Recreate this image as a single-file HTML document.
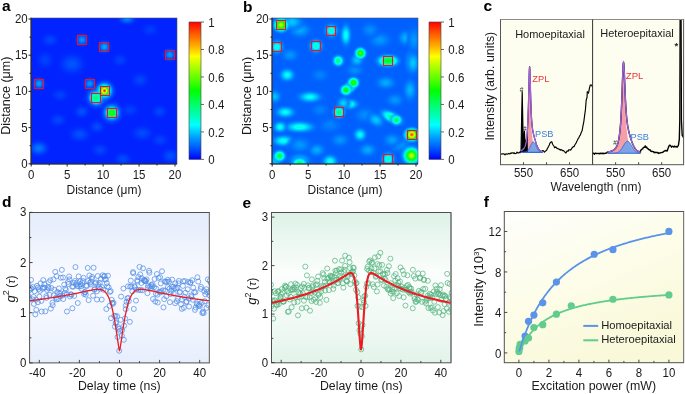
<!DOCTYPE html>
<html><head><meta charset="utf-8"><style>
html,body{margin:0;padding:0;background:#fff;}
body{width:685px;height:394px;overflow:hidden;}
svg{display:block;font-family:"Liberation Sans", sans-serif;will-change:transform;}
</style></head><body>
<svg width="685" height="394" viewBox="0 0 685 394">
<defs><radialGradient id="g0"><stop offset="0" stop-color="#0056ff" stop-opacity="1"/><stop offset="0.07" stop-color="#0055ff" stop-opacity="1"/><stop offset="0.14" stop-color="#0052ff" stop-opacity="1"/><stop offset="0.21" stop-color="#004eff" stop-opacity="1"/><stop offset="0.29" stop-color="#0049ff" stop-opacity="1"/><stop offset="0.36" stop-color="#0043ff" stop-opacity="1"/><stop offset="0.43" stop-color="#003dff" stop-opacity="1"/><stop offset="0.5" stop-color="#0038ff" stop-opacity="1"/><stop offset="0.57" stop-color="#0033ff" stop-opacity="0.95"/><stop offset="0.64" stop-color="#002fff" stop-opacity="0.79"/><stop offset="0.71" stop-color="#002dff" stop-opacity="0.63"/><stop offset="0.79" stop-color="#002aff" stop-opacity="0.48"/><stop offset="0.86" stop-color="#0029ff" stop-opacity="0.32"/><stop offset="0.93" stop-color="#0028ff" stop-opacity="0.16"/><stop offset="1" stop-color="#0027ff" stop-opacity="0"/></radialGradient><radialGradient id="g1"><stop offset="0" stop-color="#0084ff" stop-opacity="1"/><stop offset="0.07" stop-color="#0082ff" stop-opacity="1"/><stop offset="0.14" stop-color="#007dff" stop-opacity="1"/><stop offset="0.21" stop-color="#0074ff" stop-opacity="1"/><stop offset="0.29" stop-color="#006aff" stop-opacity="1"/><stop offset="0.36" stop-color="#005fff" stop-opacity="1"/><stop offset="0.43" stop-color="#0054ff" stop-opacity="1"/><stop offset="0.5" stop-color="#004aff" stop-opacity="1"/><stop offset="0.57" stop-color="#0042ff" stop-opacity="0.95"/><stop offset="0.64" stop-color="#003bff" stop-opacity="0.79"/><stop offset="0.71" stop-color="#0035ff" stop-opacity="0.63"/><stop offset="0.79" stop-color="#0031ff" stop-opacity="0.48"/><stop offset="0.86" stop-color="#002eff" stop-opacity="0.32"/><stop offset="0.93" stop-color="#002bff" stop-opacity="0.16"/><stop offset="1" stop-color="#002aff" stop-opacity="0"/></radialGradient><radialGradient id="g2"><stop offset="0" stop-color="#007aff" stop-opacity="1"/><stop offset="0.07" stop-color="#0078ff" stop-opacity="1"/><stop offset="0.14" stop-color="#0073ff" stop-opacity="1"/><stop offset="0.21" stop-color="#006cff" stop-opacity="1"/><stop offset="0.29" stop-color="#0063ff" stop-opacity="1"/><stop offset="0.36" stop-color="#0059ff" stop-opacity="1"/><stop offset="0.43" stop-color="#004fff" stop-opacity="1"/><stop offset="0.5" stop-color="#0046ff" stop-opacity="1"/><stop offset="0.57" stop-color="#003eff" stop-opacity="0.95"/><stop offset="0.64" stop-color="#0038ff" stop-opacity="0.79"/><stop offset="0.71" stop-color="#0033ff" stop-opacity="0.63"/><stop offset="0.79" stop-color="#002fff" stop-opacity="0.48"/><stop offset="0.86" stop-color="#002dff" stop-opacity="0.32"/><stop offset="0.93" stop-color="#002bff" stop-opacity="0.16"/><stop offset="1" stop-color="#0029ff" stop-opacity="0"/></radialGradient><radialGradient id="g3"><stop offset="0" stop-color="#0051ff" stop-opacity="1"/><stop offset="0.07" stop-color="#0050ff" stop-opacity="1"/><stop offset="0.14" stop-color="#004eff" stop-opacity="1"/><stop offset="0.21" stop-color="#004aff" stop-opacity="1"/><stop offset="0.29" stop-color="#0045ff" stop-opacity="1"/><stop offset="0.36" stop-color="#0040ff" stop-opacity="1"/><stop offset="0.43" stop-color="#003aff" stop-opacity="1"/><stop offset="0.5" stop-color="#0036ff" stop-opacity="1"/><stop offset="0.57" stop-color="#0032ff" stop-opacity="0.95"/><stop offset="0.64" stop-color="#002eff" stop-opacity="0.79"/><stop offset="0.71" stop-color="#002cff" stop-opacity="0.63"/><stop offset="0.79" stop-color="#002aff" stop-opacity="0.48"/><stop offset="0.86" stop-color="#0028ff" stop-opacity="0.32"/><stop offset="0.93" stop-color="#0027ff" stop-opacity="0.16"/><stop offset="1" stop-color="#0026ff" stop-opacity="0"/></radialGradient><radialGradient id="g4"><stop offset="0" stop-color="#0051ff" stop-opacity="1"/><stop offset="0.07" stop-color="#0050ff" stop-opacity="1"/><stop offset="0.14" stop-color="#004eff" stop-opacity="1"/><stop offset="0.21" stop-color="#004aff" stop-opacity="1"/><stop offset="0.29" stop-color="#0045ff" stop-opacity="1"/><stop offset="0.36" stop-color="#0040ff" stop-opacity="1"/><stop offset="0.43" stop-color="#003aff" stop-opacity="1"/><stop offset="0.5" stop-color="#0036ff" stop-opacity="1"/><stop offset="0.57" stop-color="#0032ff" stop-opacity="0.95"/><stop offset="0.64" stop-color="#002eff" stop-opacity="0.79"/><stop offset="0.71" stop-color="#002cff" stop-opacity="0.63"/><stop offset="0.79" stop-color="#002aff" stop-opacity="0.48"/><stop offset="0.86" stop-color="#0028ff" stop-opacity="0.32"/><stop offset="0.93" stop-color="#0027ff" stop-opacity="0.16"/><stop offset="1" stop-color="#0026ff" stop-opacity="0"/></radialGradient><radialGradient id="g5"><stop offset="0" stop-color="#004cff" stop-opacity="1"/><stop offset="0.07" stop-color="#004bff" stop-opacity="1"/><stop offset="0.14" stop-color="#0049ff" stop-opacity="1"/><stop offset="0.21" stop-color="#0045ff" stop-opacity="1"/><stop offset="0.29" stop-color="#0041ff" stop-opacity="1"/><stop offset="0.36" stop-color="#003cff" stop-opacity="1"/><stop offset="0.43" stop-color="#0038ff" stop-opacity="1"/><stop offset="0.5" stop-color="#0034ff" stop-opacity="1"/><stop offset="0.57" stop-color="#0030ff" stop-opacity="0.95"/><stop offset="0.64" stop-color="#002dff" stop-opacity="0.79"/><stop offset="0.71" stop-color="#002bff" stop-opacity="0.63"/><stop offset="0.79" stop-color="#0029ff" stop-opacity="0.48"/><stop offset="0.86" stop-color="#0028ff" stop-opacity="0.32"/><stop offset="0.93" stop-color="#0027ff" stop-opacity="0.16"/><stop offset="1" stop-color="#0026ff" stop-opacity="0"/></radialGradient><radialGradient id="g6"><stop offset="0" stop-color="#004cff" stop-opacity="1"/><stop offset="0.07" stop-color="#004bff" stop-opacity="1"/><stop offset="0.14" stop-color="#0049ff" stop-opacity="1"/><stop offset="0.21" stop-color="#0045ff" stop-opacity="1"/><stop offset="0.29" stop-color="#0041ff" stop-opacity="1"/><stop offset="0.36" stop-color="#003cff" stop-opacity="1"/><stop offset="0.43" stop-color="#0038ff" stop-opacity="1"/><stop offset="0.5" stop-color="#0034ff" stop-opacity="1"/><stop offset="0.57" stop-color="#0030ff" stop-opacity="0.95"/><stop offset="0.64" stop-color="#002dff" stop-opacity="0.79"/><stop offset="0.71" stop-color="#002bff" stop-opacity="0.63"/><stop offset="0.79" stop-color="#0029ff" stop-opacity="0.48"/><stop offset="0.86" stop-color="#0028ff" stop-opacity="0.32"/><stop offset="0.93" stop-color="#0027ff" stop-opacity="0.16"/><stop offset="1" stop-color="#0026ff" stop-opacity="0"/></radialGradient><radialGradient id="g7"><stop offset="0" stop-color="#0051ff" stop-opacity="1"/><stop offset="0.07" stop-color="#0050ff" stop-opacity="1"/><stop offset="0.14" stop-color="#004eff" stop-opacity="1"/><stop offset="0.21" stop-color="#004aff" stop-opacity="1"/><stop offset="0.29" stop-color="#0045ff" stop-opacity="1"/><stop offset="0.36" stop-color="#0040ff" stop-opacity="1"/><stop offset="0.43" stop-color="#003aff" stop-opacity="1"/><stop offset="0.5" stop-color="#0036ff" stop-opacity="1"/><stop offset="0.57" stop-color="#0032ff" stop-opacity="0.95"/><stop offset="0.64" stop-color="#002eff" stop-opacity="0.79"/><stop offset="0.71" stop-color="#002cff" stop-opacity="0.63"/><stop offset="0.79" stop-color="#002aff" stop-opacity="0.48"/><stop offset="0.86" stop-color="#0028ff" stop-opacity="0.32"/><stop offset="0.93" stop-color="#0027ff" stop-opacity="0.16"/><stop offset="1" stop-color="#0026ff" stop-opacity="0"/></radialGradient><radialGradient id="g8"><stop offset="0" stop-color="#0047ff" stop-opacity="1"/><stop offset="0.07" stop-color="#0046ff" stop-opacity="1"/><stop offset="0.14" stop-color="#0044ff" stop-opacity="1"/><stop offset="0.21" stop-color="#0041ff" stop-opacity="1"/><stop offset="0.29" stop-color="#003dff" stop-opacity="1"/><stop offset="0.36" stop-color="#0039ff" stop-opacity="1"/><stop offset="0.43" stop-color="#0035ff" stop-opacity="1"/><stop offset="0.5" stop-color="#0032ff" stop-opacity="1"/><stop offset="0.57" stop-color="#002eff" stop-opacity="0.95"/><stop offset="0.64" stop-color="#002cff" stop-opacity="0.79"/><stop offset="0.71" stop-color="#002aff" stop-opacity="0.63"/><stop offset="0.79" stop-color="#0028ff" stop-opacity="0.48"/><stop offset="0.86" stop-color="#0027ff" stop-opacity="0.32"/><stop offset="0.93" stop-color="#0026ff" stop-opacity="0.16"/><stop offset="1" stop-color="#0026ff" stop-opacity="0"/></radialGradient><radialGradient id="g9"><stop offset="0" stop-color="#004cff" stop-opacity="1"/><stop offset="0.07" stop-color="#004bff" stop-opacity="1"/><stop offset="0.14" stop-color="#0049ff" stop-opacity="1"/><stop offset="0.21" stop-color="#0045ff" stop-opacity="1"/><stop offset="0.29" stop-color="#0041ff" stop-opacity="1"/><stop offset="0.36" stop-color="#003cff" stop-opacity="1"/><stop offset="0.43" stop-color="#0038ff" stop-opacity="1"/><stop offset="0.5" stop-color="#0034ff" stop-opacity="1"/><stop offset="0.57" stop-color="#0030ff" stop-opacity="0.95"/><stop offset="0.64" stop-color="#002dff" stop-opacity="0.79"/><stop offset="0.71" stop-color="#002bff" stop-opacity="0.63"/><stop offset="0.79" stop-color="#0029ff" stop-opacity="0.48"/><stop offset="0.86" stop-color="#0028ff" stop-opacity="0.32"/><stop offset="0.93" stop-color="#0027ff" stop-opacity="0.16"/><stop offset="1" stop-color="#0026ff" stop-opacity="0"/></radialGradient><radialGradient id="g10"><stop offset="0" stop-color="#0047ff" stop-opacity="1"/><stop offset="0.07" stop-color="#0046ff" stop-opacity="1"/><stop offset="0.14" stop-color="#0044ff" stop-opacity="1"/><stop offset="0.21" stop-color="#0041ff" stop-opacity="1"/><stop offset="0.29" stop-color="#003dff" stop-opacity="1"/><stop offset="0.36" stop-color="#0039ff" stop-opacity="1"/><stop offset="0.43" stop-color="#0035ff" stop-opacity="1"/><stop offset="0.5" stop-color="#0032ff" stop-opacity="1"/><stop offset="0.57" stop-color="#002eff" stop-opacity="0.95"/><stop offset="0.64" stop-color="#002cff" stop-opacity="0.79"/><stop offset="0.71" stop-color="#002aff" stop-opacity="0.63"/><stop offset="0.79" stop-color="#0028ff" stop-opacity="0.48"/><stop offset="0.86" stop-color="#0027ff" stop-opacity="0.32"/><stop offset="0.93" stop-color="#0026ff" stop-opacity="0.16"/><stop offset="1" stop-color="#0026ff" stop-opacity="0"/></radialGradient><radialGradient id="g11"><stop offset="0" stop-color="#0047ff" stop-opacity="1"/><stop offset="0.07" stop-color="#0046ff" stop-opacity="1"/><stop offset="0.14" stop-color="#0044ff" stop-opacity="1"/><stop offset="0.21" stop-color="#0041ff" stop-opacity="1"/><stop offset="0.29" stop-color="#003dff" stop-opacity="1"/><stop offset="0.36" stop-color="#0039ff" stop-opacity="1"/><stop offset="0.43" stop-color="#0035ff" stop-opacity="1"/><stop offset="0.5" stop-color="#0032ff" stop-opacity="1"/><stop offset="0.57" stop-color="#002eff" stop-opacity="0.95"/><stop offset="0.64" stop-color="#002cff" stop-opacity="0.79"/><stop offset="0.71" stop-color="#002aff" stop-opacity="0.63"/><stop offset="0.79" stop-color="#0028ff" stop-opacity="0.48"/><stop offset="0.86" stop-color="#0027ff" stop-opacity="0.32"/><stop offset="0.93" stop-color="#0026ff" stop-opacity="0.16"/><stop offset="1" stop-color="#0026ff" stop-opacity="0"/></radialGradient><radialGradient id="g12"><stop offset="0" stop-color="#0047ff" stop-opacity="1"/><stop offset="0.07" stop-color="#0046ff" stop-opacity="1"/><stop offset="0.14" stop-color="#0044ff" stop-opacity="1"/><stop offset="0.21" stop-color="#0041ff" stop-opacity="1"/><stop offset="0.29" stop-color="#003dff" stop-opacity="1"/><stop offset="0.36" stop-color="#0039ff" stop-opacity="1"/><stop offset="0.43" stop-color="#0035ff" stop-opacity="1"/><stop offset="0.5" stop-color="#0032ff" stop-opacity="1"/><stop offset="0.57" stop-color="#002eff" stop-opacity="0.95"/><stop offset="0.64" stop-color="#002cff" stop-opacity="0.79"/><stop offset="0.71" stop-color="#002aff" stop-opacity="0.63"/><stop offset="0.79" stop-color="#0028ff" stop-opacity="0.48"/><stop offset="0.86" stop-color="#0027ff" stop-opacity="0.32"/><stop offset="0.93" stop-color="#0026ff" stop-opacity="0.16"/><stop offset="1" stop-color="#0026ff" stop-opacity="0"/></radialGradient><radialGradient id="g13"><stop offset="0" stop-color="#0042ff" stop-opacity="1"/><stop offset="0.07" stop-color="#0041ff" stop-opacity="1"/><stop offset="0.14" stop-color="#003fff" stop-opacity="1"/><stop offset="0.21" stop-color="#003dff" stop-opacity="1"/><stop offset="0.29" stop-color="#003aff" stop-opacity="1"/><stop offset="0.36" stop-color="#0036ff" stop-opacity="1"/><stop offset="0.43" stop-color="#0033ff" stop-opacity="1"/><stop offset="0.5" stop-color="#0030ff" stop-opacity="1"/><stop offset="0.57" stop-color="#002dff" stop-opacity="0.95"/><stop offset="0.64" stop-color="#002bff" stop-opacity="0.79"/><stop offset="0.71" stop-color="#0029ff" stop-opacity="0.63"/><stop offset="0.79" stop-color="#0028ff" stop-opacity="0.48"/><stop offset="0.86" stop-color="#0027ff" stop-opacity="0.32"/><stop offset="0.93" stop-color="#0026ff" stop-opacity="0.16"/><stop offset="1" stop-color="#0025ff" stop-opacity="0"/></radialGradient><radialGradient id="g14"><stop offset="0" stop-color="#0042ff" stop-opacity="1"/><stop offset="0.07" stop-color="#0041ff" stop-opacity="1"/><stop offset="0.14" stop-color="#003fff" stop-opacity="1"/><stop offset="0.21" stop-color="#003dff" stop-opacity="1"/><stop offset="0.29" stop-color="#003aff" stop-opacity="1"/><stop offset="0.36" stop-color="#0036ff" stop-opacity="1"/><stop offset="0.43" stop-color="#0033ff" stop-opacity="1"/><stop offset="0.5" stop-color="#0030ff" stop-opacity="1"/><stop offset="0.57" stop-color="#002dff" stop-opacity="0.95"/><stop offset="0.64" stop-color="#002bff" stop-opacity="0.79"/><stop offset="0.71" stop-color="#0029ff" stop-opacity="0.63"/><stop offset="0.79" stop-color="#0028ff" stop-opacity="0.48"/><stop offset="0.86" stop-color="#0027ff" stop-opacity="0.32"/><stop offset="0.93" stop-color="#0026ff" stop-opacity="0.16"/><stop offset="1" stop-color="#0025ff" stop-opacity="0"/></radialGradient><radialGradient id="g15"><stop offset="0" stop-color="#003dff" stop-opacity="1"/><stop offset="0.07" stop-color="#003cff" stop-opacity="1"/><stop offset="0.14" stop-color="#003bff" stop-opacity="1"/><stop offset="0.21" stop-color="#0039ff" stop-opacity="1"/><stop offset="0.29" stop-color="#0036ff" stop-opacity="1"/><stop offset="0.36" stop-color="#0033ff" stop-opacity="1"/><stop offset="0.43" stop-color="#0030ff" stop-opacity="1"/><stop offset="0.5" stop-color="#002dff" stop-opacity="1"/><stop offset="0.57" stop-color="#002bff" stop-opacity="0.95"/><stop offset="0.64" stop-color="#0029ff" stop-opacity="0.79"/><stop offset="0.71" stop-color="#0028ff" stop-opacity="0.63"/><stop offset="0.79" stop-color="#0027ff" stop-opacity="0.48"/><stop offset="0.86" stop-color="#0026ff" stop-opacity="0.32"/><stop offset="0.93" stop-color="#0025ff" stop-opacity="0.16"/><stop offset="1" stop-color="#0025ff" stop-opacity="0"/></radialGradient><radialGradient id="g16"><stop offset="0" stop-color="#0042ff" stop-opacity="1"/><stop offset="0.07" stop-color="#0041ff" stop-opacity="1"/><stop offset="0.14" stop-color="#003fff" stop-opacity="1"/><stop offset="0.21" stop-color="#003dff" stop-opacity="1"/><stop offset="0.29" stop-color="#003aff" stop-opacity="1"/><stop offset="0.36" stop-color="#0036ff" stop-opacity="1"/><stop offset="0.43" stop-color="#0033ff" stop-opacity="1"/><stop offset="0.5" stop-color="#0030ff" stop-opacity="1"/><stop offset="0.57" stop-color="#002dff" stop-opacity="0.95"/><stop offset="0.64" stop-color="#002bff" stop-opacity="0.79"/><stop offset="0.71" stop-color="#0029ff" stop-opacity="0.63"/><stop offset="0.79" stop-color="#0028ff" stop-opacity="0.48"/><stop offset="0.86" stop-color="#0027ff" stop-opacity="0.32"/><stop offset="0.93" stop-color="#0026ff" stop-opacity="0.16"/><stop offset="1" stop-color="#0025ff" stop-opacity="0"/></radialGradient><radialGradient id="g17"><stop offset="0" stop-color="#0042ff" stop-opacity="1"/><stop offset="0.07" stop-color="#0041ff" stop-opacity="1"/><stop offset="0.14" stop-color="#003fff" stop-opacity="1"/><stop offset="0.21" stop-color="#003dff" stop-opacity="1"/><stop offset="0.29" stop-color="#003aff" stop-opacity="1"/><stop offset="0.36" stop-color="#0036ff" stop-opacity="1"/><stop offset="0.43" stop-color="#0033ff" stop-opacity="1"/><stop offset="0.5" stop-color="#0030ff" stop-opacity="1"/><stop offset="0.57" stop-color="#002dff" stop-opacity="0.95"/><stop offset="0.64" stop-color="#002bff" stop-opacity="0.79"/><stop offset="0.71" stop-color="#0029ff" stop-opacity="0.63"/><stop offset="0.79" stop-color="#0028ff" stop-opacity="0.48"/><stop offset="0.86" stop-color="#0027ff" stop-opacity="0.32"/><stop offset="0.93" stop-color="#0026ff" stop-opacity="0.16"/><stop offset="1" stop-color="#0025ff" stop-opacity="0"/></radialGradient><radialGradient id="g18"><stop offset="0" stop-color="#0042ff" stop-opacity="1"/><stop offset="0.07" stop-color="#0041ff" stop-opacity="1"/><stop offset="0.14" stop-color="#003fff" stop-opacity="1"/><stop offset="0.21" stop-color="#003dff" stop-opacity="1"/><stop offset="0.29" stop-color="#003aff" stop-opacity="1"/><stop offset="0.36" stop-color="#0036ff" stop-opacity="1"/><stop offset="0.43" stop-color="#0033ff" stop-opacity="1"/><stop offset="0.5" stop-color="#0030ff" stop-opacity="1"/><stop offset="0.57" stop-color="#002dff" stop-opacity="0.95"/><stop offset="0.64" stop-color="#002bff" stop-opacity="0.79"/><stop offset="0.71" stop-color="#0029ff" stop-opacity="0.63"/><stop offset="0.79" stop-color="#0028ff" stop-opacity="0.48"/><stop offset="0.86" stop-color="#0027ff" stop-opacity="0.32"/><stop offset="0.93" stop-color="#0026ff" stop-opacity="0.16"/><stop offset="1" stop-color="#0025ff" stop-opacity="0"/></radialGradient><radialGradient id="g19"><stop offset="0" stop-color="#0047ff" stop-opacity="1"/><stop offset="0.07" stop-color="#0046ff" stop-opacity="1"/><stop offset="0.14" stop-color="#0044ff" stop-opacity="1"/><stop offset="0.21" stop-color="#0041ff" stop-opacity="1"/><stop offset="0.29" stop-color="#003dff" stop-opacity="1"/><stop offset="0.36" stop-color="#0039ff" stop-opacity="1"/><stop offset="0.43" stop-color="#0035ff" stop-opacity="1"/><stop offset="0.5" stop-color="#0032ff" stop-opacity="1"/><stop offset="0.57" stop-color="#002eff" stop-opacity="0.95"/><stop offset="0.64" stop-color="#002cff" stop-opacity="0.79"/><stop offset="0.71" stop-color="#002aff" stop-opacity="0.63"/><stop offset="0.79" stop-color="#0028ff" stop-opacity="0.48"/><stop offset="0.86" stop-color="#0027ff" stop-opacity="0.32"/><stop offset="0.93" stop-color="#0026ff" stop-opacity="0.16"/><stop offset="1" stop-color="#0026ff" stop-opacity="0"/></radialGradient><radialGradient id="g20"><stop offset="0" stop-color="#0099ff" stop-opacity="1"/><stop offset="0.07" stop-color="#0096ff" stop-opacity="1"/><stop offset="0.14" stop-color="#0090ff" stop-opacity="1"/><stop offset="0.21" stop-color="#0085ff" stop-opacity="1"/><stop offset="0.29" stop-color="#0079ff" stop-opacity="1"/><stop offset="0.36" stop-color="#006cff" stop-opacity="1"/><stop offset="0.43" stop-color="#005eff" stop-opacity="1"/><stop offset="0.5" stop-color="#0052ff" stop-opacity="1"/><stop offset="0.57" stop-color="#0048ff" stop-opacity="0.95"/><stop offset="0.64" stop-color="#003fff" stop-opacity="0.79"/><stop offset="0.71" stop-color="#0039ff" stop-opacity="0.63"/><stop offset="0.79" stop-color="#0034ff" stop-opacity="0.48"/><stop offset="0.86" stop-color="#0030ff" stop-opacity="0.32"/><stop offset="0.93" stop-color="#002dff" stop-opacity="0.16"/><stop offset="1" stop-color="#002bff" stop-opacity="0"/></radialGradient><radialGradient id="g21"><stop offset="0" stop-color="#00adff" stop-opacity="1"/><stop offset="0.07" stop-color="#00aaff" stop-opacity="1"/><stop offset="0.14" stop-color="#00a2ff" stop-opacity="1"/><stop offset="0.21" stop-color="#0097ff" stop-opacity="1"/><stop offset="0.29" stop-color="#0088ff" stop-opacity="1"/><stop offset="0.36" stop-color="#0078ff" stop-opacity="1"/><stop offset="0.43" stop-color="#0069ff" stop-opacity="1"/><stop offset="0.5" stop-color="#005bff" stop-opacity="1"/><stop offset="0.57" stop-color="#004eff" stop-opacity="0.95"/><stop offset="0.64" stop-color="#0044ff" stop-opacity="0.79"/><stop offset="0.71" stop-color="#003dff" stop-opacity="0.63"/><stop offset="0.79" stop-color="#0037ff" stop-opacity="0.48"/><stop offset="0.86" stop-color="#0032ff" stop-opacity="0.32"/><stop offset="0.93" stop-color="#002fff" stop-opacity="0.16"/><stop offset="1" stop-color="#002dff" stop-opacity="0"/></radialGradient><radialGradient id="g22"><stop offset="0" stop-color="#009eff" stop-opacity="1"/><stop offset="0.07" stop-color="#009bff" stop-opacity="1"/><stop offset="0.14" stop-color="#0094ff" stop-opacity="1"/><stop offset="0.21" stop-color="#008aff" stop-opacity="1"/><stop offset="0.29" stop-color="#007dff" stop-opacity="1"/><stop offset="0.36" stop-color="#006fff" stop-opacity="1"/><stop offset="0.43" stop-color="#0061ff" stop-opacity="1"/><stop offset="0.5" stop-color="#0054ff" stop-opacity="1"/><stop offset="0.57" stop-color="#004aff" stop-opacity="0.95"/><stop offset="0.64" stop-color="#0041ff" stop-opacity="0.79"/><stop offset="0.71" stop-color="#003aff" stop-opacity="0.63"/><stop offset="0.79" stop-color="#0034ff" stop-opacity="0.48"/><stop offset="0.86" stop-color="#0031ff" stop-opacity="0.32"/><stop offset="0.93" stop-color="#002eff" stop-opacity="0.16"/><stop offset="1" stop-color="#002bff" stop-opacity="0"/></radialGradient><radialGradient id="g23"><stop offset="0" stop-color="#00a3ff" stop-opacity="1"/><stop offset="0.07" stop-color="#00a0ff" stop-opacity="1"/><stop offset="0.14" stop-color="#0099ff" stop-opacity="1"/><stop offset="0.21" stop-color="#008eff" stop-opacity="1"/><stop offset="0.29" stop-color="#0081ff" stop-opacity="1"/><stop offset="0.36" stop-color="#0072ff" stop-opacity="1"/><stop offset="0.43" stop-color="#0064ff" stop-opacity="1"/><stop offset="0.5" stop-color="#0056ff" stop-opacity="1"/><stop offset="0.57" stop-color="#004bff" stop-opacity="0.95"/><stop offset="0.64" stop-color="#0042ff" stop-opacity="0.79"/><stop offset="0.71" stop-color="#003bff" stop-opacity="0.63"/><stop offset="0.79" stop-color="#0035ff" stop-opacity="0.48"/><stop offset="0.86" stop-color="#0031ff" stop-opacity="0.32"/><stop offset="0.93" stop-color="#002eff" stop-opacity="0.16"/><stop offset="1" stop-color="#002cff" stop-opacity="0"/></radialGradient><radialGradient id="g24"><stop offset="0" stop-color="#0099ff" stop-opacity="1"/><stop offset="0.07" stop-color="#0096ff" stop-opacity="1"/><stop offset="0.14" stop-color="#0090ff" stop-opacity="1"/><stop offset="0.21" stop-color="#0085ff" stop-opacity="1"/><stop offset="0.29" stop-color="#0079ff" stop-opacity="1"/><stop offset="0.36" stop-color="#006cff" stop-opacity="1"/><stop offset="0.43" stop-color="#005eff" stop-opacity="1"/><stop offset="0.5" stop-color="#0052ff" stop-opacity="1"/><stop offset="0.57" stop-color="#0048ff" stop-opacity="0.95"/><stop offset="0.64" stop-color="#003fff" stop-opacity="0.79"/><stop offset="0.71" stop-color="#0039ff" stop-opacity="0.63"/><stop offset="0.79" stop-color="#0034ff" stop-opacity="0.48"/><stop offset="0.86" stop-color="#0030ff" stop-opacity="0.32"/><stop offset="0.93" stop-color="#002dff" stop-opacity="0.16"/><stop offset="1" stop-color="#002bff" stop-opacity="0"/></radialGradient><radialGradient id="g25"><stop offset="0" stop-color="#00ffea" stop-opacity="1"/><stop offset="0.07" stop-color="#00ffef" stop-opacity="1"/><stop offset="0.14" stop-color="#00fffc" stop-opacity="1"/><stop offset="0.21" stop-color="#00ecff" stop-opacity="1"/><stop offset="0.29" stop-color="#00d3ff" stop-opacity="1"/><stop offset="0.36" stop-color="#00b7ff" stop-opacity="1"/><stop offset="0.43" stop-color="#009cff" stop-opacity="1"/><stop offset="0.5" stop-color="#0084ff" stop-opacity="1"/><stop offset="0.57" stop-color="#006eff" stop-opacity="0.95"/><stop offset="0.64" stop-color="#005dff" stop-opacity="0.79"/><stop offset="0.71" stop-color="#004fff" stop-opacity="0.63"/><stop offset="0.79" stop-color="#0045ff" stop-opacity="0.48"/><stop offset="0.86" stop-color="#003dff" stop-opacity="0.32"/><stop offset="0.93" stop-color="#0038ff" stop-opacity="0.16"/><stop offset="1" stop-color="#0033ff" stop-opacity="0"/></radialGradient><radialGradient id="g26"><stop offset="0" stop-color="#00ff51" stop-opacity="1"/><stop offset="0.07" stop-color="#00ff59" stop-opacity="1"/><stop offset="0.14" stop-color="#00ff6f" stop-opacity="1"/><stop offset="0.21" stop-color="#00ff91" stop-opacity="1"/><stop offset="0.29" stop-color="#00ffba" stop-opacity="1"/><stop offset="0.36" stop-color="#00ffe7" stop-opacity="1"/><stop offset="0.43" stop-color="#00eaff" stop-opacity="1"/><stop offset="0.5" stop-color="#00c1ff" stop-opacity="1"/><stop offset="0.57" stop-color="#009eff" stop-opacity="0.95"/><stop offset="0.64" stop-color="#0082ff" stop-opacity="0.79"/><stop offset="0.71" stop-color="#006bff" stop-opacity="0.63"/><stop offset="0.79" stop-color="#005bff" stop-opacity="0.48"/><stop offset="0.86" stop-color="#004eff" stop-opacity="0.32"/><stop offset="0.93" stop-color="#0045ff" stop-opacity="0.16"/><stop offset="1" stop-color="#003eff" stop-opacity="0"/></radialGradient><radialGradient id="g27"><stop offset="0" stop-color="#00ffcb" stop-opacity="1"/><stop offset="0.07" stop-color="#00ffd1" stop-opacity="1"/><stop offset="0.14" stop-color="#00ffe0" stop-opacity="1"/><stop offset="0.21" stop-color="#00fff7" stop-opacity="1"/><stop offset="0.29" stop-color="#00e9ff" stop-opacity="1"/><stop offset="0.36" stop-color="#00caff" stop-opacity="1"/><stop offset="0.43" stop-color="#00acff" stop-opacity="1"/><stop offset="0.5" stop-color="#0090ff" stop-opacity="1"/><stop offset="0.57" stop-color="#0078ff" stop-opacity="0.95"/><stop offset="0.64" stop-color="#0064ff" stop-opacity="0.79"/><stop offset="0.71" stop-color="#0055ff" stop-opacity="0.63"/><stop offset="0.79" stop-color="#0049ff" stop-opacity="0.48"/><stop offset="0.86" stop-color="#0041ff" stop-opacity="0.32"/><stop offset="0.93" stop-color="#003aff" stop-opacity="0.16"/><stop offset="1" stop-color="#0035ff" stop-opacity="0"/></radialGradient><radialGradient id="g28"><stop offset="0" stop-color="#00ff65" stop-opacity="1"/><stop offset="0.07" stop-color="#00ff69" stop-opacity="1"/><stop offset="0.14" stop-color="#00ff72" stop-opacity="1"/><stop offset="0.21" stop-color="#00ff80" stop-opacity="1"/><stop offset="0.29" stop-color="#00ff91" stop-opacity="1"/><stop offset="0.36" stop-color="#00ffa4" stop-opacity="1"/><stop offset="0.43" stop-color="#00ffb6" stop-opacity="1"/><stop offset="0.5" stop-color="#00ffc7" stop-opacity="1"/><stop offset="0.57" stop-color="#00ffd6" stop-opacity="0.95"/><stop offset="0.64" stop-color="#00ffe1" stop-opacity="0.79"/><stop offset="0.71" stop-color="#00ffeb" stop-opacity="0.63"/><stop offset="0.79" stop-color="#00fff2" stop-opacity="0.48"/><stop offset="0.86" stop-color="#00fff7" stop-opacity="0.32"/><stop offset="0.93" stop-color="#00fffb" stop-opacity="0.16"/><stop offset="1" stop-color="#00fffe" stop-opacity="0"/></radialGradient><radialGradient id="g29"><stop offset="0" stop-color="#51ff00" stop-opacity="1"/><stop offset="0.07" stop-color="#4bff00" stop-opacity="1"/><stop offset="0.14" stop-color="#39ff00" stop-opacity="1"/><stop offset="0.21" stop-color="#1eff00" stop-opacity="1"/><stop offset="0.29" stop-color="#00ff03" stop-opacity="1"/><stop offset="0.36" stop-color="#00ff27" stop-opacity="1"/><stop offset="0.43" stop-color="#00ff4a" stop-opacity="1"/><stop offset="0.5" stop-color="#00ff6b" stop-opacity="1"/><stop offset="0.57" stop-color="#00ff87" stop-opacity="0.95"/><stop offset="0.64" stop-color="#00ff9e" stop-opacity="0.79"/><stop offset="0.71" stop-color="#00ffb0" stop-opacity="0.63"/><stop offset="0.79" stop-color="#00ffbe" stop-opacity="0.48"/><stop offset="0.86" stop-color="#00ffc8" stop-opacity="0.32"/><stop offset="0.93" stop-color="#00ffcf" stop-opacity="0.16"/><stop offset="1" stop-color="#00ffd5" stop-opacity="0"/></radialGradient><radialGradient id="g30"><stop offset="0" stop-color="#ff1e00" stop-opacity="1"/><stop offset="0.07" stop-color="#ff2a00" stop-opacity="1"/><stop offset="0.14" stop-color="#ff4a00" stop-opacity="1"/><stop offset="0.21" stop-color="#ff7c00" stop-opacity="1"/><stop offset="0.29" stop-color="#ffba00" stop-opacity="1"/><stop offset="0.36" stop-color="#fffc00" stop-opacity="1"/><stop offset="0.43" stop-color="#bfff00" stop-opacity="1"/><stop offset="0.5" stop-color="#83ff00" stop-opacity="1"/><stop offset="0.57" stop-color="#50ff00" stop-opacity="0.95"/><stop offset="0.64" stop-color="#25ff00" stop-opacity="0.79"/><stop offset="0.71" stop-color="#04ff00" stop-opacity="0.63"/><stop offset="0.79" stop-color="#00ff14" stop-opacity="0.48"/><stop offset="0.86" stop-color="#00ff26" stop-opacity="0.32"/><stop offset="0.93" stop-color="#00ff34" stop-opacity="0.16"/><stop offset="1" stop-color="#00ff3e" stop-opacity="0"/></radialGradient><radialGradient id="g31"><stop offset="0" stop-color="#00ffea" stop-opacity="1"/><stop offset="0.07" stop-color="#00ffee" stop-opacity="1"/><stop offset="0.14" stop-color="#00fff8" stop-opacity="1"/><stop offset="0.21" stop-color="#00f6ff" stop-opacity="1"/><stop offset="0.29" stop-color="#00e3ff" stop-opacity="1"/><stop offset="0.36" stop-color="#00cfff" stop-opacity="1"/><stop offset="0.43" stop-color="#00bbff" stop-opacity="1"/><stop offset="0.5" stop-color="#00a8ff" stop-opacity="1"/><stop offset="0.57" stop-color="#0098ff" stop-opacity="0.95"/><stop offset="0.64" stop-color="#008bff" stop-opacity="0.79"/><stop offset="0.71" stop-color="#0081ff" stop-opacity="0.63"/><stop offset="0.79" stop-color="#007aff" stop-opacity="0.48"/><stop offset="0.86" stop-color="#0074ff" stop-opacity="0.32"/><stop offset="0.93" stop-color="#0070ff" stop-opacity="0.16"/><stop offset="1" stop-color="#006cff" stop-opacity="0"/></radialGradient><radialGradient id="g32"><stop offset="0" stop-color="#00fff4" stop-opacity="1"/><stop offset="0.07" stop-color="#00fff8" stop-opacity="1"/><stop offset="0.14" stop-color="#00fcff" stop-opacity="1"/><stop offset="0.21" stop-color="#00edff" stop-opacity="1"/><stop offset="0.29" stop-color="#00dcff" stop-opacity="1"/><stop offset="0.36" stop-color="#00c8ff" stop-opacity="1"/><stop offset="0.43" stop-color="#00b5ff" stop-opacity="1"/><stop offset="0.5" stop-color="#00a4ff" stop-opacity="1"/><stop offset="0.57" stop-color="#0095ff" stop-opacity="0.95"/><stop offset="0.64" stop-color="#0089ff" stop-opacity="0.79"/><stop offset="0.71" stop-color="#007fff" stop-opacity="0.63"/><stop offset="0.79" stop-color="#0078ff" stop-opacity="0.48"/><stop offset="0.86" stop-color="#0073ff" stop-opacity="0.32"/><stop offset="0.93" stop-color="#006fff" stop-opacity="0.16"/><stop offset="1" stop-color="#006cff" stop-opacity="0"/></radialGradient><radialGradient id="g33"><stop offset="0" stop-color="#00fff4" stop-opacity="1"/><stop offset="0.07" stop-color="#00fff8" stop-opacity="1"/><stop offset="0.14" stop-color="#00fcff" stop-opacity="1"/><stop offset="0.21" stop-color="#00edff" stop-opacity="1"/><stop offset="0.29" stop-color="#00dcff" stop-opacity="1"/><stop offset="0.36" stop-color="#00c8ff" stop-opacity="1"/><stop offset="0.43" stop-color="#00b5ff" stop-opacity="1"/><stop offset="0.5" stop-color="#00a4ff" stop-opacity="1"/><stop offset="0.57" stop-color="#0095ff" stop-opacity="0.95"/><stop offset="0.64" stop-color="#0089ff" stop-opacity="0.79"/><stop offset="0.71" stop-color="#007fff" stop-opacity="0.63"/><stop offset="0.79" stop-color="#0078ff" stop-opacity="0.48"/><stop offset="0.86" stop-color="#0073ff" stop-opacity="0.32"/><stop offset="0.93" stop-color="#006fff" stop-opacity="0.16"/><stop offset="1" stop-color="#006cff" stop-opacity="0"/></radialGradient><radialGradient id="g34"><stop offset="0" stop-color="#00ffe0" stop-opacity="1"/><stop offset="0.07" stop-color="#00ffe4" stop-opacity="1"/><stop offset="0.14" stop-color="#00ffee" stop-opacity="1"/><stop offset="0.21" stop-color="#00fffe" stop-opacity="1"/><stop offset="0.29" stop-color="#00ebff" stop-opacity="1"/><stop offset="0.36" stop-color="#00d5ff" stop-opacity="1"/><stop offset="0.43" stop-color="#00c0ff" stop-opacity="1"/><stop offset="0.5" stop-color="#00acff" stop-opacity="1"/><stop offset="0.57" stop-color="#009cff" stop-opacity="0.95"/><stop offset="0.64" stop-color="#008eff" stop-opacity="0.79"/><stop offset="0.71" stop-color="#0083ff" stop-opacity="0.63"/><stop offset="0.79" stop-color="#007bff" stop-opacity="0.48"/><stop offset="0.86" stop-color="#0075ff" stop-opacity="0.32"/><stop offset="0.93" stop-color="#0070ff" stop-opacity="0.16"/><stop offset="1" stop-color="#006dff" stop-opacity="0"/></radialGradient><radialGradient id="g35"><stop offset="0" stop-color="#00ffea" stop-opacity="1"/><stop offset="0.07" stop-color="#00ffee" stop-opacity="1"/><stop offset="0.14" stop-color="#00fff8" stop-opacity="1"/><stop offset="0.21" stop-color="#00f6ff" stop-opacity="1"/><stop offset="0.29" stop-color="#00e3ff" stop-opacity="1"/><stop offset="0.36" stop-color="#00cfff" stop-opacity="1"/><stop offset="0.43" stop-color="#00bbff" stop-opacity="1"/><stop offset="0.5" stop-color="#00a8ff" stop-opacity="1"/><stop offset="0.57" stop-color="#0098ff" stop-opacity="0.95"/><stop offset="0.64" stop-color="#008bff" stop-opacity="0.79"/><stop offset="0.71" stop-color="#0081ff" stop-opacity="0.63"/><stop offset="0.79" stop-color="#007aff" stop-opacity="0.48"/><stop offset="0.86" stop-color="#0074ff" stop-opacity="0.32"/><stop offset="0.93" stop-color="#0070ff" stop-opacity="0.16"/><stop offset="1" stop-color="#006cff" stop-opacity="0"/></radialGradient><radialGradient id="g36"><stop offset="0" stop-color="#00ffea" stop-opacity="1"/><stop offset="0.07" stop-color="#00ffee" stop-opacity="1"/><stop offset="0.14" stop-color="#00fff8" stop-opacity="1"/><stop offset="0.21" stop-color="#00f6ff" stop-opacity="1"/><stop offset="0.29" stop-color="#00e3ff" stop-opacity="1"/><stop offset="0.36" stop-color="#00cfff" stop-opacity="1"/><stop offset="0.43" stop-color="#00bbff" stop-opacity="1"/><stop offset="0.5" stop-color="#00a8ff" stop-opacity="1"/><stop offset="0.57" stop-color="#0098ff" stop-opacity="0.95"/><stop offset="0.64" stop-color="#008bff" stop-opacity="0.79"/><stop offset="0.71" stop-color="#0081ff" stop-opacity="0.63"/><stop offset="0.79" stop-color="#007aff" stop-opacity="0.48"/><stop offset="0.86" stop-color="#0074ff" stop-opacity="0.32"/><stop offset="0.93" stop-color="#0070ff" stop-opacity="0.16"/><stop offset="1" stop-color="#006cff" stop-opacity="0"/></radialGradient><radialGradient id="g37"><stop offset="0" stop-color="#00ffcb" stop-opacity="1"/><stop offset="0.07" stop-color="#00ffd0" stop-opacity="1"/><stop offset="0.14" stop-color="#00ffdb" stop-opacity="1"/><stop offset="0.21" stop-color="#00ffed" stop-opacity="1"/><stop offset="0.29" stop-color="#00f9ff" stop-opacity="1"/><stop offset="0.36" stop-color="#00e2ff" stop-opacity="1"/><stop offset="0.43" stop-color="#00caff" stop-opacity="1"/><stop offset="0.5" stop-color="#00b4ff" stop-opacity="1"/><stop offset="0.57" stop-color="#00a2ff" stop-opacity="0.95"/><stop offset="0.64" stop-color="#0093ff" stop-opacity="0.79"/><stop offset="0.71" stop-color="#0087ff" stop-opacity="0.63"/><stop offset="0.79" stop-color="#007eff" stop-opacity="0.48"/><stop offset="0.86" stop-color="#0077ff" stop-opacity="0.32"/><stop offset="0.93" stop-color="#0072ff" stop-opacity="0.16"/><stop offset="1" stop-color="#006fff" stop-opacity="0"/></radialGradient><radialGradient id="g38"><stop offset="0" stop-color="#00fff4" stop-opacity="1"/><stop offset="0.07" stop-color="#00fff8" stop-opacity="1"/><stop offset="0.14" stop-color="#00fcff" stop-opacity="1"/><stop offset="0.21" stop-color="#00edff" stop-opacity="1"/><stop offset="0.29" stop-color="#00dcff" stop-opacity="1"/><stop offset="0.36" stop-color="#00c8ff" stop-opacity="1"/><stop offset="0.43" stop-color="#00b5ff" stop-opacity="1"/><stop offset="0.5" stop-color="#00a4ff" stop-opacity="1"/><stop offset="0.57" stop-color="#0095ff" stop-opacity="0.95"/><stop offset="0.64" stop-color="#0089ff" stop-opacity="0.79"/><stop offset="0.71" stop-color="#007fff" stop-opacity="0.63"/><stop offset="0.79" stop-color="#0078ff" stop-opacity="0.48"/><stop offset="0.86" stop-color="#0073ff" stop-opacity="0.32"/><stop offset="0.93" stop-color="#006fff" stop-opacity="0.16"/><stop offset="1" stop-color="#006cff" stop-opacity="0"/></radialGradient><radialGradient id="g39"><stop offset="0" stop-color="#00b7ff" stop-opacity="1"/><stop offset="0.07" stop-color="#00b5ff" stop-opacity="1"/><stop offset="0.14" stop-color="#00b1ff" stop-opacity="1"/><stop offset="0.21" stop-color="#00a9ff" stop-opacity="1"/><stop offset="0.29" stop-color="#00a0ff" stop-opacity="1"/><stop offset="0.36" stop-color="#0096ff" stop-opacity="1"/><stop offset="0.43" stop-color="#008cff" stop-opacity="1"/><stop offset="0.5" stop-color="#0083ff" stop-opacity="1"/><stop offset="0.57" stop-color="#007cff" stop-opacity="0.95"/><stop offset="0.64" stop-color="#0075ff" stop-opacity="0.79"/><stop offset="0.71" stop-color="#0070ff" stop-opacity="0.63"/><stop offset="0.79" stop-color="#006dff" stop-opacity="0.48"/><stop offset="0.86" stop-color="#006aff" stop-opacity="0.32"/><stop offset="0.93" stop-color="#0068ff" stop-opacity="0.16"/><stop offset="1" stop-color="#0066ff" stop-opacity="0"/></radialGradient><radialGradient id="g40"><stop offset="0" stop-color="#00e0ff" stop-opacity="1"/><stop offset="0.07" stop-color="#00ddff" stop-opacity="1"/><stop offset="0.14" stop-color="#00d6ff" stop-opacity="1"/><stop offset="0.21" stop-color="#00cbff" stop-opacity="1"/><stop offset="0.29" stop-color="#00beff" stop-opacity="1"/><stop offset="0.36" stop-color="#00afff" stop-opacity="1"/><stop offset="0.43" stop-color="#00a1ff" stop-opacity="1"/><stop offset="0.5" stop-color="#0094ff" stop-opacity="1"/><stop offset="0.57" stop-color="#0088ff" stop-opacity="0.95"/><stop offset="0.64" stop-color="#007fff" stop-opacity="0.79"/><stop offset="0.71" stop-color="#0078ff" stop-opacity="0.63"/><stop offset="0.79" stop-color="#0072ff" stop-opacity="0.48"/><stop offset="0.86" stop-color="#006eff" stop-opacity="0.32"/><stop offset="0.93" stop-color="#006bff" stop-opacity="0.16"/><stop offset="1" stop-color="#0069ff" stop-opacity="0"/></radialGradient><radialGradient id="g41"><stop offset="0" stop-color="#00adff" stop-opacity="1"/><stop offset="0.07" stop-color="#00abff" stop-opacity="1"/><stop offset="0.14" stop-color="#00a7ff" stop-opacity="1"/><stop offset="0.21" stop-color="#00a0ff" stop-opacity="1"/><stop offset="0.29" stop-color="#0098ff" stop-opacity="1"/><stop offset="0.36" stop-color="#0090ff" stop-opacity="1"/><stop offset="0.43" stop-color="#0087ff" stop-opacity="1"/><stop offset="0.5" stop-color="#007fff" stop-opacity="1"/><stop offset="0.57" stop-color="#0078ff" stop-opacity="0.95"/><stop offset="0.64" stop-color="#0073ff" stop-opacity="0.79"/><stop offset="0.71" stop-color="#006eff" stop-opacity="0.63"/><stop offset="0.79" stop-color="#006bff" stop-opacity="0.48"/><stop offset="0.86" stop-color="#0069ff" stop-opacity="0.32"/><stop offset="0.93" stop-color="#0067ff" stop-opacity="0.16"/><stop offset="1" stop-color="#0066ff" stop-opacity="0"/></radialGradient><radialGradient id="g42"><stop offset="0" stop-color="#00adff" stop-opacity="1"/><stop offset="0.07" stop-color="#00abff" stop-opacity="1"/><stop offset="0.14" stop-color="#00a7ff" stop-opacity="1"/><stop offset="0.21" stop-color="#00a0ff" stop-opacity="1"/><stop offset="0.29" stop-color="#0098ff" stop-opacity="1"/><stop offset="0.36" stop-color="#0090ff" stop-opacity="1"/><stop offset="0.43" stop-color="#0087ff" stop-opacity="1"/><stop offset="0.5" stop-color="#007fff" stop-opacity="1"/><stop offset="0.57" stop-color="#0078ff" stop-opacity="0.95"/><stop offset="0.64" stop-color="#0073ff" stop-opacity="0.79"/><stop offset="0.71" stop-color="#006eff" stop-opacity="0.63"/><stop offset="0.79" stop-color="#006bff" stop-opacity="0.48"/><stop offset="0.86" stop-color="#0069ff" stop-opacity="0.32"/><stop offset="0.93" stop-color="#0067ff" stop-opacity="0.16"/><stop offset="1" stop-color="#0066ff" stop-opacity="0"/></radialGradient><radialGradient id="g43"><stop offset="0" stop-color="#00c1ff" stop-opacity="1"/><stop offset="0.07" stop-color="#00bfff" stop-opacity="1"/><stop offset="0.14" stop-color="#00baff" stop-opacity="1"/><stop offset="0.21" stop-color="#00b2ff" stop-opacity="1"/><stop offset="0.29" stop-color="#00a7ff" stop-opacity="1"/><stop offset="0.36" stop-color="#009cff" stop-opacity="1"/><stop offset="0.43" stop-color="#0091ff" stop-opacity="1"/><stop offset="0.5" stop-color="#0087ff" stop-opacity="1"/><stop offset="0.57" stop-color="#007fff" stop-opacity="0.95"/><stop offset="0.64" stop-color="#0078ff" stop-opacity="0.79"/><stop offset="0.71" stop-color="#0072ff" stop-opacity="0.63"/><stop offset="0.79" stop-color="#006eff" stop-opacity="0.48"/><stop offset="0.86" stop-color="#006bff" stop-opacity="0.32"/><stop offset="0.93" stop-color="#0069ff" stop-opacity="0.16"/><stop offset="1" stop-color="#0067ff" stop-opacity="0"/></radialGradient><radialGradient id="g44"><stop offset="0" stop-color="#00adff" stop-opacity="1"/><stop offset="0.07" stop-color="#00abff" stop-opacity="1"/><stop offset="0.14" stop-color="#00a7ff" stop-opacity="1"/><stop offset="0.21" stop-color="#00a0ff" stop-opacity="1"/><stop offset="0.29" stop-color="#0098ff" stop-opacity="1"/><stop offset="0.36" stop-color="#0090ff" stop-opacity="1"/><stop offset="0.43" stop-color="#0087ff" stop-opacity="1"/><stop offset="0.5" stop-color="#007fff" stop-opacity="1"/><stop offset="0.57" stop-color="#0078ff" stop-opacity="0.95"/><stop offset="0.64" stop-color="#0073ff" stop-opacity="0.79"/><stop offset="0.71" stop-color="#006eff" stop-opacity="0.63"/><stop offset="0.79" stop-color="#006bff" stop-opacity="0.48"/><stop offset="0.86" stop-color="#0069ff" stop-opacity="0.32"/><stop offset="0.93" stop-color="#0067ff" stop-opacity="0.16"/><stop offset="1" stop-color="#0066ff" stop-opacity="0"/></radialGradient><radialGradient id="g45"><stop offset="0" stop-color="#00ffea" stop-opacity="1"/><stop offset="0.07" stop-color="#00ffee" stop-opacity="1"/><stop offset="0.14" stop-color="#00fff8" stop-opacity="1"/><stop offset="0.21" stop-color="#00f6ff" stop-opacity="1"/><stop offset="0.29" stop-color="#00e3ff" stop-opacity="1"/><stop offset="0.36" stop-color="#00cfff" stop-opacity="1"/><stop offset="0.43" stop-color="#00bbff" stop-opacity="1"/><stop offset="0.5" stop-color="#00a8ff" stop-opacity="1"/><stop offset="0.57" stop-color="#0098ff" stop-opacity="0.95"/><stop offset="0.64" stop-color="#008bff" stop-opacity="0.79"/><stop offset="0.71" stop-color="#0081ff" stop-opacity="0.63"/><stop offset="0.79" stop-color="#007aff" stop-opacity="0.48"/><stop offset="0.86" stop-color="#0074ff" stop-opacity="0.32"/><stop offset="0.93" stop-color="#0070ff" stop-opacity="0.16"/><stop offset="1" stop-color="#006cff" stop-opacity="0"/></radialGradient><radialGradient id="g46"><stop offset="0" stop-color="#00d6ff" stop-opacity="1"/><stop offset="0.07" stop-color="#00d3ff" stop-opacity="1"/><stop offset="0.14" stop-color="#00cdff" stop-opacity="1"/><stop offset="0.21" stop-color="#00c3ff" stop-opacity="1"/><stop offset="0.29" stop-color="#00b6ff" stop-opacity="1"/><stop offset="0.36" stop-color="#00a9ff" stop-opacity="1"/><stop offset="0.43" stop-color="#009cff" stop-opacity="1"/><stop offset="0.5" stop-color="#0090ff" stop-opacity="1"/><stop offset="0.57" stop-color="#0085ff" stop-opacity="0.95"/><stop offset="0.64" stop-color="#007dff" stop-opacity="0.79"/><stop offset="0.71" stop-color="#0076ff" stop-opacity="0.63"/><stop offset="0.79" stop-color="#0071ff" stop-opacity="0.48"/><stop offset="0.86" stop-color="#006dff" stop-opacity="0.32"/><stop offset="0.93" stop-color="#006aff" stop-opacity="0.16"/><stop offset="1" stop-color="#0068ff" stop-opacity="0"/></radialGradient><radialGradient id="g47"><stop offset="0" stop-color="#00fff4" stop-opacity="1"/><stop offset="0.07" stop-color="#00fff8" stop-opacity="1"/><stop offset="0.14" stop-color="#00fcff" stop-opacity="1"/><stop offset="0.21" stop-color="#00edff" stop-opacity="1"/><stop offset="0.29" stop-color="#00dcff" stop-opacity="1"/><stop offset="0.36" stop-color="#00c8ff" stop-opacity="1"/><stop offset="0.43" stop-color="#00b5ff" stop-opacity="1"/><stop offset="0.5" stop-color="#00a4ff" stop-opacity="1"/><stop offset="0.57" stop-color="#0095ff" stop-opacity="0.95"/><stop offset="0.64" stop-color="#0089ff" stop-opacity="0.79"/><stop offset="0.71" stop-color="#007fff" stop-opacity="0.63"/><stop offset="0.79" stop-color="#0078ff" stop-opacity="0.48"/><stop offset="0.86" stop-color="#0073ff" stop-opacity="0.32"/><stop offset="0.93" stop-color="#006fff" stop-opacity="0.16"/><stop offset="1" stop-color="#006cff" stop-opacity="0"/></radialGradient><radialGradient id="g48"><stop offset="0" stop-color="#00adff" stop-opacity="1"/><stop offset="0.07" stop-color="#00abff" stop-opacity="1"/><stop offset="0.14" stop-color="#00a7ff" stop-opacity="1"/><stop offset="0.21" stop-color="#00a0ff" stop-opacity="1"/><stop offset="0.29" stop-color="#0098ff" stop-opacity="1"/><stop offset="0.36" stop-color="#0090ff" stop-opacity="1"/><stop offset="0.43" stop-color="#0087ff" stop-opacity="1"/><stop offset="0.5" stop-color="#007fff" stop-opacity="1"/><stop offset="0.57" stop-color="#0078ff" stop-opacity="0.95"/><stop offset="0.64" stop-color="#0073ff" stop-opacity="0.79"/><stop offset="0.71" stop-color="#006eff" stop-opacity="0.63"/><stop offset="0.79" stop-color="#006bff" stop-opacity="0.48"/><stop offset="0.86" stop-color="#0069ff" stop-opacity="0.32"/><stop offset="0.93" stop-color="#0067ff" stop-opacity="0.16"/><stop offset="1" stop-color="#0066ff" stop-opacity="0"/></radialGradient><radialGradient id="g49"><stop offset="0" stop-color="#0099ff" stop-opacity="1"/><stop offset="0.07" stop-color="#0097ff" stop-opacity="1"/><stop offset="0.14" stop-color="#0094ff" stop-opacity="1"/><stop offset="0.21" stop-color="#008fff" stop-opacity="1"/><stop offset="0.29" stop-color="#0089ff" stop-opacity="1"/><stop offset="0.36" stop-color="#0083ff" stop-opacity="1"/><stop offset="0.43" stop-color="#007dff" stop-opacity="1"/><stop offset="0.5" stop-color="#0077ff" stop-opacity="1"/><stop offset="0.57" stop-color="#0072ff" stop-opacity="0.95"/><stop offset="0.64" stop-color="#006eff" stop-opacity="0.79"/><stop offset="0.71" stop-color="#006bff" stop-opacity="0.63"/><stop offset="0.79" stop-color="#0068ff" stop-opacity="0.48"/><stop offset="0.86" stop-color="#0067ff" stop-opacity="0.32"/><stop offset="0.93" stop-color="#0065ff" stop-opacity="0.16"/><stop offset="1" stop-color="#0064ff" stop-opacity="0"/></radialGradient><radialGradient id="g50"><stop offset="0" stop-color="#0099ff" stop-opacity="1"/><stop offset="0.07" stop-color="#0097ff" stop-opacity="1"/><stop offset="0.14" stop-color="#0094ff" stop-opacity="1"/><stop offset="0.21" stop-color="#008fff" stop-opacity="1"/><stop offset="0.29" stop-color="#0089ff" stop-opacity="1"/><stop offset="0.36" stop-color="#0083ff" stop-opacity="1"/><stop offset="0.43" stop-color="#007dff" stop-opacity="1"/><stop offset="0.5" stop-color="#0077ff" stop-opacity="1"/><stop offset="0.57" stop-color="#0072ff" stop-opacity="0.95"/><stop offset="0.64" stop-color="#006eff" stop-opacity="0.79"/><stop offset="0.71" stop-color="#006bff" stop-opacity="0.63"/><stop offset="0.79" stop-color="#0068ff" stop-opacity="0.48"/><stop offset="0.86" stop-color="#0067ff" stop-opacity="0.32"/><stop offset="0.93" stop-color="#0065ff" stop-opacity="0.16"/><stop offset="1" stop-color="#0064ff" stop-opacity="0"/></radialGradient><radialGradient id="g51"><stop offset="0" stop-color="#0099ff" stop-opacity="1"/><stop offset="0.07" stop-color="#0097ff" stop-opacity="1"/><stop offset="0.14" stop-color="#0094ff" stop-opacity="1"/><stop offset="0.21" stop-color="#008fff" stop-opacity="1"/><stop offset="0.29" stop-color="#0089ff" stop-opacity="1"/><stop offset="0.36" stop-color="#0083ff" stop-opacity="1"/><stop offset="0.43" stop-color="#007dff" stop-opacity="1"/><stop offset="0.5" stop-color="#0077ff" stop-opacity="1"/><stop offset="0.57" stop-color="#0072ff" stop-opacity="0.95"/><stop offset="0.64" stop-color="#006eff" stop-opacity="0.79"/><stop offset="0.71" stop-color="#006bff" stop-opacity="0.63"/><stop offset="0.79" stop-color="#0068ff" stop-opacity="0.48"/><stop offset="0.86" stop-color="#0067ff" stop-opacity="0.32"/><stop offset="0.93" stop-color="#0065ff" stop-opacity="0.16"/><stop offset="1" stop-color="#0064ff" stop-opacity="0"/></radialGradient><radialGradient id="g52"><stop offset="0" stop-color="#0084ff" stop-opacity="1"/><stop offset="0.07" stop-color="#0083ff" stop-opacity="1"/><stop offset="0.14" stop-color="#0081ff" stop-opacity="1"/><stop offset="0.21" stop-color="#007eff" stop-opacity="1"/><stop offset="0.29" stop-color="#007bff" stop-opacity="1"/><stop offset="0.36" stop-color="#0076ff" stop-opacity="1"/><stop offset="0.43" stop-color="#0072ff" stop-opacity="1"/><stop offset="0.5" stop-color="#006fff" stop-opacity="1"/><stop offset="0.57" stop-color="#006cff" stop-opacity="0.95"/><stop offset="0.64" stop-color="#0069ff" stop-opacity="0.79"/><stop offset="0.71" stop-color="#0067ff" stop-opacity="0.63"/><stop offset="0.79" stop-color="#0065ff" stop-opacity="0.48"/><stop offset="0.86" stop-color="#0064ff" stop-opacity="0.32"/><stop offset="0.93" stop-color="#0063ff" stop-opacity="0.16"/><stop offset="1" stop-color="#0063ff" stop-opacity="0"/></radialGradient><radialGradient id="g53"><stop offset="0" stop-color="#00b7ff" stop-opacity="1"/><stop offset="0.07" stop-color="#00b5ff" stop-opacity="1"/><stop offset="0.14" stop-color="#00b1ff" stop-opacity="1"/><stop offset="0.21" stop-color="#00a9ff" stop-opacity="1"/><stop offset="0.29" stop-color="#00a0ff" stop-opacity="1"/><stop offset="0.36" stop-color="#0096ff" stop-opacity="1"/><stop offset="0.43" stop-color="#008cff" stop-opacity="1"/><stop offset="0.5" stop-color="#0083ff" stop-opacity="1"/><stop offset="0.57" stop-color="#007cff" stop-opacity="0.95"/><stop offset="0.64" stop-color="#0075ff" stop-opacity="0.79"/><stop offset="0.71" stop-color="#0070ff" stop-opacity="0.63"/><stop offset="0.79" stop-color="#006dff" stop-opacity="0.48"/><stop offset="0.86" stop-color="#006aff" stop-opacity="0.32"/><stop offset="0.93" stop-color="#0068ff" stop-opacity="0.16"/><stop offset="1" stop-color="#0066ff" stop-opacity="0"/></radialGradient><radialGradient id="g54"><stop offset="0" stop-color="#0099ff" stop-opacity="1"/><stop offset="0.07" stop-color="#0097ff" stop-opacity="1"/><stop offset="0.14" stop-color="#0094ff" stop-opacity="1"/><stop offset="0.21" stop-color="#008fff" stop-opacity="1"/><stop offset="0.29" stop-color="#0089ff" stop-opacity="1"/><stop offset="0.36" stop-color="#0083ff" stop-opacity="1"/><stop offset="0.43" stop-color="#007dff" stop-opacity="1"/><stop offset="0.5" stop-color="#0077ff" stop-opacity="1"/><stop offset="0.57" stop-color="#0072ff" stop-opacity="0.95"/><stop offset="0.64" stop-color="#006eff" stop-opacity="0.79"/><stop offset="0.71" stop-color="#006bff" stop-opacity="0.63"/><stop offset="0.79" stop-color="#0068ff" stop-opacity="0.48"/><stop offset="0.86" stop-color="#0067ff" stop-opacity="0.32"/><stop offset="0.93" stop-color="#0065ff" stop-opacity="0.16"/><stop offset="1" stop-color="#0064ff" stop-opacity="0"/></radialGradient><radialGradient id="g55"><stop offset="0" stop-color="#008eff" stop-opacity="1"/><stop offset="0.07" stop-color="#008dff" stop-opacity="1"/><stop offset="0.14" stop-color="#008bff" stop-opacity="1"/><stop offset="0.21" stop-color="#0087ff" stop-opacity="1"/><stop offset="0.29" stop-color="#0082ff" stop-opacity="1"/><stop offset="0.36" stop-color="#007dff" stop-opacity="1"/><stop offset="0.43" stop-color="#0078ff" stop-opacity="1"/><stop offset="0.5" stop-color="#0073ff" stop-opacity="1"/><stop offset="0.57" stop-color="#006fff" stop-opacity="0.95"/><stop offset="0.64" stop-color="#006bff" stop-opacity="0.79"/><stop offset="0.71" stop-color="#0069ff" stop-opacity="0.63"/><stop offset="0.79" stop-color="#0067ff" stop-opacity="0.48"/><stop offset="0.86" stop-color="#0065ff" stop-opacity="0.32"/><stop offset="0.93" stop-color="#0064ff" stop-opacity="0.16"/><stop offset="1" stop-color="#0064ff" stop-opacity="0"/></radialGradient><radialGradient id="g56"><stop offset="0" stop-color="#0099ff" stop-opacity="1"/><stop offset="0.07" stop-color="#0097ff" stop-opacity="1"/><stop offset="0.14" stop-color="#0094ff" stop-opacity="1"/><stop offset="0.21" stop-color="#008fff" stop-opacity="1"/><stop offset="0.29" stop-color="#0089ff" stop-opacity="1"/><stop offset="0.36" stop-color="#0083ff" stop-opacity="1"/><stop offset="0.43" stop-color="#007dff" stop-opacity="1"/><stop offset="0.5" stop-color="#0077ff" stop-opacity="1"/><stop offset="0.57" stop-color="#0072ff" stop-opacity="0.95"/><stop offset="0.64" stop-color="#006eff" stop-opacity="0.79"/><stop offset="0.71" stop-color="#006bff" stop-opacity="0.63"/><stop offset="0.79" stop-color="#0068ff" stop-opacity="0.48"/><stop offset="0.86" stop-color="#0067ff" stop-opacity="0.32"/><stop offset="0.93" stop-color="#0065ff" stop-opacity="0.16"/><stop offset="1" stop-color="#0064ff" stop-opacity="0"/></radialGradient><radialGradient id="g57"><stop offset="0" stop-color="#0084ff" stop-opacity="1"/><stop offset="0.07" stop-color="#0083ff" stop-opacity="1"/><stop offset="0.14" stop-color="#0081ff" stop-opacity="1"/><stop offset="0.21" stop-color="#007eff" stop-opacity="1"/><stop offset="0.29" stop-color="#007bff" stop-opacity="1"/><stop offset="0.36" stop-color="#0076ff" stop-opacity="1"/><stop offset="0.43" stop-color="#0072ff" stop-opacity="1"/><stop offset="0.5" stop-color="#006fff" stop-opacity="1"/><stop offset="0.57" stop-color="#006cff" stop-opacity="0.95"/><stop offset="0.64" stop-color="#0069ff" stop-opacity="0.79"/><stop offset="0.71" stop-color="#0067ff" stop-opacity="0.63"/><stop offset="0.79" stop-color="#0065ff" stop-opacity="0.48"/><stop offset="0.86" stop-color="#0064ff" stop-opacity="0.32"/><stop offset="0.93" stop-color="#0063ff" stop-opacity="0.16"/><stop offset="1" stop-color="#0063ff" stop-opacity="0"/></radialGradient><radialGradient id="g58"><stop offset="0" stop-color="#008eff" stop-opacity="1"/><stop offset="0.07" stop-color="#008dff" stop-opacity="1"/><stop offset="0.14" stop-color="#008bff" stop-opacity="1"/><stop offset="0.21" stop-color="#0087ff" stop-opacity="1"/><stop offset="0.29" stop-color="#0082ff" stop-opacity="1"/><stop offset="0.36" stop-color="#007dff" stop-opacity="1"/><stop offset="0.43" stop-color="#0078ff" stop-opacity="1"/><stop offset="0.5" stop-color="#0073ff" stop-opacity="1"/><stop offset="0.57" stop-color="#006fff" stop-opacity="0.95"/><stop offset="0.64" stop-color="#006bff" stop-opacity="0.79"/><stop offset="0.71" stop-color="#0069ff" stop-opacity="0.63"/><stop offset="0.79" stop-color="#0067ff" stop-opacity="0.48"/><stop offset="0.86" stop-color="#0065ff" stop-opacity="0.32"/><stop offset="0.93" stop-color="#0064ff" stop-opacity="0.16"/><stop offset="1" stop-color="#0064ff" stop-opacity="0"/></radialGradient><radialGradient id="g59"><stop offset="0" stop-color="#00cbff" stop-opacity="1"/><stop offset="0.07" stop-color="#00c9ff" stop-opacity="1"/><stop offset="0.14" stop-color="#00c3ff" stop-opacity="1"/><stop offset="0.21" stop-color="#00baff" stop-opacity="1"/><stop offset="0.29" stop-color="#00afff" stop-opacity="1"/><stop offset="0.36" stop-color="#00a3ff" stop-opacity="1"/><stop offset="0.43" stop-color="#0097ff" stop-opacity="1"/><stop offset="0.5" stop-color="#008bff" stop-opacity="1"/><stop offset="0.57" stop-color="#0082ff" stop-opacity="0.95"/><stop offset="0.64" stop-color="#007aff" stop-opacity="0.79"/><stop offset="0.71" stop-color="#0074ff" stop-opacity="0.63"/><stop offset="0.79" stop-color="#006fff" stop-opacity="0.48"/><stop offset="0.86" stop-color="#006cff" stop-opacity="0.32"/><stop offset="0.93" stop-color="#006aff" stop-opacity="0.16"/><stop offset="1" stop-color="#0068ff" stop-opacity="0"/></radialGradient><radialGradient id="g60"><stop offset="0" stop-color="#00cbff" stop-opacity="1"/><stop offset="0.07" stop-color="#00c9ff" stop-opacity="1"/><stop offset="0.14" stop-color="#00c3ff" stop-opacity="1"/><stop offset="0.21" stop-color="#00baff" stop-opacity="1"/><stop offset="0.29" stop-color="#00afff" stop-opacity="1"/><stop offset="0.36" stop-color="#00a3ff" stop-opacity="1"/><stop offset="0.43" stop-color="#0097ff" stop-opacity="1"/><stop offset="0.5" stop-color="#008bff" stop-opacity="1"/><stop offset="0.57" stop-color="#0082ff" stop-opacity="0.95"/><stop offset="0.64" stop-color="#007aff" stop-opacity="0.79"/><stop offset="0.71" stop-color="#0074ff" stop-opacity="0.63"/><stop offset="0.79" stop-color="#006fff" stop-opacity="0.48"/><stop offset="0.86" stop-color="#006cff" stop-opacity="0.32"/><stop offset="0.93" stop-color="#006aff" stop-opacity="0.16"/><stop offset="1" stop-color="#0068ff" stop-opacity="0"/></radialGradient><radialGradient id="g61"><stop offset="0" stop-color="#008eff" stop-opacity="1"/><stop offset="0.07" stop-color="#008dff" stop-opacity="1"/><stop offset="0.14" stop-color="#008bff" stop-opacity="1"/><stop offset="0.21" stop-color="#0087ff" stop-opacity="1"/><stop offset="0.29" stop-color="#0082ff" stop-opacity="1"/><stop offset="0.36" stop-color="#007dff" stop-opacity="1"/><stop offset="0.43" stop-color="#0078ff" stop-opacity="1"/><stop offset="0.5" stop-color="#0073ff" stop-opacity="1"/><stop offset="0.57" stop-color="#006fff" stop-opacity="0.95"/><stop offset="0.64" stop-color="#006bff" stop-opacity="0.79"/><stop offset="0.71" stop-color="#0069ff" stop-opacity="0.63"/><stop offset="0.79" stop-color="#0067ff" stop-opacity="0.48"/><stop offset="0.86" stop-color="#0065ff" stop-opacity="0.32"/><stop offset="0.93" stop-color="#0064ff" stop-opacity="0.16"/><stop offset="1" stop-color="#0064ff" stop-opacity="0"/></radialGradient><radialGradient id="g62"><stop offset="0" stop-color="#0084ff" stop-opacity="1"/><stop offset="0.07" stop-color="#0083ff" stop-opacity="1"/><stop offset="0.14" stop-color="#0081ff" stop-opacity="1"/><stop offset="0.21" stop-color="#007eff" stop-opacity="1"/><stop offset="0.29" stop-color="#007bff" stop-opacity="1"/><stop offset="0.36" stop-color="#0076ff" stop-opacity="1"/><stop offset="0.43" stop-color="#0072ff" stop-opacity="1"/><stop offset="0.5" stop-color="#006fff" stop-opacity="1"/><stop offset="0.57" stop-color="#006cff" stop-opacity="0.95"/><stop offset="0.64" stop-color="#0069ff" stop-opacity="0.79"/><stop offset="0.71" stop-color="#0067ff" stop-opacity="0.63"/><stop offset="0.79" stop-color="#0065ff" stop-opacity="0.48"/><stop offset="0.86" stop-color="#0064ff" stop-opacity="0.32"/><stop offset="0.93" stop-color="#0063ff" stop-opacity="0.16"/><stop offset="1" stop-color="#0063ff" stop-opacity="0"/></radialGradient><radialGradient id="g63"><stop offset="0" stop-color="#0099ff" stop-opacity="1"/><stop offset="0.07" stop-color="#0097ff" stop-opacity="1"/><stop offset="0.14" stop-color="#0094ff" stop-opacity="1"/><stop offset="0.21" stop-color="#008fff" stop-opacity="1"/><stop offset="0.29" stop-color="#0089ff" stop-opacity="1"/><stop offset="0.36" stop-color="#0083ff" stop-opacity="1"/><stop offset="0.43" stop-color="#007dff" stop-opacity="1"/><stop offset="0.5" stop-color="#0077ff" stop-opacity="1"/><stop offset="0.57" stop-color="#0072ff" stop-opacity="0.95"/><stop offset="0.64" stop-color="#006eff" stop-opacity="0.79"/><stop offset="0.71" stop-color="#006bff" stop-opacity="0.63"/><stop offset="0.79" stop-color="#0068ff" stop-opacity="0.48"/><stop offset="0.86" stop-color="#0067ff" stop-opacity="0.32"/><stop offset="0.93" stop-color="#0065ff" stop-opacity="0.16"/><stop offset="1" stop-color="#0064ff" stop-opacity="0"/></radialGradient><radialGradient id="g64"><stop offset="0" stop-color="#00cbff" stop-opacity="1"/><stop offset="0.07" stop-color="#00c9ff" stop-opacity="1"/><stop offset="0.14" stop-color="#00c3ff" stop-opacity="1"/><stop offset="0.21" stop-color="#00baff" stop-opacity="1"/><stop offset="0.29" stop-color="#00afff" stop-opacity="1"/><stop offset="0.36" stop-color="#00a3ff" stop-opacity="1"/><stop offset="0.43" stop-color="#0097ff" stop-opacity="1"/><stop offset="0.5" stop-color="#008bff" stop-opacity="1"/><stop offset="0.57" stop-color="#0082ff" stop-opacity="0.95"/><stop offset="0.64" stop-color="#007aff" stop-opacity="0.79"/><stop offset="0.71" stop-color="#0074ff" stop-opacity="0.63"/><stop offset="0.79" stop-color="#006fff" stop-opacity="0.48"/><stop offset="0.86" stop-color="#006cff" stop-opacity="0.32"/><stop offset="0.93" stop-color="#006aff" stop-opacity="0.16"/><stop offset="1" stop-color="#0068ff" stop-opacity="0"/></radialGradient><radialGradient id="g65"><stop offset="0" stop-color="#00cbff" stop-opacity="1"/><stop offset="0.07" stop-color="#00c9ff" stop-opacity="1"/><stop offset="0.14" stop-color="#00c3ff" stop-opacity="1"/><stop offset="0.21" stop-color="#00baff" stop-opacity="1"/><stop offset="0.29" stop-color="#00afff" stop-opacity="1"/><stop offset="0.36" stop-color="#00a3ff" stop-opacity="1"/><stop offset="0.43" stop-color="#0097ff" stop-opacity="1"/><stop offset="0.5" stop-color="#008bff" stop-opacity="1"/><stop offset="0.57" stop-color="#0082ff" stop-opacity="0.95"/><stop offset="0.64" stop-color="#007aff" stop-opacity="0.79"/><stop offset="0.71" stop-color="#0074ff" stop-opacity="0.63"/><stop offset="0.79" stop-color="#006fff" stop-opacity="0.48"/><stop offset="0.86" stop-color="#006cff" stop-opacity="0.32"/><stop offset="0.93" stop-color="#006aff" stop-opacity="0.16"/><stop offset="1" stop-color="#0068ff" stop-opacity="0"/></radialGradient><radialGradient id="g66"><stop offset="0" stop-color="#00ff33" stop-opacity="1"/><stop offset="0.07" stop-color="#00ff3a" stop-opacity="1"/><stop offset="0.14" stop-color="#00ff4e" stop-opacity="1"/><stop offset="0.21" stop-color="#00ff6d" stop-opacity="1"/><stop offset="0.29" stop-color="#00ff94" stop-opacity="1"/><stop offset="0.36" stop-color="#00ffbd" stop-opacity="1"/><stop offset="0.43" stop-color="#00ffe6" stop-opacity="1"/><stop offset="0.5" stop-color="#00f2ff" stop-opacity="1"/><stop offset="0.57" stop-color="#00d2ff" stop-opacity="0.95"/><stop offset="0.64" stop-color="#00b8ff" stop-opacity="0.79"/><stop offset="0.71" stop-color="#00a3ff" stop-opacity="0.63"/><stop offset="0.79" stop-color="#0093ff" stop-opacity="0.48"/><stop offset="0.86" stop-color="#0088ff" stop-opacity="0.32"/><stop offset="0.93" stop-color="#007fff" stop-opacity="0.16"/><stop offset="1" stop-color="#0079ff" stop-opacity="0"/></radialGradient><radialGradient id="g67"><stop offset="0" stop-color="#00cbff" stop-opacity="1"/><stop offset="0.07" stop-color="#00c9ff" stop-opacity="1"/><stop offset="0.14" stop-color="#00c3ff" stop-opacity="1"/><stop offset="0.21" stop-color="#00baff" stop-opacity="1"/><stop offset="0.29" stop-color="#00afff" stop-opacity="1"/><stop offset="0.36" stop-color="#00a3ff" stop-opacity="1"/><stop offset="0.43" stop-color="#0097ff" stop-opacity="1"/><stop offset="0.5" stop-color="#008bff" stop-opacity="1"/><stop offset="0.57" stop-color="#0082ff" stop-opacity="0.95"/><stop offset="0.64" stop-color="#007aff" stop-opacity="0.79"/><stop offset="0.71" stop-color="#0074ff" stop-opacity="0.63"/><stop offset="0.79" stop-color="#006fff" stop-opacity="0.48"/><stop offset="0.86" stop-color="#006cff" stop-opacity="0.32"/><stop offset="0.93" stop-color="#006aff" stop-opacity="0.16"/><stop offset="1" stop-color="#0068ff" stop-opacity="0"/></radialGradient><radialGradient id="g68"><stop offset="0" stop-color="#00e0ff" stop-opacity="1"/><stop offset="0.07" stop-color="#00ddff" stop-opacity="1"/><stop offset="0.14" stop-color="#00d6ff" stop-opacity="1"/><stop offset="0.21" stop-color="#00cbff" stop-opacity="1"/><stop offset="0.29" stop-color="#00beff" stop-opacity="1"/><stop offset="0.36" stop-color="#00afff" stop-opacity="1"/><stop offset="0.43" stop-color="#00a1ff" stop-opacity="1"/><stop offset="0.5" stop-color="#0094ff" stop-opacity="1"/><stop offset="0.57" stop-color="#0088ff" stop-opacity="0.95"/><stop offset="0.64" stop-color="#007fff" stop-opacity="0.79"/><stop offset="0.71" stop-color="#0078ff" stop-opacity="0.63"/><stop offset="0.79" stop-color="#0072ff" stop-opacity="0.48"/><stop offset="0.86" stop-color="#006eff" stop-opacity="0.32"/><stop offset="0.93" stop-color="#006bff" stop-opacity="0.16"/><stop offset="1" stop-color="#0069ff" stop-opacity="0"/></radialGradient><radialGradient id="g69"><stop offset="0" stop-color="#0099ff" stop-opacity="1"/><stop offset="0.07" stop-color="#0097ff" stop-opacity="1"/><stop offset="0.14" stop-color="#0094ff" stop-opacity="1"/><stop offset="0.21" stop-color="#008fff" stop-opacity="1"/><stop offset="0.29" stop-color="#0089ff" stop-opacity="1"/><stop offset="0.36" stop-color="#0083ff" stop-opacity="1"/><stop offset="0.43" stop-color="#007dff" stop-opacity="1"/><stop offset="0.5" stop-color="#0077ff" stop-opacity="1"/><stop offset="0.57" stop-color="#0072ff" stop-opacity="0.95"/><stop offset="0.64" stop-color="#006eff" stop-opacity="0.79"/><stop offset="0.71" stop-color="#006bff" stop-opacity="0.63"/><stop offset="0.79" stop-color="#0068ff" stop-opacity="0.48"/><stop offset="0.86" stop-color="#0067ff" stop-opacity="0.32"/><stop offset="0.93" stop-color="#0065ff" stop-opacity="0.16"/><stop offset="1" stop-color="#0064ff" stop-opacity="0"/></radialGradient><radialGradient id="g70"><stop offset="0" stop-color="#00a3ff" stop-opacity="1"/><stop offset="0.07" stop-color="#00a1ff" stop-opacity="1"/><stop offset="0.14" stop-color="#009eff" stop-opacity="1"/><stop offset="0.21" stop-color="#0098ff" stop-opacity="1"/><stop offset="0.29" stop-color="#0091ff" stop-opacity="1"/><stop offset="0.36" stop-color="#0089ff" stop-opacity="1"/><stop offset="0.43" stop-color="#0082ff" stop-opacity="1"/><stop offset="0.5" stop-color="#007bff" stop-opacity="1"/><stop offset="0.57" stop-color="#0075ff" stop-opacity="0.95"/><stop offset="0.64" stop-color="#0070ff" stop-opacity="0.79"/><stop offset="0.71" stop-color="#006dff" stop-opacity="0.63"/><stop offset="0.79" stop-color="#006aff" stop-opacity="0.48"/><stop offset="0.86" stop-color="#0068ff" stop-opacity="0.32"/><stop offset="0.93" stop-color="#0066ff" stop-opacity="0.16"/><stop offset="1" stop-color="#0065ff" stop-opacity="0"/></radialGradient><radialGradient id="g71"><stop offset="0" stop-color="#cbff00" stop-opacity="1"/><stop offset="0.07" stop-color="#bfff00" stop-opacity="1"/><stop offset="0.14" stop-color="#9dff00" stop-opacity="1"/><stop offset="0.21" stop-color="#67ff00" stop-opacity="1"/><stop offset="0.29" stop-color="#26ff00" stop-opacity="1"/><stop offset="0.36" stop-color="#00ff1f" stop-opacity="1"/><stop offset="0.43" stop-color="#00ff65" stop-opacity="1"/><stop offset="0.5" stop-color="#00ffa4" stop-opacity="1"/><stop offset="0.57" stop-color="#00ffdb" stop-opacity="0.95"/><stop offset="0.64" stop-color="#00f5ff" stop-opacity="0.79"/><stop offset="0.71" stop-color="#00d2ff" stop-opacity="0.63"/><stop offset="0.79" stop-color="#00b7ff" stop-opacity="0.48"/><stop offset="0.86" stop-color="#00a4ff" stop-opacity="0.32"/><stop offset="0.93" stop-color="#0095ff" stop-opacity="0.16"/><stop offset="1" stop-color="#008aff" stop-opacity="0"/></radialGradient><radialGradient id="g72"><stop offset="0" stop-color="#00ffcb" stop-opacity="1"/><stop offset="0.07" stop-color="#00ffd0" stop-opacity="1"/><stop offset="0.14" stop-color="#00ffdb" stop-opacity="1"/><stop offset="0.21" stop-color="#00ffed" stop-opacity="1"/><stop offset="0.29" stop-color="#00f9ff" stop-opacity="1"/><stop offset="0.36" stop-color="#00e2ff" stop-opacity="1"/><stop offset="0.43" stop-color="#00caff" stop-opacity="1"/><stop offset="0.5" stop-color="#00b4ff" stop-opacity="1"/><stop offset="0.57" stop-color="#00a2ff" stop-opacity="0.95"/><stop offset="0.64" stop-color="#0093ff" stop-opacity="0.79"/><stop offset="0.71" stop-color="#0087ff" stop-opacity="0.63"/><stop offset="0.79" stop-color="#007eff" stop-opacity="0.48"/><stop offset="0.86" stop-color="#0077ff" stop-opacity="0.32"/><stop offset="0.93" stop-color="#0072ff" stop-opacity="0.16"/><stop offset="1" stop-color="#006fff" stop-opacity="0"/></radialGradient><radialGradient id="g73"><stop offset="0" stop-color="#00ffe0" stop-opacity="1"/><stop offset="0.07" stop-color="#00ffe4" stop-opacity="1"/><stop offset="0.14" stop-color="#00ffee" stop-opacity="1"/><stop offset="0.21" stop-color="#00fffe" stop-opacity="1"/><stop offset="0.29" stop-color="#00ebff" stop-opacity="1"/><stop offset="0.36" stop-color="#00d5ff" stop-opacity="1"/><stop offset="0.43" stop-color="#00c0ff" stop-opacity="1"/><stop offset="0.5" stop-color="#00acff" stop-opacity="1"/><stop offset="0.57" stop-color="#009cff" stop-opacity="0.95"/><stop offset="0.64" stop-color="#008eff" stop-opacity="0.79"/><stop offset="0.71" stop-color="#0083ff" stop-opacity="0.63"/><stop offset="0.79" stop-color="#007bff" stop-opacity="0.48"/><stop offset="0.86" stop-color="#0075ff" stop-opacity="0.32"/><stop offset="0.93" stop-color="#0070ff" stop-opacity="0.16"/><stop offset="1" stop-color="#006dff" stop-opacity="0"/></radialGradient><radialGradient id="g74"><stop offset="0" stop-color="#00ffcb" stop-opacity="1"/><stop offset="0.07" stop-color="#00ffd0" stop-opacity="1"/><stop offset="0.14" stop-color="#00ffdb" stop-opacity="1"/><stop offset="0.21" stop-color="#00ffed" stop-opacity="1"/><stop offset="0.29" stop-color="#00f9ff" stop-opacity="1"/><stop offset="0.36" stop-color="#00e2ff" stop-opacity="1"/><stop offset="0.43" stop-color="#00caff" stop-opacity="1"/><stop offset="0.5" stop-color="#00b4ff" stop-opacity="1"/><stop offset="0.57" stop-color="#00a2ff" stop-opacity="0.95"/><stop offset="0.64" stop-color="#0093ff" stop-opacity="0.79"/><stop offset="0.71" stop-color="#0087ff" stop-opacity="0.63"/><stop offset="0.79" stop-color="#007eff" stop-opacity="0.48"/><stop offset="0.86" stop-color="#0077ff" stop-opacity="0.32"/><stop offset="0.93" stop-color="#0072ff" stop-opacity="0.16"/><stop offset="1" stop-color="#006fff" stop-opacity="0"/></radialGradient><radialGradient id="g75"><stop offset="0" stop-color="#65ff00" stop-opacity="1"/><stop offset="0.07" stop-color="#5bff00" stop-opacity="1"/><stop offset="0.14" stop-color="#3eff00" stop-opacity="1"/><stop offset="0.21" stop-color="#12ff00" stop-opacity="1"/><stop offset="0.29" stop-color="#00ff23" stop-opacity="1"/><stop offset="0.36" stop-color="#00ff5e" stop-opacity="1"/><stop offset="0.43" stop-color="#00ff98" stop-opacity="1"/><stop offset="0.5" stop-color="#00ffcd" stop-opacity="1"/><stop offset="0.57" stop-color="#00fffb" stop-opacity="0.95"/><stop offset="0.64" stop-color="#00dcff" stop-opacity="0.79"/><stop offset="0.71" stop-color="#00bfff" stop-opacity="0.63"/><stop offset="0.79" stop-color="#00a9ff" stop-opacity="0.48"/><stop offset="0.86" stop-color="#0098ff" stop-opacity="0.32"/><stop offset="0.93" stop-color="#008cff" stop-opacity="0.16"/><stop offset="1" stop-color="#0083ff" stop-opacity="0"/></radialGradient><radialGradient id="g76"><stop offset="0" stop-color="#00ff65" stop-opacity="1"/><stop offset="0.07" stop-color="#00ff6c" stop-opacity="1"/><stop offset="0.14" stop-color="#00ff7d" stop-opacity="1"/><stop offset="0.21" stop-color="#00ff98" stop-opacity="1"/><stop offset="0.29" stop-color="#00ffb9" stop-opacity="1"/><stop offset="0.36" stop-color="#00ffdc" stop-opacity="1"/><stop offset="0.43" stop-color="#00feff" stop-opacity="1"/><stop offset="0.5" stop-color="#00ddff" stop-opacity="1"/><stop offset="0.57" stop-color="#00c2ff" stop-opacity="0.95"/><stop offset="0.64" stop-color="#00abff" stop-opacity="0.79"/><stop offset="0.71" stop-color="#009aff" stop-opacity="0.63"/><stop offset="0.79" stop-color="#008cff" stop-opacity="0.48"/><stop offset="0.86" stop-color="#0082ff" stop-opacity="0.32"/><stop offset="0.93" stop-color="#007bff" stop-opacity="0.16"/><stop offset="1" stop-color="#0075ff" stop-opacity="0"/></radialGradient><radialGradient id="g77"><stop offset="0" stop-color="#00ff00" stop-opacity="1"/><stop offset="0.07" stop-color="#00ff08" stop-opacity="1"/><stop offset="0.14" stop-color="#00ff1f" stop-opacity="1"/><stop offset="0.21" stop-color="#00ff42" stop-opacity="1"/><stop offset="0.29" stop-color="#00ff6e" stop-opacity="1"/><stop offset="0.36" stop-color="#00ff9d" stop-opacity="1"/><stop offset="0.43" stop-color="#00ffcc" stop-opacity="1"/><stop offset="0.5" stop-color="#00fff6" stop-opacity="1"/><stop offset="0.57" stop-color="#00e2ff" stop-opacity="0.95"/><stop offset="0.64" stop-color="#00c4ff" stop-opacity="0.79"/><stop offset="0.71" stop-color="#00acff" stop-opacity="0.63"/><stop offset="0.79" stop-color="#009bff" stop-opacity="0.48"/><stop offset="0.86" stop-color="#008dff" stop-opacity="0.32"/><stop offset="0.93" stop-color="#0084ff" stop-opacity="0.16"/><stop offset="1" stop-color="#007cff" stop-opacity="0"/></radialGradient><radialGradient id="g78"><stop offset="0" stop-color="#51ff00" stop-opacity="1"/><stop offset="0.07" stop-color="#47ff00" stop-opacity="1"/><stop offset="0.14" stop-color="#2bff00" stop-opacity="1"/><stop offset="0.21" stop-color="#01ff00" stop-opacity="1"/><stop offset="0.29" stop-color="#00ff32" stop-opacity="1"/><stop offset="0.36" stop-color="#00ff6b" stop-opacity="1"/><stop offset="0.43" stop-color="#00ffa3" stop-opacity="1"/><stop offset="0.5" stop-color="#00ffd6" stop-opacity="1"/><stop offset="0.57" stop-color="#00fbff" stop-opacity="0.95"/><stop offset="0.64" stop-color="#00d8ff" stop-opacity="0.79"/><stop offset="0.71" stop-color="#00bbff" stop-opacity="0.63"/><stop offset="0.79" stop-color="#00a6ff" stop-opacity="0.48"/><stop offset="0.86" stop-color="#0096ff" stop-opacity="0.32"/><stop offset="0.93" stop-color="#008bff" stop-opacity="0.16"/><stop offset="1" stop-color="#0082ff" stop-opacity="0"/></radialGradient><radialGradient id="g79"><stop offset="0" stop-color="#14ff00" stop-opacity="1"/><stop offset="0.07" stop-color="#0bff00" stop-opacity="1"/><stop offset="0.14" stop-color="#00ff0c" stop-opacity="1"/><stop offset="0.21" stop-color="#00ff31" stop-opacity="1"/><stop offset="0.29" stop-color="#00ff5f" stop-opacity="1"/><stop offset="0.36" stop-color="#00ff91" stop-opacity="1"/><stop offset="0.43" stop-color="#00ffc2" stop-opacity="1"/><stop offset="0.5" stop-color="#00ffee" stop-opacity="1"/><stop offset="0.57" stop-color="#00e8ff" stop-opacity="0.95"/><stop offset="0.64" stop-color="#00c9ff" stop-opacity="0.79"/><stop offset="0.71" stop-color="#00b0ff" stop-opacity="0.63"/><stop offset="0.79" stop-color="#009dff" stop-opacity="0.48"/><stop offset="0.86" stop-color="#0090ff" stop-opacity="0.32"/><stop offset="0.93" stop-color="#0085ff" stop-opacity="0.16"/><stop offset="1" stop-color="#007eff" stop-opacity="0"/></radialGradient><radialGradient id="g80"><stop offset="0" stop-color="#00ff65" stop-opacity="1"/><stop offset="0.07" stop-color="#00ff6c" stop-opacity="1"/><stop offset="0.14" stop-color="#00ff7d" stop-opacity="1"/><stop offset="0.21" stop-color="#00ff98" stop-opacity="1"/><stop offset="0.29" stop-color="#00ffb9" stop-opacity="1"/><stop offset="0.36" stop-color="#00ffdc" stop-opacity="1"/><stop offset="0.43" stop-color="#00feff" stop-opacity="1"/><stop offset="0.5" stop-color="#00ddff" stop-opacity="1"/><stop offset="0.57" stop-color="#00c2ff" stop-opacity="0.95"/><stop offset="0.64" stop-color="#00abff" stop-opacity="0.79"/><stop offset="0.71" stop-color="#009aff" stop-opacity="0.63"/><stop offset="0.79" stop-color="#008cff" stop-opacity="0.48"/><stop offset="0.86" stop-color="#0082ff" stop-opacity="0.32"/><stop offset="0.93" stop-color="#007bff" stop-opacity="0.16"/><stop offset="1" stop-color="#0075ff" stop-opacity="0"/></radialGradient><radialGradient id="g81"><stop offset="0" stop-color="#00ff8e" stop-opacity="1"/><stop offset="0.07" stop-color="#00ff94" stop-opacity="1"/><stop offset="0.14" stop-color="#00ffa3" stop-opacity="1"/><stop offset="0.21" stop-color="#00ffba" stop-opacity="1"/><stop offset="0.29" stop-color="#00ffd7" stop-opacity="1"/><stop offset="0.36" stop-color="#00fff6" stop-opacity="1"/><stop offset="0.43" stop-color="#00e9ff" stop-opacity="1"/><stop offset="0.5" stop-color="#00cdff" stop-opacity="1"/><stop offset="0.57" stop-color="#00b5ff" stop-opacity="0.95"/><stop offset="0.64" stop-color="#00a1ff" stop-opacity="0.79"/><stop offset="0.71" stop-color="#0092ff" stop-opacity="0.63"/><stop offset="0.79" stop-color="#0086ff" stop-opacity="0.48"/><stop offset="0.86" stop-color="#007eff" stop-opacity="0.32"/><stop offset="0.93" stop-color="#0077ff" stop-opacity="0.16"/><stop offset="1" stop-color="#0073ff" stop-opacity="0"/></radialGradient><radialGradient id="g82"><stop offset="0" stop-color="#00ff3d" stop-opacity="1"/><stop offset="0.07" stop-color="#00ff44" stop-opacity="1"/><stop offset="0.14" stop-color="#00ff57" stop-opacity="1"/><stop offset="0.21" stop-color="#00ff76" stop-opacity="1"/><stop offset="0.29" stop-color="#00ff9b" stop-opacity="1"/><stop offset="0.36" stop-color="#00ffc3" stop-opacity="1"/><stop offset="0.43" stop-color="#00ffeb" stop-opacity="1"/><stop offset="0.5" stop-color="#00eeff" stop-opacity="1"/><stop offset="0.57" stop-color="#00cfff" stop-opacity="0.95"/><stop offset="0.64" stop-color="#00b5ff" stop-opacity="0.79"/><stop offset="0.71" stop-color="#00a1ff" stop-opacity="0.63"/><stop offset="0.79" stop-color="#0092ff" stop-opacity="0.48"/><stop offset="0.86" stop-color="#0087ff" stop-opacity="0.32"/><stop offset="0.93" stop-color="#007eff" stop-opacity="0.16"/><stop offset="1" stop-color="#0078ff" stop-opacity="0"/></radialGradient><radialGradient id="g83"><stop offset="0" stop-color="#00ff33" stop-opacity="1"/><stop offset="0.07" stop-color="#00ff3a" stop-opacity="1"/><stop offset="0.14" stop-color="#00ff4e" stop-opacity="1"/><stop offset="0.21" stop-color="#00ff6d" stop-opacity="1"/><stop offset="0.29" stop-color="#00ff94" stop-opacity="1"/><stop offset="0.36" stop-color="#00ffbd" stop-opacity="1"/><stop offset="0.43" stop-color="#00ffe6" stop-opacity="1"/><stop offset="0.5" stop-color="#00f2ff" stop-opacity="1"/><stop offset="0.57" stop-color="#00d2ff" stop-opacity="0.95"/><stop offset="0.64" stop-color="#00b8ff" stop-opacity="0.79"/><stop offset="0.71" stop-color="#00a3ff" stop-opacity="0.63"/><stop offset="0.79" stop-color="#0093ff" stop-opacity="0.48"/><stop offset="0.86" stop-color="#0088ff" stop-opacity="0.32"/><stop offset="0.93" stop-color="#007fff" stop-opacity="0.16"/><stop offset="1" stop-color="#0079ff" stop-opacity="0"/></radialGradient><radialGradient id="g84"><stop offset="0" stop-color="#00ff65" stop-opacity="1"/><stop offset="0.07" stop-color="#00ff6c" stop-opacity="1"/><stop offset="0.14" stop-color="#00ff7d" stop-opacity="1"/><stop offset="0.21" stop-color="#00ff98" stop-opacity="1"/><stop offset="0.29" stop-color="#00ffb9" stop-opacity="1"/><stop offset="0.36" stop-color="#00ffdc" stop-opacity="1"/><stop offset="0.43" stop-color="#00feff" stop-opacity="1"/><stop offset="0.5" stop-color="#00ddff" stop-opacity="1"/><stop offset="0.57" stop-color="#00c2ff" stop-opacity="0.95"/><stop offset="0.64" stop-color="#00abff" stop-opacity="0.79"/><stop offset="0.71" stop-color="#009aff" stop-opacity="0.63"/><stop offset="0.79" stop-color="#008cff" stop-opacity="0.48"/><stop offset="0.86" stop-color="#0082ff" stop-opacity="0.32"/><stop offset="0.93" stop-color="#007bff" stop-opacity="0.16"/><stop offset="1" stop-color="#0075ff" stop-opacity="0"/></radialGradient><radialGradient id="g85"><stop offset="0" stop-color="#00ffcb" stop-opacity="1"/><stop offset="0.07" stop-color="#00ffd0" stop-opacity="1"/><stop offset="0.14" stop-color="#00ffdb" stop-opacity="1"/><stop offset="0.21" stop-color="#00ffed" stop-opacity="1"/><stop offset="0.29" stop-color="#00f9ff" stop-opacity="1"/><stop offset="0.36" stop-color="#00e2ff" stop-opacity="1"/><stop offset="0.43" stop-color="#00caff" stop-opacity="1"/><stop offset="0.5" stop-color="#00b4ff" stop-opacity="1"/><stop offset="0.57" stop-color="#00a2ff" stop-opacity="0.95"/><stop offset="0.64" stop-color="#0093ff" stop-opacity="0.79"/><stop offset="0.71" stop-color="#0087ff" stop-opacity="0.63"/><stop offset="0.79" stop-color="#007eff" stop-opacity="0.48"/><stop offset="0.86" stop-color="#0077ff" stop-opacity="0.32"/><stop offset="0.93" stop-color="#0072ff" stop-opacity="0.16"/><stop offset="1" stop-color="#006fff" stop-opacity="0"/></radialGradient><radialGradient id="g86"><stop offset="0" stop-color="#cbff00" stop-opacity="1"/><stop offset="0.07" stop-color="#bfff00" stop-opacity="1"/><stop offset="0.14" stop-color="#9dff00" stop-opacity="1"/><stop offset="0.21" stop-color="#67ff00" stop-opacity="1"/><stop offset="0.29" stop-color="#26ff00" stop-opacity="1"/><stop offset="0.36" stop-color="#00ff1f" stop-opacity="1"/><stop offset="0.43" stop-color="#00ff65" stop-opacity="1"/><stop offset="0.5" stop-color="#00ffa4" stop-opacity="1"/><stop offset="0.57" stop-color="#00ffdb" stop-opacity="0.95"/><stop offset="0.64" stop-color="#00f5ff" stop-opacity="0.79"/><stop offset="0.71" stop-color="#00d2ff" stop-opacity="0.63"/><stop offset="0.79" stop-color="#00b7ff" stop-opacity="0.48"/><stop offset="0.86" stop-color="#00a4ff" stop-opacity="0.32"/><stop offset="0.93" stop-color="#0095ff" stop-opacity="0.16"/><stop offset="1" stop-color="#008aff" stop-opacity="0"/></radialGradient><radialGradient id="g87"><stop offset="0" stop-color="#ff4700" stop-opacity="1"/><stop offset="0.07" stop-color="#ff5800" stop-opacity="1"/><stop offset="0.14" stop-color="#ff8800" stop-opacity="1"/><stop offset="0.21" stop-color="#ffd100" stop-opacity="1"/><stop offset="0.29" stop-color="#d2ff00" stop-opacity="1"/><stop offset="0.36" stop-color="#71ff00" stop-opacity="1"/><stop offset="0.43" stop-color="#11ff00" stop-opacity="1"/><stop offset="0.5" stop-color="#00ff46" stop-opacity="1"/><stop offset="0.57" stop-color="#00ff92" stop-opacity="0.95"/><stop offset="0.64" stop-color="#00ffd0" stop-opacity="0.79"/><stop offset="0.71" stop-color="#00fdff" stop-opacity="0.63"/><stop offset="0.79" stop-color="#00d8ff" stop-opacity="0.48"/><stop offset="0.86" stop-color="#00bdff" stop-opacity="0.32"/><stop offset="0.93" stop-color="#00a9ff" stop-opacity="0.16"/><stop offset="1" stop-color="#009aff" stop-opacity="0"/></radialGradient><linearGradient id="cbar" x1="0" y1="0" x2="0" y2="1"><stop offset="0" stop-color="#ff0000"/><stop offset="0.08" stop-color="#ff5500"/><stop offset="0.17" stop-color="#ffa900"/><stop offset="0.25" stop-color="#ffff00"/><stop offset="0.33" stop-color="#aaff00"/><stop offset="0.42" stop-color="#54ff00"/><stop offset="0.5" stop-color="#00ff00"/><stop offset="0.58" stop-color="#00ff55"/><stop offset="0.67" stop-color="#00ffa9"/><stop offset="0.75" stop-color="#00ffff"/><stop offset="0.83" stop-color="#00a9ff"/><stop offset="0.92" stop-color="#0055ff"/><stop offset="1" stop-color="#0000ff"/></linearGradient><linearGradient id="bg11" x1="0" y1="0" x2="0" y2="1"><stop offset="0" stop-color="#e4ecfb"/><stop offset="0.3" stop-color="#f2f6fe"/><stop offset="0.45" stop-color="#f9fbff"/><stop offset="0.7" stop-color="#f4f7fe"/><stop offset="1" stop-color="#e7eefc"/></linearGradient><linearGradient id="bg12" x1="0" y1="0" x2="0" y2="1"><stop offset="0" stop-color="#def2e7"/><stop offset="0.4" stop-color="#fbfefc"/><stop offset="0.7" stop-color="#f2faf5"/><stop offset="1" stop-color="#e2f4ea"/></linearGradient><linearGradient id="fbg" x1="0.1" y1="0" x2="0.6" y2="1"><stop offset="0" stop-color="#fefefb"/><stop offset="0.5" stop-color="#fdfde9"/><stop offset="1" stop-color="#f9f8d8"/></linearGradient></defs>
<clipPath id="clipA"><rect x="31" y="18" width="146" height="146"/></clipPath>
<g clip-path="url(#clipA)"><rect x="31" y="18" width="146" height="146" fill="#0023ff"/>
<ellipse cx="72" cy="64" rx="18" ry="15" fill="url(#g0)"/>
<ellipse cx="127" cy="19" rx="12" ry="7.5" fill="url(#g1)"/>
<ellipse cx="38.6" cy="148.3" rx="13.5" ry="10.5" fill="url(#g2)"/>
<ellipse cx="79.7" cy="134.3" rx="15" ry="10.5" fill="url(#g3)"/>
<ellipse cx="81.8" cy="111.6" rx="10.5" ry="9" fill="url(#g4)"/>
<ellipse cx="97" cy="126.7" rx="10.5" ry="9" fill="url(#g5)"/>
<ellipse cx="142.3" cy="133.2" rx="15" ry="10.5" fill="url(#g6)"/>
<ellipse cx="170.4" cy="155.9" rx="12" ry="10.5" fill="url(#g7)"/>
<ellipse cx="159.6" cy="111.6" rx="10.5" ry="9" fill="url(#g8)"/>
<ellipse cx="122.9" cy="159" rx="12" ry="9" fill="url(#g9)"/>
<ellipse cx="58" cy="120" rx="12" ry="9" fill="url(#g10)"/>
<ellipse cx="50" cy="40" rx="12" ry="9" fill="url(#g11)"/>
<ellipse cx="140" cy="80" rx="12" ry="10.5" fill="url(#g12)"/>
<ellipse cx="120" cy="60" rx="10.5" ry="9" fill="url(#g13)"/>
<ellipse cx="60" cy="95" rx="12" ry="9" fill="url(#g14)"/>
<ellipse cx="150" cy="30" rx="12" ry="9" fill="url(#g15)"/>
<ellipse cx="45" cy="60" rx="12" ry="12" fill="url(#g16)"/>
<ellipse cx="160" cy="140" rx="12" ry="9" fill="url(#g17)"/>
<ellipse cx="130" cy="110" rx="12" ry="9" fill="url(#g18)"/>
<ellipse cx="100" cy="150" rx="12" ry="9" fill="url(#g19)"/>
<ellipse cx="82" cy="39.8" rx="8.4" ry="8.4" fill="url(#g20)"/>
<ellipse cx="104.4" cy="46.9" rx="8.4" ry="8.4" fill="url(#g21)"/>
<ellipse cx="169.7" cy="54.7" rx="8.4" ry="8.4" fill="url(#g22)"/>
<ellipse cx="39" cy="83.6" rx="8.4" ry="8.4" fill="url(#g23)"/>
<ellipse cx="89.8" cy="83.8" rx="8.4" ry="8.4" fill="url(#g24)"/>
<ellipse cx="96.5" cy="97.5" rx="13.8" ry="13.8" fill="url(#g25)"/>
<ellipse cx="104.5" cy="90.8" rx="12.6" ry="12.6" fill="url(#g26)"/>
<ellipse cx="111.8" cy="112.8" rx="13.2" ry="13.2" fill="url(#g27)"/>
<ellipse cx="95.9" cy="97.9" rx="7.2" ry="7.2" fill="url(#g28)"/>
<ellipse cx="111.8" cy="112.8" rx="6.6" ry="6.6" fill="url(#g29)"/>
<ellipse cx="104.5" cy="90.8" rx="5.7" ry="5.7" fill="url(#g30)"/>
</g>
<rect x="77.5" y="35.5" width="9" height="9" fill="none" stroke="#f0121c" stroke-width="1.1"/>
<rect x="99.5" y="42.5" width="9" height="9" fill="none" stroke="#f0121c" stroke-width="1.1"/>
<rect x="165.5" y="50.5" width="9" height="9" fill="none" stroke="#f0121c" stroke-width="1.1"/>
<rect x="34.5" y="79.5" width="9" height="9" fill="none" stroke="#f0121c" stroke-width="1.1"/>
<rect x="85.5" y="79.5" width="9" height="9" fill="none" stroke="#f0121c" stroke-width="1.1"/>
<rect x="91.5" y="93.5" width="9" height="9" fill="none" stroke="#f0121c" stroke-width="1.1"/>
<rect x="107.5" y="108.5" width="9" height="9" fill="none" stroke="#f0121c" stroke-width="1.1"/>
<rect x="100.5" y="86.5" width="9" height="9" fill="none" stroke="#f0121c" stroke-width="1.1"/>
<clipPath id="clipB"><rect x="272" y="18" width="146" height="146"/></clipPath>
<g clip-path="url(#clipB)"><rect x="272" y="18" width="146" height="146" fill="#0060ff"/>
<ellipse cx="345.9" cy="35.1" rx="7.2" ry="15" fill="url(#g31)"/>
<ellipse cx="310" cy="97" rx="16.5" ry="7.8" fill="url(#g32)"/>
<ellipse cx="285.3" cy="112.2" rx="13.5" ry="7.8" fill="url(#g33)"/>
<ellipse cx="299.6" cy="127" rx="21" ry="7.8" fill="url(#g34)"/>
<ellipse cx="280" cy="127" rx="9" ry="7.8" fill="url(#g35)"/>
<ellipse cx="283.4" cy="140.8" rx="15" ry="7.8" fill="url(#g36)"/>
<ellipse cx="348.7" cy="104.2" rx="13.5" ry="7.2" fill="url(#g37)"/>
<ellipse cx="287.2" cy="75" rx="10.5" ry="9" fill="url(#g38)"/>
<ellipse cx="405.8" cy="38" rx="10.5" ry="10.5" fill="url(#g39)"/>
<ellipse cx="410.6" cy="61.7" rx="7.5" ry="15" fill="url(#g40)"/>
<ellipse cx="385.8" cy="82.7" rx="13.5" ry="9" fill="url(#g41)"/>
<ellipse cx="316.7" cy="150" rx="12" ry="9" fill="url(#g42)"/>
<ellipse cx="274.8" cy="96.6" rx="9" ry="9" fill="url(#g43)"/>
<ellipse cx="367.7" cy="150" rx="12" ry="9" fill="url(#g44)"/>
<ellipse cx="330" cy="161.3" rx="10.5" ry="9" fill="url(#g45)"/>
<ellipse cx="343.3" cy="103.3" rx="9" ry="9" fill="url(#g46)"/>
<ellipse cx="360.1" cy="134.7" rx="9" ry="9" fill="url(#g47)"/>
<ellipse cx="300" cy="30" rx="15" ry="10.5" fill="url(#g48)"/>
<ellipse cx="380" cy="40" rx="15" ry="10.5" fill="url(#g49)"/>
<ellipse cx="395" cy="100" rx="12" ry="9" fill="url(#g50)"/>
<ellipse cx="290" cy="55" rx="12" ry="9" fill="url(#g51)"/>
<ellipse cx="320" cy="75" rx="12" ry="9" fill="url(#g52)"/>
<ellipse cx="410" cy="90" rx="9" ry="15" fill="url(#g53)"/>
<ellipse cx="300" cy="145" rx="15" ry="10.5" fill="url(#g54)"/>
<ellipse cx="365" cy="115" rx="15" ry="10.5" fill="url(#g55)"/>
<ellipse cx="400" cy="145" rx="15" ry="10.5" fill="url(#g56)"/>
<ellipse cx="330" cy="125" rx="15" ry="10.5" fill="url(#g57)"/>
<ellipse cx="370" cy="30" rx="12" ry="10.5" fill="url(#g58)"/>
<ellipse cx="292" cy="22" rx="15" ry="10.5" fill="url(#g59)"/>
<ellipse cx="376" cy="120" rx="12" ry="9" fill="url(#g60)" transform="rotate(30 376 120)"/>
<ellipse cx="355" cy="70" rx="12" ry="9" fill="url(#g61)"/>
<ellipse cx="320" cy="110" rx="12" ry="9" fill="url(#g62)"/>
<ellipse cx="414" cy="40" rx="9" ry="18" fill="url(#g63)"/>
<ellipse cx="413" cy="63" rx="9" ry="15" fill="url(#g64)"/>
<ellipse cx="357" cy="60" rx="9" ry="9" fill="url(#g65)"/>
<ellipse cx="350" cy="87" rx="7.5" ry="7.5" fill="url(#g66)"/>
<ellipse cx="300" cy="160" rx="15" ry="9" fill="url(#g67)"/>
<ellipse cx="276" cy="160" rx="9" ry="9" fill="url(#g68)"/>
<ellipse cx="340" cy="140" rx="12" ry="9" fill="url(#g69)"/>
<ellipse cx="392" cy="140" rx="12" ry="9" fill="url(#g70)"/>
<ellipse cx="281" cy="25" rx="10.2" ry="9.6" fill="url(#g71)"/>
<ellipse cx="331.3" cy="30.6" rx="9.6" ry="9.6" fill="url(#g72)"/>
<ellipse cx="277" cy="47" rx="9.6" ry="9.6" fill="url(#g73)"/>
<ellipse cx="316" cy="46" rx="9.6" ry="9.6" fill="url(#g74)"/>
<ellipse cx="360.5" cy="53.2" rx="7.8" ry="7.8" fill="url(#g75)"/>
<ellipse cx="338.2" cy="60.8" rx="7.8" ry="7.8" fill="url(#g76)"/>
<ellipse cx="388" cy="60.8" rx="15" ry="8.4" fill="url(#g77)"/>
<ellipse cx="353.5" cy="82.7" rx="7.8" ry="7.5" fill="url(#g78)"/>
<ellipse cx="346" cy="90" rx="7.8" ry="7.5" fill="url(#g79)"/>
<ellipse cx="339" cy="112.3" rx="8.4" ry="8.4" fill="url(#g80)"/>
<ellipse cx="391.5" cy="117.3" rx="16.5" ry="7.8" fill="url(#g81)" transform="rotate(28 391.5 117.3)"/>
<ellipse cx="396.5" cy="120" rx="7.8" ry="7.2" fill="url(#g82)"/>
<ellipse cx="279.6" cy="156" rx="8.4" ry="7.8" fill="url(#g83)"/>
<ellipse cx="299.6" cy="163" rx="10.5" ry="7.5" fill="url(#g84)"/>
<ellipse cx="388.2" cy="159" rx="9.6" ry="9.6" fill="url(#g85)"/>
<ellipse cx="411.5" cy="155.6" rx="12" ry="12" fill="url(#g86)"/>
<ellipse cx="411.8" cy="134.7" rx="10.2" ry="9" fill="url(#g87)"/>
</g>
<rect x="276.5" y="20.5" width="9" height="9" fill="none" stroke="#f0121c" stroke-width="1.1"/>
<rect x="326.5" y="26.5" width="9" height="9" fill="none" stroke="#f0121c" stroke-width="1.1"/>
<rect x="272.5" y="42.5" width="9" height="9" fill="none" stroke="#f0121c" stroke-width="1.1"/>
<rect x="311.5" y="41.5" width="9" height="9" fill="none" stroke="#f0121c" stroke-width="1.1"/>
<rect x="383.5" y="56.5" width="9" height="9" fill="none" stroke="#f0121c" stroke-width="1.1"/>
<rect x="334.5" y="107.5" width="9" height="9" fill="none" stroke="#f0121c" stroke-width="1.1"/>
<rect x="407.5" y="130.5" width="9" height="9" fill="none" stroke="#f0121c" stroke-width="1.1"/>
<rect x="383.5" y="154.5" width="9" height="9" fill="none" stroke="#f0121c" stroke-width="1.1"/>
<rect x="31" y="18" width="146" height="146" fill="none" stroke="#555" stroke-width="0.6"/>
<line x1="31" y1="17.7" x2="31" y2="164.5" stroke="#222" stroke-width="1"/>
<line x1="30.5" y1="164" x2="177" y2="164" stroke="#222" stroke-width="1"/>
<line x1="31.2" y1="164" x2="31.2" y2="166.5" stroke="#222" stroke-width="1"/>
<line x1="31" y1="163.8" x2="28.5" y2="163.8" stroke="#222" stroke-width="1"/>
<line x1="49.17" y1="164" x2="49.17" y2="165.5" stroke="#222" stroke-width="1"/>
<line x1="31" y1="145.7" x2="29.5" y2="145.7" stroke="#222" stroke-width="1"/>
<line x1="67.15" y1="164" x2="67.15" y2="166.5" stroke="#222" stroke-width="1"/>
<line x1="31" y1="127.6" x2="28.5" y2="127.6" stroke="#222" stroke-width="1"/>
<line x1="85.12" y1="164" x2="85.12" y2="165.5" stroke="#222" stroke-width="1"/>
<line x1="31" y1="109.5" x2="29.5" y2="109.5" stroke="#222" stroke-width="1"/>
<line x1="103.1" y1="164" x2="103.1" y2="166.5" stroke="#222" stroke-width="1"/>
<line x1="31" y1="91.4" x2="28.5" y2="91.4" stroke="#222" stroke-width="1"/>
<line x1="121.08" y1="164" x2="121.08" y2="165.5" stroke="#222" stroke-width="1"/>
<line x1="31" y1="73.3" x2="29.5" y2="73.3" stroke="#222" stroke-width="1"/>
<line x1="139.05" y1="164" x2="139.05" y2="166.5" stroke="#222" stroke-width="1"/>
<line x1="31" y1="55.2" x2="28.5" y2="55.2" stroke="#222" stroke-width="1"/>
<line x1="157.03" y1="164" x2="157.03" y2="165.5" stroke="#222" stroke-width="1"/>
<line x1="31" y1="37.1" x2="29.5" y2="37.1" stroke="#222" stroke-width="1"/>
<line x1="175" y1="164" x2="175" y2="166.5" stroke="#222" stroke-width="1"/>
<line x1="31" y1="19" x2="28.5" y2="19" stroke="#222" stroke-width="1"/>
<text transform="translate(31.2 179.1) scale(1 1.07)" font-size="11.5" text-anchor="middle" fill="#1a1a1a">0</text>
<text transform="translate(27.7 167.8) scale(1 1.07)" font-size="11.5" text-anchor="end" fill="#1a1a1a">0</text>
<text transform="translate(67.15 179.1) scale(1 1.07)" font-size="11.5" text-anchor="middle" fill="#1a1a1a">5</text>
<text transform="translate(27.7 131.6) scale(1 1.07)" font-size="11.5" text-anchor="end" fill="#1a1a1a">5</text>
<text transform="translate(103.1 179.1) scale(1 1.07)" font-size="11.5" text-anchor="middle" fill="#1a1a1a">10</text>
<text transform="translate(27.7 95.4) scale(1 1.07)" font-size="11.5" text-anchor="end" fill="#1a1a1a">10</text>
<text transform="translate(139.05 179.1) scale(1 1.07)" font-size="11.5" text-anchor="middle" fill="#1a1a1a">15</text>
<text transform="translate(27.7 59.2) scale(1 1.07)" font-size="11.5" text-anchor="end" fill="#1a1a1a">15</text>
<text transform="translate(175 179.1) scale(1 1.07)" font-size="11.5" text-anchor="middle" fill="#1a1a1a">20</text>
<text transform="translate(27.7 23) scale(1 1.07)" font-size="11.5" text-anchor="end" fill="#1a1a1a">20</text>
<rect x="189" y="22" width="12" height="137.4" fill="url(#cbar)" stroke="#444" stroke-width="0.6"/>
<line x1="201" y1="159.4" x2="204" y2="159.4" stroke="#444" stroke-width="0.8"/>
<text transform="translate(208.3 164.2) scale(1 1.07)" font-size="11.5" text-anchor="start" fill="#1a1a1a">0</text>
<line x1="201" y1="131.92" x2="204" y2="131.92" stroke="#444" stroke-width="0.8"/>
<text transform="translate(208.3 136.72) scale(1 1.07)" font-size="11.5" text-anchor="start" fill="#1a1a1a">0.2</text>
<line x1="201" y1="104.44" x2="204" y2="104.44" stroke="#444" stroke-width="0.8"/>
<text transform="translate(208.3 109.24) scale(1 1.07)" font-size="11.5" text-anchor="start" fill="#1a1a1a">0.4</text>
<line x1="201" y1="76.96" x2="204" y2="76.96" stroke="#444" stroke-width="0.8"/>
<text transform="translate(208.3 81.76) scale(1 1.07)" font-size="11.5" text-anchor="start" fill="#1a1a1a">0.6</text>
<line x1="201" y1="49.48" x2="204" y2="49.48" stroke="#444" stroke-width="0.8"/>
<text transform="translate(208.3 54.28) scale(1 1.07)" font-size="11.5" text-anchor="start" fill="#1a1a1a">0.8</text>
<line x1="201" y1="22" x2="204" y2="22" stroke="#444" stroke-width="0.8"/>
<text transform="translate(208.3 26.8) scale(1 1.07)" font-size="11.5" text-anchor="start" fill="#1a1a1a">1</text>
<rect x="272" y="18" width="146" height="146" fill="none" stroke="#555" stroke-width="0.6"/>
<line x1="272" y1="17.7" x2="272" y2="164.5" stroke="#222" stroke-width="1"/>
<line x1="271.5" y1="164" x2="418" y2="164" stroke="#222" stroke-width="1"/>
<line x1="272.2" y1="164" x2="272.2" y2="166.5" stroke="#222" stroke-width="1"/>
<line x1="272" y1="163.8" x2="269.5" y2="163.8" stroke="#222" stroke-width="1"/>
<line x1="290.18" y1="164" x2="290.18" y2="165.5" stroke="#222" stroke-width="1"/>
<line x1="272" y1="145.7" x2="270.5" y2="145.7" stroke="#222" stroke-width="1"/>
<line x1="308.15" y1="164" x2="308.15" y2="166.5" stroke="#222" stroke-width="1"/>
<line x1="272" y1="127.6" x2="269.5" y2="127.6" stroke="#222" stroke-width="1"/>
<line x1="326.12" y1="164" x2="326.12" y2="165.5" stroke="#222" stroke-width="1"/>
<line x1="272" y1="109.5" x2="270.5" y2="109.5" stroke="#222" stroke-width="1"/>
<line x1="344.1" y1="164" x2="344.1" y2="166.5" stroke="#222" stroke-width="1"/>
<line x1="272" y1="91.4" x2="269.5" y2="91.4" stroke="#222" stroke-width="1"/>
<line x1="362.07" y1="164" x2="362.07" y2="165.5" stroke="#222" stroke-width="1"/>
<line x1="272" y1="73.3" x2="270.5" y2="73.3" stroke="#222" stroke-width="1"/>
<line x1="380.05" y1="164" x2="380.05" y2="166.5" stroke="#222" stroke-width="1"/>
<line x1="272" y1="55.2" x2="269.5" y2="55.2" stroke="#222" stroke-width="1"/>
<line x1="398.02" y1="164" x2="398.02" y2="165.5" stroke="#222" stroke-width="1"/>
<line x1="272" y1="37.1" x2="270.5" y2="37.1" stroke="#222" stroke-width="1"/>
<line x1="416" y1="164" x2="416" y2="166.5" stroke="#222" stroke-width="1"/>
<line x1="272" y1="19" x2="269.5" y2="19" stroke="#222" stroke-width="1"/>
<text transform="translate(272.2 179.1) scale(1 1.07)" font-size="11.5" text-anchor="middle" fill="#1a1a1a">0</text>
<text transform="translate(308.15 179.1) scale(1 1.07)" font-size="11.5" text-anchor="middle" fill="#1a1a1a">5</text>
<text transform="translate(268.7 131.6) scale(1 1.07)" font-size="11.5" text-anchor="end" fill="#1a1a1a">5</text>
<text transform="translate(344.1 179.1) scale(1 1.07)" font-size="11.5" text-anchor="middle" fill="#1a1a1a">10</text>
<text transform="translate(268.7 95.4) scale(1 1.07)" font-size="11.5" text-anchor="end" fill="#1a1a1a">10</text>
<text transform="translate(380.05 179.1) scale(1 1.07)" font-size="11.5" text-anchor="middle" fill="#1a1a1a">15</text>
<text transform="translate(268.7 59.2) scale(1 1.07)" font-size="11.5" text-anchor="end" fill="#1a1a1a">15</text>
<text transform="translate(416 179.1) scale(1 1.07)" font-size="11.5" text-anchor="middle" fill="#1a1a1a">20</text>
<text transform="translate(268.7 23) scale(1 1.07)" font-size="11.5" text-anchor="end" fill="#1a1a1a">20</text>
<rect x="429" y="22" width="12" height="137.4" fill="url(#cbar)" stroke="#444" stroke-width="0.6"/>
<line x1="441" y1="159.4" x2="444" y2="159.4" stroke="#444" stroke-width="0.8"/>
<text transform="translate(448.3 164.2) scale(1 1.07)" font-size="11.5" text-anchor="start" fill="#1a1a1a">0</text>
<line x1="441" y1="131.92" x2="444" y2="131.92" stroke="#444" stroke-width="0.8"/>
<text transform="translate(448.3 136.72) scale(1 1.07)" font-size="11.5" text-anchor="start" fill="#1a1a1a">0.2</text>
<line x1="441" y1="104.44" x2="444" y2="104.44" stroke="#444" stroke-width="0.8"/>
<text transform="translate(448.3 109.24) scale(1 1.07)" font-size="11.5" text-anchor="start" fill="#1a1a1a">0.4</text>
<line x1="441" y1="76.96" x2="444" y2="76.96" stroke="#444" stroke-width="0.8"/>
<text transform="translate(448.3 81.76) scale(1 1.07)" font-size="11.5" text-anchor="start" fill="#1a1a1a">0.6</text>
<line x1="441" y1="49.48" x2="444" y2="49.48" stroke="#444" stroke-width="0.8"/>
<text transform="translate(448.3 54.28) scale(1 1.07)" font-size="11.5" text-anchor="start" fill="#1a1a1a">0.8</text>
<line x1="441" y1="22" x2="444" y2="22" stroke="#444" stroke-width="0.8"/>
<text transform="translate(448.3 26.8) scale(1 1.07)" font-size="11.5" text-anchor="start" fill="#1a1a1a">1</text>
<text x="104" y="193.5" font-size="12" text-anchor="middle" font-weight="normal" fill="#1a1a1a" >Distance (μm)</text>
<text x="345" y="193.5" font-size="12" text-anchor="middle" font-weight="normal" fill="#1a1a1a" >Distance (μm)</text>
<text transform="translate(9.9 95.7) rotate(-90)" font-size="12.5" text-anchor="middle" fill="#1a1a1a">Distance (μm)</text>
<text transform="translate(250.9 95.9) rotate(-90)" font-size="12.5" text-anchor="middle" fill="#1a1a1a">Distance (μm)</text>
<text x="2" y="10.8" font-size="15.5" text-anchor="start" font-weight="bold" fill="#000" >a</text>
<text x="243" y="11.8" font-size="15.5" text-anchor="start" font-weight="bold" fill="#000" >b</text>
<text x="483.6" y="10.8" font-size="15.5" text-anchor="start" font-weight="bold" fill="#000" >c</text>
<text x="2" y="207" font-size="15.5" text-anchor="start" font-weight="bold" fill="#000" >d</text>
<text x="242.6" y="208.4" font-size="15.5" text-anchor="start" font-weight="bold" fill="#000" >e</text>
<text x="483.8" y="206.6" font-size="15.5" text-anchor="start" font-weight="bold" fill="#000" >f</text>
<rect x="500.5" y="19.5" width="183.1" height="145.2" fill="#fefef0"/>
<clipPath id="clipC"><rect x="500.5" y="19" width="183.1" height="145.3"/></clipPath><g clip-path="url(#clipC)">
<path d="M520.8,152.4 L520.8,150.67 L520.94,150.62 L521.08,150.56 L521.22,150.5 L521.35,150.44 L521.49,150.37 L521.63,150.3 L521.77,150.23 L521.91,150.15 L522.05,150.07 L522.18,149.99 L522.32,149.9 L522.46,149.8 L522.6,149.7 L522.74,149.59 L522.88,149.48 L523.01,149.36 L523.15,149.24 L523.29,149.1 L523.43,148.96 L523.57,148.81 L523.71,148.64 L523.84,148.47 L523.98,148.28 L524.12,148.08 L524.26,147.87 L524.4,147.64 L524.54,147.39 L524.67,147.13 L524.81,146.84 L524.95,146.53 L525.09,146.19 L525.23,145.82 L525.37,145.42 L525.5,144.99 L525.64,144.51 L525.78,143.99 L525.92,143.42 L526.06,142.78 L526.2,142.09 L526.33,141.32 L526.47,140.46 L526.61,139.51 L526.75,138.45 L526.89,137.27 L527.03,135.93 L527.16,134.44 L527.3,132.75 L527.44,130.84 L527.58,128.68 L527.72,126.23 L527.86,123.46 L527.99,120.31 L528.13,116.76 L528.27,112.77 L528.41,108.33 L528.55,103.44 L528.69,98.16 L528.83,92.63 L528.96,87.06 L529.1,81.77 L529.24,77.16 L529.38,73.68 L529.52,71.73 L529.66,71.55 L529.79,73.16 L529.93,76.36 L530.07,80.78 L530.21,85.97 L530.35,91.51 L530.49,97.07 L530.62,102.41 L530.76,107.38 L530.9,111.92 L531.04,116 L531.18,119.64 L531.32,122.86 L531.45,125.7 L531.59,128.21 L531.73,130.43 L531.87,132.38 L532.01,134.11 L532.15,135.65 L532.28,137.01 L532.42,138.23 L532.56,139.31 L532.7,140.28 L532.84,141.15 L532.98,141.94 L533.11,142.65 L533.25,143.29 L533.39,143.88 L533.53,144.41 L533.67,144.89 L533.81,145.34 L533.94,145.74 L534.08,146.12 L534.22,146.46 L534.36,146.78 L534.5,147.07 L534.64,147.34 L534.77,147.59 L534.91,147.82 L535.05,148.04 L535.19,148.24 L535.33,148.43 L535.47,148.61 L535.61,148.77 L535.74,148.93 L535.88,149.07 L536.02,149.21 L536.16,149.34 L536.3,149.46 L536.44,149.57 L536.57,149.68 L536.71,149.78 L536.85,149.88 L536.99,149.97 L537.13,150.05 L537.27,150.14 L537.4,150.21 L537.54,150.29 L537.68,150.36 L537.82,150.42 L537.96,150.49 L538.1,150.55 L538.23,150.6 L538.37,150.66 L538.51,150.71 L538.65,150.76 L538.79,150.81 L538.93,150.86 L539.06,150.9 L539.2,150.94 L539.34,150.98 L539.48,151.02 L539.62,151.06 L539.76,151.09 L539.89,151.13 L540.03,151.16 L540.17,151.19 L540.31,151.22 L540.45,151.25 L540.59,151.28 L540.72,151.31 L540.86,151.34 L541,151.36 L541.14,151.38 L541.28,151.41 L541.42,151.43 L541.55,151.45 L541.69,151.47 L541.83,151.5 L541.97,151.52 L542.11,151.53 L542.25,151.55 L542.38,151.57 L542.52,151.59 L542.66,151.61 L542.8,151.62 L542.8,152.4 Z" fill="#f3949f" fill-opacity="0.9"/>
<path d="M520.8,152.4 L520.8,152.4 L520.94,152.4 L521.08,152.4 L521.22,152.4 L521.35,152.4 L521.49,152.4 L521.63,152.4 L521.77,152.4 L521.91,152.4 L522.05,152.4 L522.18,152.4 L522.32,152.39 L522.46,152.39 L522.6,152.39 L522.74,152.39 L522.88,152.39 L523.01,152.39 L523.15,152.38 L523.29,152.38 L523.43,152.38 L523.57,152.37 L523.71,152.37 L523.84,152.36 L523.98,152.35 L524.12,152.35 L524.26,152.34 L524.4,152.33 L524.54,152.31 L524.67,152.3 L524.81,152.28 L524.95,152.26 L525.09,152.24 L525.23,152.22 L525.37,152.19 L525.5,152.16 L525.64,152.13 L525.78,152.09 L525.92,152.05 L526.06,152 L526.2,151.94 L526.33,151.89 L526.47,151.82 L526.61,151.75 L526.75,151.67 L526.89,151.58 L527.03,151.49 L527.16,151.38 L527.3,151.27 L527.44,151.15 L527.58,151.01 L527.72,150.87 L527.86,150.72 L527.99,150.55 L528.13,150.38 L528.27,150.19 L528.41,149.99 L528.55,149.78 L528.69,149.56 L528.83,149.33 L528.96,149.09 L529.1,148.84 L529.24,148.57 L529.38,148.3 L529.52,148.02 L529.66,147.73 L529.79,147.44 L529.93,147.14 L530.07,146.83 L530.21,146.52 L530.35,146.21 L530.49,145.9 L530.62,145.59 L530.76,145.28 L530.9,144.98 L531.04,144.68 L531.18,144.39 L531.32,144.11 L531.45,143.84 L531.59,143.58 L531.73,143.34 L531.87,143.11 L532.01,142.9 L532.15,142.71 L532.28,142.54 L532.42,142.39 L532.56,142.27 L532.7,142.16 L532.84,142.09 L532.98,142.03 L533.11,142 L533.25,142 L533.39,142.02 L533.53,142.07 L533.67,142.14 L533.81,142.24 L533.94,142.36 L534.08,142.5 L534.22,142.67 L534.36,142.85 L534.5,143.06 L534.64,143.28 L534.77,143.52 L534.91,143.78 L535.05,144.04 L535.19,144.32 L535.33,144.61 L535.47,144.91 L535.61,145.21 L535.74,145.52 L535.88,145.83 L536.02,146.14 L536.16,146.45 L536.3,146.76 L536.44,147.06 L536.57,147.37 L536.71,147.66 L536.85,147.95 L536.99,148.24 L537.13,148.51 L537.27,148.78 L537.4,149.03 L537.54,149.28 L537.68,149.51 L537.82,149.73 L537.96,149.94 L538.1,150.14 L538.23,150.33 L538.37,150.51 L538.51,150.68 L538.65,150.83 L538.79,150.98 L538.93,151.11 L539.06,151.24 L539.2,151.36 L539.34,151.46 L539.48,151.56 L539.62,151.65 L539.76,151.73 L539.89,151.8 L540.03,151.87 L540.17,151.93 L540.31,151.99 L540.45,152.04 L540.59,152.08 L540.72,152.12 L540.86,152.15 L541,152.19 L541.14,152.21 L541.28,152.24 L541.42,152.26 L541.55,152.28 L541.69,152.3 L541.83,152.31 L541.97,152.32 L542.11,152.33 L542.25,152.34 L542.38,152.35 L542.52,152.36 L542.66,152.37 L542.8,152.37 L542.8,152.4 Z" fill="#6ea3ee" fill-opacity="0.88"/>
<path d="M520.6,152.6 L521,151 L521.6,120 L522.2,91.5 L522.8,120 L523.3,146 L523.9,140 L524.4,131 L525,140 L526,139 L527,137 L527.6,133 L527.9,152.6 Z" fill="#000"/>
<path d="M500.5,154 L501.14,154.18 L501.79,153.96 L502.43,153.73 L503.07,153.97 L503.71,153.77 L504.36,154.28 L505,154.9 L505.62,153.99 L506.25,153.85 L506.88,154.26 L507.5,154.11 L508.12,153.91 L508.75,153.36 L509.38,153.67 L510,153.91 L510.62,152.98 L511.25,153.37 L511.88,152.71 L512.5,152.97 L513.12,152.71 L513.75,153.42 L514.38,152.94 L515,153.62 L515.66,153.46 L516.33,153.19 L516.99,152.03 L517.65,152.81 L518.31,152.92 L518.97,152.88 L519.64,152.02 L520.3,152.6 L520.3,152.6 L521,151 L521.6,120 L522.2,91.5 L522.8,120 L523.3,147 L523.9,140 L524.4,131 L525,141 L526,143 L527,139 L527.2,132.98 L527.26,132.15 L527.33,131.27 L527.39,130.34 L527.46,129.36 L527.52,128.32 L527.58,127.22 L527.65,126.05 L527.71,124.82 L527.78,123.52 L527.84,122.14 L527.9,120.68 L527.97,119.14 L528.03,117.5 L528.1,115.78 L528.16,113.96 L528.22,112.05 L528.29,110.03 L528.35,107.91 L528.42,105.7 L528.48,103.38 L528.54,100.98 L528.61,98.48 L528.67,95.91 L528.74,93.28 L528.8,90.61 L528.86,87.91 L528.93,85.21 L528.99,82.56 L529.06,79.97 L529.12,77.5 L529.18,75.19 L529.25,73.08 L529.31,71.21 L529.38,69.63 L529.44,68.38 L529.5,67.48 L529.57,66.96 L529.63,66.83 L529.7,67.09 L529.76,67.73 L529.82,68.72 L529.89,70.04 L529.95,71.65 L530.02,73.5 L530.08,75.55 L530.14,77.76 L530.21,80.09 L530.27,82.49 L530.34,84.93 L530.4,87.37 L530.46,89.8 L530.53,92.18 L530.59,94.5 L530.66,96.75 L530.72,98.91 L530.78,100.99 L530.85,102.97 L530.91,104.85 L530.98,106.64 L531.04,108.33 L531.11,109.93 L531.17,111.43 L531.23,112.85 L531.3,114.19 L531.36,115.45 L531.43,116.63 L531.49,117.74 L531.55,118.78 L531.62,119.77 L531.68,120.69 L531.75,121.56 L531.81,122.37 L531.87,123.14 L531.94,123.87 L532,124.55 L532.07,125.2 L532.13,125.81 L532.19,126.38 L532.26,126.93 L532.32,127.45 L532.39,127.94 L532.45,128.41 L532.51,128.86 L532.58,129.28 L532.64,129.69 L532.71,130.08 L532.77,130.46 L532.83,130.82 L532.9,131.16 L532.96,131.5 L533.03,131.82 L533.09,132.14 L533.15,132.44 L533.22,132.74 L533.28,133.02 L533.35,133.31 L533.41,133.58 L533.47,133.85 L533.54,134.11 L533.6,134.37 L533.67,134.63 L533.73,134.88 L533.79,135.13 L533.86,135.38 L533.92,135.62 L533.99,135.86 L534.05,136.1 L534.11,136.34 L534.18,136.57 L534.24,136.8 L534.31,137.04 L534.37,137.27 L534.43,137.5 L534.5,137.73 L534.56,137.96 L534.63,138.19 L534.69,138.41 L534.75,138.64 L534.82,138.87 L534.88,139.09 L534.95,139.32 L535.01,139.54 L535.07,139.76 L535.14,139.99 L535.2,140.21 L535.27,140.43 L535.33,140.65 L535.39,140.87 L535.46,141.09 L535.52,141.3 L535.59,141.52 L535.65,141.73 L535.71,141.95 L535.78,142.16 L535.84,142.37 L535.91,142.58 L535.97,142.79 L536.03,142.99 L536.1,143.2 L536.16,143.4 L536.23,143.6 L536.29,143.8 L536.35,143.99 L536.42,144.19 L536.48,144.38 L536.55,144.57 L536.61,144.75 L536.67,144.94 L536.74,145.12 L536.8,145.3 L536.87,145.48 L536.93,145.65 L536.99,145.82 L537.06,145.99 L537.12,146.15 L537.19,146.32 L537.25,146.47 L537.31,146.63 L537.38,146.78 L537.44,146.93 L537.51,147.08 L537.57,147.23 L537.63,147.37 L537.7,147.5 L537.76,147.64 L537.83,147.77 L537.89,147.9 L537.95,148.03 L538.02,148.15 L538.08,148.27 L538.15,148.38 L538.21,148.5 L538.27,148.61 L538.34,148.72 L538.4,148.82 L538.47,148.92 L538.53,149.02 L538.59,149.12 L538.66,149.21 L538.72,149.3 L538.79,149.39 L538.85,149.47 L538.92,149.56 L538.98,149.64 L539.04,149.71 L539.11,149.79 L539.17,149.86 L539.24,149.93 L539.3,150 L539.36,150.07 L539.43,150.13 L539.49,150.19 L539.56,150.25 L539.62,150.31 L539.68,150.36 L539.75,150.42 L539.81,150.47 L539.88,150.52 L539.94,150.57 L540,150.61 L540.07,150.66 L540.13,150.7 L540.2,150.74 L540.26,150.78 L540.32,150.82 L540.39,150.85 L540.45,150.89 L540.52,150.92 L540.58,150.96 L540.64,150.99 L540.71,151.02 L540.77,151.05 L540.84,151.08 L540.9,151.1 L540.96,151.13 L541.03,151.16 L541.09,151.18 L541.16,151.2 L541.22,151.23 L541.28,151.25 L541.35,151.27 L541.41,151.29 L541.48,151.31 L541.54,151.33 L541.6,151.35 L541.67,151.36 L541.73,151.38 L541.8,151.4 L541.86,151.41 L541.92,151.43 L541.99,151.44 L542.05,151.46 L542.12,151.47 L542.18,151.48 L542.24,151.5 L542.31,151.51 L542.37,151.52 L542.44,151.53 L542.5,151.54 L542.5,150.59 L543.12,150.66 L543.75,151.04 L544.38,152.18 L545,151.64 L545.8,150.89 L546.6,150.2 L547.4,148.44 L548.03,147.4 L548.67,146.25 L549.3,144.98 L549.93,143.15 L550.57,142.48 L551.2,141.81 L551.9,141.83 L552.6,144.24 L553.3,145.23 L554,146.21 L554.6,147.71 L555.2,147.47 L555.8,146.9 L556.4,147.79 L557,148.33 L557.6,148.3 L558.2,149.01 L558.88,148.94 L559.57,149.53 L560.25,150.15 L560.93,149.46 L561.62,150.12 L562.3,150.09 L562.96,150.8 L563.62,150.65 L564.28,151.36 L564.94,151.97 L565.6,152.9 L566.23,152.64 L566.85,151.15 L567.48,151.02 L568.1,151.29 L568.73,149.73 L569.35,150.04 L569.98,149.83 L570.6,150.07 L571.28,149.13 L571.97,147.99 L572.65,147.28 L573.33,146.65 L574.02,146.77 L574.7,145.21 L575.38,144.01 L576.07,143.06 L576.75,141.6 L577.43,140.31 L578.12,138.65 L578.8,137.89 L579.46,136.22 L580.12,135.46 L580.78,133.75 L581.44,131.97 L582.1,130.8 L582.95,125.8 L583.8,121.87 L584.6,115.65 L585.4,109.9 L586.2,100 L587,97.5 L587.3,91.7 L587.9,92.35 L588.5,93.26 L589.4,88.32 L590.3,84.96 L591.07,84.87 L591.83,85.55 L592.6,87.3" fill="none" stroke="#000" stroke-width="1.15" stroke-linejoin="round"/>
<path d="M520.8,152.4 L520.94,152.4 L521.08,152.4 L521.22,152.4 L521.35,152.4 L521.49,152.4 L521.63,152.4 L521.77,152.4 L521.91,152.4 L522.05,152.4 L522.18,152.4 L522.32,152.39 L522.46,152.39 L522.6,152.39 L522.74,152.39 L522.88,152.39 L523.01,152.39 L523.15,152.38 L523.29,152.38 L523.43,152.38 L523.57,152.37 L523.71,152.37 L523.84,152.36 L523.98,152.35 L524.12,152.35 L524.26,152.34 L524.4,152.33 L524.54,152.31 L524.67,152.3 L524.81,152.28 L524.95,152.26 L525.09,152.24 L525.23,152.22 L525.37,152.19 L525.5,152.16 L525.64,152.13 L525.78,152.09 L525.92,152.05 L526.06,152 L526.2,151.94 L526.33,151.89 L526.47,151.82 L526.61,151.75 L526.75,151.67 L526.89,151.58 L527.03,151.49 L527.16,151.38 L527.3,151.27 L527.44,151.15 L527.58,151.01 L527.72,150.87 L527.86,150.72 L527.99,150.55 L528.13,150.38 L528.27,150.19 L528.41,149.99 L528.55,149.78 L528.69,149.56 L528.83,149.33 L528.96,149.09 L529.1,148.84 L529.24,148.57 L529.38,148.3 L529.52,148.02 L529.66,147.73 L529.79,147.44 L529.93,147.14 L530.07,146.83 L530.21,146.52 L530.35,146.21 L530.49,145.9 L530.62,145.59 L530.76,145.28 L530.9,144.98 L531.04,144.68 L531.18,144.39 L531.32,144.11 L531.45,143.84 L531.59,143.58 L531.73,143.34 L531.87,143.11 L532.01,142.9 L532.15,142.71 L532.28,142.54 L532.42,142.39 L532.56,142.27 L532.7,142.16 L532.84,142.09 L532.98,142.03 L533.11,142 L533.25,142 L533.39,142.02 L533.53,142.07 L533.67,142.14 L533.81,142.24 L533.94,142.36 L534.08,142.5 L534.22,142.67 L534.36,142.85 L534.5,143.06 L534.64,143.28 L534.77,143.52 L534.91,143.78 L535.05,144.04 L535.19,144.32 L535.33,144.61 L535.47,144.91 L535.61,145.21 L535.74,145.52 L535.88,145.83 L536.02,146.14 L536.16,146.45 L536.3,146.76 L536.44,147.06 L536.57,147.37 L536.71,147.66 L536.85,147.95 L536.99,148.24 L537.13,148.51 L537.27,148.78 L537.4,149.03 L537.54,149.28 L537.68,149.51 L537.82,149.73 L537.96,149.94 L538.1,150.14 L538.23,150.33 L538.37,150.51 L538.51,150.68 L538.65,150.83 L538.79,150.98 L538.93,151.11 L539.06,151.24 L539.2,151.36 L539.34,151.46 L539.48,151.56 L539.62,151.65 L539.76,151.73 L539.89,151.8 L540.03,151.87 L540.17,151.93 L540.31,151.99 L540.45,152.04 L540.59,152.08 L540.72,152.12 L540.86,152.15 L541,152.19 L541.14,152.21 L541.28,152.24 L541.42,152.26 L541.55,152.28 L541.69,152.3 L541.83,152.31 L541.97,152.32 L542.11,152.33 L542.25,152.34 L542.38,152.35 L542.52,152.36 L542.66,152.37 L542.8,152.37" fill="none" stroke="#2f6fd8" stroke-width="1"/>
<line x1="520.8" y1="152.4" x2="542.8" y2="152.4" stroke="#2f6fd8" stroke-width="1.1"/>
<path d="M520.8,150.67 L520.94,150.61 L521.08,150.56 L521.22,150.5 L521.35,150.43 L521.49,150.37 L521.63,150.3 L521.77,150.23 L521.91,150.15 L522.05,150.07 L522.18,149.98 L522.32,149.89 L522.46,149.79 L522.6,149.69 L522.74,149.58 L522.88,149.47 L523.01,149.35 L523.15,149.22 L523.29,149.08 L523.43,148.93 L523.57,148.78 L523.71,148.61 L523.84,148.43 L523.98,148.24 L524.12,148.03 L524.26,147.81 L524.4,147.57 L524.54,147.31 L524.67,147.02 L524.81,146.72 L524.95,146.39 L525.09,146.03 L525.23,145.64 L525.37,145.21 L525.5,144.75 L525.64,144.24 L525.78,143.68 L525.92,143.06 L526.06,142.38 L526.2,141.63 L526.33,140.8 L526.47,139.88 L526.61,138.86 L526.75,137.72 L526.89,136.45 L527.03,135.02 L527.16,133.42 L527.3,131.62 L527.44,129.58 L527.58,127.29 L527.72,124.7 L527.86,121.77 L527.99,118.46 L528.13,114.74 L528.27,110.56 L528.41,105.92 L528.55,100.82 L528.69,95.33 L528.83,89.56 L528.96,83.75 L529.1,78.21 L529.24,73.34 L529.38,69.58 L529.52,67.35 L529.66,66.88 L529.79,68.2 L529.93,71.1 L530.07,75.21 L530.21,80.09 L530.35,85.32 L530.49,90.57 L530.62,95.6 L530.76,100.26 L530.9,104.5 L531.04,108.28 L531.18,111.62 L531.32,114.57 L531.45,117.14 L531.59,119.39 L531.73,121.37 L531.87,123.1 L532.01,124.62 L532.15,125.96 L532.28,127.15 L532.42,128.22 L532.56,129.18 L532.7,130.05 L532.84,130.84 L532.98,131.57 L533.11,132.26 L533.25,132.9 L533.39,133.5 L533.53,134.08 L533.67,134.64 L533.81,135.18 L533.94,135.71 L534.08,136.22 L534.22,136.73 L534.36,137.23 L534.5,137.73 L534.64,138.22 L534.77,138.71 L534.91,139.2 L535.05,139.68 L535.19,140.16 L535.33,140.64 L535.47,141.11 L535.61,141.58 L535.74,142.04 L535.88,142.5 L536.02,142.95 L536.16,143.39 L536.3,143.82 L536.44,144.24 L536.57,144.65 L536.71,145.04 L536.85,145.43 L536.99,145.8 L537.13,146.16 L537.27,146.51 L537.4,146.84 L537.54,147.16 L537.68,147.47 L537.82,147.76 L537.96,148.03 L538.1,148.29 L538.23,148.54 L538.37,148.77 L538.51,148.99 L538.65,149.2 L538.79,149.39 L538.93,149.57 L539.06,149.74 L539.2,149.9 L539.34,150.04 L539.48,150.18 L539.62,150.31 L539.76,150.42 L539.89,150.53 L540.03,150.63 L540.17,150.72 L540.31,150.81 L540.45,150.89 L540.59,150.96 L540.72,151.03 L540.86,151.09 L541,151.15 L541.14,151.2 L541.28,151.25 L541.42,151.29 L541.55,151.33 L541.69,151.37 L541.83,151.41 L541.97,151.44 L542.11,151.47 L542.25,151.5 L542.38,151.52 L542.52,151.55 L542.66,151.57 L542.8,151.59" fill="none" stroke="#a262e0" stroke-width="1.3"/>
<path d="M607.5,153.3 L607.5,152.02 L607.71,151.98 L607.92,151.95 L608.12,151.91 L608.33,151.88 L608.54,151.84 L608.75,151.8 L608.95,151.75 L609.16,151.71 L609.37,151.66 L609.58,151.61 L609.78,151.56 L609.99,151.51 L610.2,151.46 L610.41,151.4 L610.61,151.34 L610.82,151.28 L611.03,151.21 L611.24,151.14 L611.44,151.07 L611.65,150.99 L611.86,150.91 L612.07,150.82 L612.27,150.73 L612.48,150.64 L612.69,150.54 L612.9,150.44 L613.1,150.32 L613.31,150.21 L613.52,150.08 L613.73,149.95 L613.93,149.81 L614.14,149.66 L614.35,149.5 L614.56,149.33 L614.76,149.15 L614.97,148.95 L615.18,148.74 L615.39,148.52 L615.59,148.28 L615.8,148.03 L616.01,147.75 L616.22,147.45 L616.42,147.13 L616.63,146.78 L616.84,146.4 L617.05,145.99 L617.25,145.54 L617.46,145.05 L617.67,144.52 L617.88,143.93 L618.08,143.29 L618.29,142.58 L618.5,141.8 L618.71,140.93 L618.92,139.97 L619.12,138.9 L619.33,137.7 L619.54,136.37 L619.75,134.87 L619.95,133.18 L620.16,131.28 L620.37,129.14 L620.58,126.72 L620.78,123.99 L620.99,120.9 L621.2,117.42 L621.41,113.52 L621.61,109.17 L621.82,104.38 L622.03,99.2 L622.24,93.71 L622.44,88.1 L622.65,82.64 L622.86,77.68 L623.07,73.65 L623.27,70.96 L623.48,69.91 L623.69,70.64 L623.9,73.05 L624.1,76.87 L624.31,81.68 L624.52,87.08 L624.73,92.69 L624.93,98.22 L625.14,103.47 L625.35,108.33 L625.56,112.76 L625.76,116.75 L625.97,120.3 L626.18,123.46 L626.39,126.25 L626.59,128.73 L626.8,130.91 L627.01,132.85 L627.22,134.58 L627.42,136.11 L627.63,137.47 L627.84,138.69 L628.05,139.78 L628.25,140.76 L628.46,141.65 L628.67,142.44 L628.88,143.17 L629.08,143.82 L629.29,144.42 L629.5,144.96 L629.71,145.46 L629.92,145.91 L630.12,146.33 L630.33,146.71 L630.54,147.07 L630.75,147.39 L630.95,147.7 L631.16,147.98 L631.37,148.24 L631.58,148.48 L631.78,148.71 L631.99,148.92 L632.2,149.11 L632.41,149.3 L632.61,149.47 L632.82,149.63 L633.03,149.78 L633.24,149.92 L633.44,150.06 L633.65,150.18 L633.86,150.3 L634.07,150.42 L634.27,150.52 L634.48,150.62 L634.69,150.72 L634.9,150.81 L635.1,150.89 L635.31,150.98 L635.52,151.05 L635.73,151.13 L635.93,151.2 L636.14,151.26 L636.35,151.33 L636.56,151.39 L636.76,151.45 L636.97,151.5 L637.18,151.55 L637.39,151.61 L637.59,151.65 L637.8,151.7 L638.01,151.74 L638.22,151.79 L638.42,151.83 L638.63,151.87 L638.84,151.91 L639.05,151.94 L639.25,151.98 L639.46,152.01 L639.67,152.04 L639.88,152.07 L640.08,152.1 L640.29,152.13 L640.5,152.16 L640.5,153.3 Z" fill="#f3949f" fill-opacity="0.9"/>
<path d="M607.5,153.3 L607.5,153.3 L607.71,153.3 L607.92,153.3 L608.12,153.3 L608.33,153.3 L608.54,153.3 L608.75,153.3 L608.95,153.3 L609.16,153.3 L609.37,153.3 L609.58,153.3 L609.78,153.3 L609.99,153.3 L610.2,153.3 L610.41,153.3 L610.61,153.3 L610.82,153.3 L611.03,153.29 L611.24,153.29 L611.44,153.29 L611.65,153.29 L611.86,153.29 L612.07,153.29 L612.27,153.28 L612.48,153.28 L612.69,153.28 L612.9,153.27 L613.1,153.27 L613.31,153.26 L613.52,153.25 L613.73,153.24 L613.93,153.23 L614.14,153.22 L614.35,153.21 L614.56,153.2 L614.76,153.18 L614.97,153.16 L615.18,153.14 L615.39,153.11 L615.59,153.08 L615.8,153.05 L616.01,153.02 L616.22,152.97 L616.42,152.93 L616.63,152.88 L616.84,152.82 L617.05,152.76 L617.25,152.69 L617.46,152.61 L617.67,152.52 L617.88,152.43 L618.08,152.33 L618.29,152.21 L618.5,152.09 L618.71,151.96 L618.92,151.81 L619.12,151.66 L619.33,151.49 L619.54,151.31 L619.75,151.12 L619.95,150.91 L620.16,150.69 L620.37,150.46 L620.58,150.22 L620.78,149.96 L620.99,149.69 L621.2,149.41 L621.41,149.11 L621.61,148.81 L621.82,148.49 L622.03,148.16 L622.24,147.83 L622.44,147.49 L622.65,147.14 L622.86,146.78 L623.07,146.43 L623.27,146.07 L623.48,145.71 L623.69,145.35 L623.9,145 L624.1,144.65 L624.31,144.3 L624.52,143.97 L624.73,143.65 L624.93,143.34 L625.14,143.05 L625.35,142.77 L625.56,142.52 L625.76,142.28 L625.97,142.07 L626.18,141.88 L626.39,141.71 L626.59,141.58 L626.8,141.46 L627.01,141.38 L627.22,141.33 L627.42,141.3 L627.63,141.31 L627.84,141.34 L628.05,141.4 L628.25,141.49 L628.46,141.61 L628.67,141.76 L628.88,141.93 L629.08,142.12 L629.29,142.34 L629.5,142.59 L629.71,142.85 L629.92,143.13 L630.12,143.43 L630.33,143.74 L630.54,144.06 L630.75,144.4 L630.95,144.74 L631.16,145.09 L631.37,145.45 L631.58,145.81 L631.78,146.17 L631.99,146.52 L632.2,146.88 L632.41,147.23 L632.61,147.58 L632.82,147.92 L633.03,148.25 L633.24,148.58 L633.44,148.89 L633.65,149.19 L633.86,149.49 L634.07,149.76 L634.27,150.03 L634.48,150.29 L634.69,150.53 L634.9,150.75 L635.1,150.97 L635.31,151.17 L635.52,151.36 L635.73,151.54 L635.93,151.7 L636.14,151.85 L636.35,152 L636.56,152.13 L636.76,152.25 L636.97,152.36 L637.18,152.46 L637.39,152.55 L637.59,152.63 L637.8,152.71 L638.01,152.78 L638.22,152.84 L638.42,152.89 L638.63,152.94 L638.84,152.99 L639.05,153.03 L639.25,153.06 L639.46,153.09 L639.67,153.12 L639.88,153.14 L640.08,153.17 L640.29,153.18 L640.5,153.2 L640.5,153.3 Z" fill="#6ea3ee" fill-opacity="0.88"/>
<path d="M592.6,153.39 L593.23,153.17 L593.86,153.53 L594.49,154.24 L595.11,153.15 L595.74,153.21 L596.37,153.49 L597,153.57 L597.62,153.36 L598.25,153.38 L598.88,153.72 L599.5,153.68 L600.12,153.16 L600.75,153.52 L601.38,153.59 L602,153.23 L602.67,153.62 L603.33,153.17 L604,153.74 L604.67,153.4 L605.33,153.3 L606,153.2 L607.5,152.02 L607.78,151.97 L608.05,151.92 L608.33,151.87 L608.61,151.82 L608.89,151.77 L609.16,151.71 L609.44,151.64 L609.72,151.58 L610,151.51 L610.27,151.43 L610.55,151.35 L610.83,151.27 L611.11,151.18 L611.38,151.08 L611.66,150.98 L611.94,150.86 L612.21,150.74 L612.49,150.61 L612.77,150.47 L613.05,150.32 L613.32,150.16 L613.6,149.98 L613.88,149.78 L614.16,149.57 L614.43,149.34 L614.71,149.08 L614.99,148.8 L615.26,148.48 L615.54,148.14 L615.82,147.75 L616.1,147.33 L616.37,146.85 L616.65,146.32 L616.93,145.72 L617.21,145.06 L617.48,144.3 L617.76,143.45 L618.04,142.49 L618.32,141.4 L618.59,140.16 L618.87,138.73 L619.15,137.1 L619.42,135.22 L619.7,133.06 L619.98,130.54 L620.26,127.62 L620.53,124.2 L620.81,120.22 L621.09,115.57 L621.37,110.18 L621.64,103.98 L621.92,96.98 L622.2,89.33 L622.47,81.39 L622.75,73.8 L623.03,67.46 L623.31,63.38 L623.58,62.28 L623.86,64.29 L624.14,68.91 L624.42,75.2 L624.69,82.2 L624.97,89.16 L625.25,95.62 L625.53,101.38 L625.8,106.38 L626.08,110.66 L626.36,114.31 L626.63,117.42 L626.91,120.09 L627.19,122.39 L627.47,124.39 L627.74,126.16 L628.02,127.74 L628.3,129.17 L628.58,130.48 L628.85,131.69 L629.13,132.83 L629.41,133.9 L629.68,134.92 L629.96,135.9 L630.24,136.85 L630.52,137.76 L630.79,138.65 L631.07,139.5 L631.35,140.33 L631.63,141.13 L631.9,141.9 L632.18,142.65 L632.46,143.36 L632.74,144.05 L633.01,144.7 L633.29,145.32 L633.57,145.91 L633.84,146.46 L634.12,146.98 L634.4,147.47 L634.68,147.92 L634.95,148.35 L635.23,148.74 L635.51,149.1 L635.79,149.43 L636.06,149.74 L636.34,150.01 L636.62,150.27 L636.89,150.5 L637.17,150.71 L637.45,150.89 L637.73,151.06 L638,151.22 L638.28,151.36 L638.56,151.48 L638.84,151.59 L639.11,151.69 L639.39,151.78 L639.67,151.86 L639.95,151.94 L640.22,152 L640.5,152.06 L640.5,150.3 L641.25,149.85 L642,149.19 L642.66,148.8 L643.32,147.58 L643.98,147.32 L644.64,147.29 L645.3,145.86 L646,147.47 L646.7,147.14 L647.4,148.59 L648.1,148.6 L648.72,149.59 L649.34,149.79 L649.96,149.62 L650.58,151.02 L651.2,151.5 L651.8,151.24 L652.4,151.42 L653,151.72 L653.6,151.7 L654.2,152.68 L654.88,152.23 L655.57,152.52 L656.25,152.37 L656.93,152.55 L657.62,152.44 L658.3,153.44 L658.97,152.9 L659.63,153.24 L660.3,152.85 L660.97,152.56 L661.63,152.64 L662.3,152.5 L663,152.14 L663.7,151.44 L664.4,151 L665.15,150.75 L665.9,150.5 L666.55,150.75 L667.2,151 L668.4,147.4 L669.4,145.3 L670.1,145.32 L670.8,145.92 L671.5,147.18 L672.1,146.37 L672.7,146.23 L673.3,146.72 L673.9,147.09 L674.5,146.09 L675.15,146.68 L675.8,146.68 L676.45,146.43 L677.1,147.2 L677.75,146.3 L678.4,145.4 L679.3,139.3 L679.8,120 L680.2,10" fill="none" stroke="#000" stroke-width="1.4" stroke-linejoin="round"/>
<path d="M681,10 L681.4,120 L682.2,135.2 L683.7,137.8" fill="none" stroke="#000" stroke-width="1.4" stroke-linejoin="round"/>
<path d="M607.5,153.3 L607.71,153.3 L607.92,153.3 L608.12,153.3 L608.33,153.3 L608.54,153.3 L608.75,153.3 L608.95,153.3 L609.16,153.3 L609.37,153.3 L609.58,153.3 L609.78,153.3 L609.99,153.3 L610.2,153.3 L610.41,153.3 L610.61,153.3 L610.82,153.3 L611.03,153.29 L611.24,153.29 L611.44,153.29 L611.65,153.29 L611.86,153.29 L612.07,153.29 L612.27,153.28 L612.48,153.28 L612.69,153.28 L612.9,153.27 L613.1,153.27 L613.31,153.26 L613.52,153.25 L613.73,153.24 L613.93,153.23 L614.14,153.22 L614.35,153.21 L614.56,153.2 L614.76,153.18 L614.97,153.16 L615.18,153.14 L615.39,153.11 L615.59,153.08 L615.8,153.05 L616.01,153.02 L616.22,152.97 L616.42,152.93 L616.63,152.88 L616.84,152.82 L617.05,152.76 L617.25,152.69 L617.46,152.61 L617.67,152.52 L617.88,152.43 L618.08,152.33 L618.29,152.21 L618.5,152.09 L618.71,151.96 L618.92,151.81 L619.12,151.66 L619.33,151.49 L619.54,151.31 L619.75,151.12 L619.95,150.91 L620.16,150.69 L620.37,150.46 L620.58,150.22 L620.78,149.96 L620.99,149.69 L621.2,149.41 L621.41,149.11 L621.61,148.81 L621.82,148.49 L622.03,148.16 L622.24,147.83 L622.44,147.49 L622.65,147.14 L622.86,146.78 L623.07,146.43 L623.27,146.07 L623.48,145.71 L623.69,145.35 L623.9,145 L624.1,144.65 L624.31,144.3 L624.52,143.97 L624.73,143.65 L624.93,143.34 L625.14,143.05 L625.35,142.77 L625.56,142.52 L625.76,142.28 L625.97,142.07 L626.18,141.88 L626.39,141.71 L626.59,141.58 L626.8,141.46 L627.01,141.38 L627.22,141.33 L627.42,141.3 L627.63,141.31 L627.84,141.34 L628.05,141.4 L628.25,141.49 L628.46,141.61 L628.67,141.76 L628.88,141.93 L629.08,142.12 L629.29,142.34 L629.5,142.59 L629.71,142.85 L629.92,143.13 L630.12,143.43 L630.33,143.74 L630.54,144.06 L630.75,144.4 L630.95,144.74 L631.16,145.09 L631.37,145.45 L631.58,145.81 L631.78,146.17 L631.99,146.52 L632.2,146.88 L632.41,147.23 L632.61,147.58 L632.82,147.92 L633.03,148.25 L633.24,148.58 L633.44,148.89 L633.65,149.19 L633.86,149.49 L634.07,149.76 L634.27,150.03 L634.48,150.29 L634.69,150.53 L634.9,150.75 L635.1,150.97 L635.31,151.17 L635.52,151.36 L635.73,151.54 L635.93,151.7 L636.14,151.85 L636.35,152 L636.56,152.13 L636.76,152.25 L636.97,152.36 L637.18,152.46 L637.39,152.55 L637.59,152.63 L637.8,152.71 L638.01,152.78 L638.22,152.84 L638.42,152.89 L638.63,152.94 L638.84,152.99 L639.05,153.03 L639.25,153.06 L639.46,153.09 L639.67,153.12 L639.88,153.14 L640.08,153.17 L640.29,153.18 L640.5,153.2" fill="none" stroke="#2f6fd8" stroke-width="1"/>
<line x1="607.5" y1="153.3" x2="640.5" y2="153.3" stroke="#2f6fd8" stroke-width="1.1"/>
<path d="M607.5,152.02 L607.71,151.98 L607.92,151.95 L608.12,151.91 L608.33,151.87 L608.54,151.84 L608.75,151.79 L608.95,151.75 L609.16,151.71 L609.37,151.66 L609.58,151.61 L609.78,151.56 L609.99,151.51 L610.2,151.45 L610.41,151.4 L610.61,151.33 L610.82,151.27 L611.03,151.2 L611.24,151.13 L611.44,151.06 L611.65,150.98 L611.86,150.9 L612.07,150.81 L612.27,150.72 L612.48,150.62 L612.69,150.52 L612.9,150.41 L613.1,150.29 L613.31,150.17 L613.52,150.03 L613.73,149.89 L613.93,149.74 L614.14,149.58 L614.35,149.41 L614.56,149.22 L614.76,149.03 L614.97,148.81 L615.18,148.58 L615.39,148.33 L615.59,148.07 L615.8,147.78 L616.01,147.47 L616.22,147.13 L616.42,146.76 L616.63,146.36 L616.84,145.92 L617.05,145.45 L617.25,144.93 L617.46,144.36 L617.67,143.74 L617.88,143.06 L618.08,142.32 L618.29,141.49 L618.5,140.59 L618.71,139.59 L618.92,138.48 L619.12,137.26 L619.33,135.89 L619.54,134.38 L619.75,132.68 L619.95,130.79 L620.16,128.68 L620.37,126.31 L620.58,123.64 L620.78,120.65 L620.99,117.29 L621.2,113.53 L621.41,109.33 L621.61,104.68 L621.82,99.57 L622.03,94.06 L622.24,88.24 L622.44,82.28 L622.65,76.47 L622.86,71.16 L623.07,66.78 L623.27,63.72 L623.48,62.32 L623.69,62.69 L623.9,64.75 L624.1,68.21 L624.31,72.69 L624.52,77.76 L624.73,83.04 L624.93,88.26 L625.14,93.22 L625.35,97.81 L625.56,101.98 L625.76,105.73 L625.97,109.07 L626.18,112.04 L626.39,114.67 L626.59,117 L626.8,119.08 L627.01,120.94 L627.22,122.6 L627.42,124.11 L627.63,125.48 L627.84,126.73 L628.05,127.88 L628.25,128.95 L628.46,129.96 L628.67,130.9 L628.88,131.79 L629.08,132.65 L629.29,133.46 L629.5,134.25 L629.71,135 L629.92,135.74 L630.12,136.46 L630.33,137.15 L630.54,137.83 L630.75,138.49 L630.95,139.14 L631.16,139.77 L631.37,140.39 L631.58,140.99 L631.78,141.57 L631.99,142.14 L632.2,142.69 L632.41,143.23 L632.61,143.75 L632.82,144.25 L633.03,144.73 L633.24,145.2 L633.44,145.65 L633.65,146.08 L633.86,146.49 L634.07,146.88 L634.27,147.25 L634.48,147.61 L634.69,147.94 L634.9,148.26 L635.1,148.56 L635.31,148.85 L635.52,149.11 L635.73,149.36 L635.93,149.6 L636.14,149.82 L636.35,150.02 L636.56,150.21 L636.76,150.39 L636.97,150.56 L637.18,150.71 L637.39,150.85 L637.59,150.99 L637.8,151.11 L638.01,151.22 L638.22,151.32 L638.42,151.42 L638.63,151.51 L638.84,151.59 L639.05,151.67 L639.25,151.74 L639.46,151.8 L639.67,151.86 L639.88,151.92 L640.08,151.97 L640.29,152.02 L640.5,152.06" fill="none" stroke="#a262e0" stroke-width="1.3"/>
</g>
<rect x="500.5" y="19.5" width="183.1" height="145.2" fill="none" stroke="#555" stroke-width="1"/>
<line x1="500.5" y1="19.5" x2="683.6" y2="19.5" stroke="#8c8c88" stroke-width="1"/>
<line x1="592.6" y1="19.5" x2="592.6" y2="164.7" stroke="#333" stroke-width="1"/>
<line x1="523.52" y1="164.7" x2="523.52" y2="162.2" stroke="#333" stroke-width="0.9"/>
<line x1="546.55" y1="164.7" x2="546.55" y2="162.2" stroke="#333" stroke-width="0.9"/>
<line x1="569.58" y1="164.7" x2="569.58" y2="162.2" stroke="#333" stroke-width="0.9"/>
<line x1="615.62" y1="164.7" x2="615.62" y2="162.2" stroke="#333" stroke-width="0.9"/>
<line x1="638.65" y1="164.7" x2="638.65" y2="162.2" stroke="#333" stroke-width="0.9"/>
<line x1="661.68" y1="164.7" x2="661.68" y2="162.2" stroke="#333" stroke-width="0.9"/>
<text transform="translate(523.5 177.2) scale(1 1.07)" font-size="11.5" text-anchor="middle" fill="#1a1a1a">550</text>
<text transform="translate(569.6 177.2) scale(1 1.07)" font-size="11.5" text-anchor="middle" fill="#1a1a1a">650</text>
<text transform="translate(615.5 177.2) scale(1 1.07)" font-size="11.5" text-anchor="middle" fill="#1a1a1a">550</text>
<text transform="translate(661.6 177.2) scale(1 1.07)" font-size="11.5" text-anchor="middle" fill="#1a1a1a">650</text>
<text x="596" y="191" font-size="12" text-anchor="middle" font-weight="normal" fill="#1a1a1a" >Wavelength (nm)</text>
<text transform="translate(494 86.2) rotate(-90)" font-size="12.4" text-anchor="middle" fill="#1a1a1a">Intensity (arb. units)</text>
<text x="550" y="37.6" font-size="11" text-anchor="middle" font-weight="normal" fill="#1a1a1a" >Homoepitaxial</text>
<text x="637" y="36.6" font-size="11" text-anchor="middle" font-weight="normal" fill="#1a1a1a" >Heteroepitaxial</text>
<text x="532.3" y="81.7" font-size="9.3" text-anchor="start" font-weight="normal" fill="#e8353c" >ZPL</text>
<text x="535.1" y="137.3" font-size="9.2" text-anchor="start" font-weight="normal" fill="#3a7de0" >PSB</text>
<text x="625.8" y="79.4" font-size="9.6" text-anchor="start" font-weight="normal" fill="#e8353c" >ZPL</text>
<text x="630.6" y="140.1" font-size="9.2" text-anchor="start" font-weight="normal" fill="#3a7de0" >PSB</text>
<text x="519.8" y="91.5" font-size="6.5" text-anchor="start" font-weight="normal" fill="#333" >#</text>
<text x="523" y="130.5" font-size="6.5" text-anchor="start" font-weight="normal" fill="#333" >#</text>
<text x="613.3" y="144.5" font-size="6.5" text-anchor="start" font-weight="normal" fill="#333" >#</text>
<text x="674.6" y="48.6" font-size="9.5" text-anchor="start" font-weight="bold" fill="#222" >*</text>
<rect x="29.6" y="212.5" width="179.8" height="150.4" fill="url(#bg11)"/>
<clipPath id="cl11"><rect x="29.6" y="212.5" width="179.8" height="150.4"/></clipPath><g clip-path="url(#cl11)">
<g fill="none" stroke="#4f8ae6" stroke-width="0.72"><circle cx="28.07" cy="295.67" r="2.5"/><circle cx="28.39" cy="283.65" r="2.5"/><circle cx="29.53" cy="298.85" r="2.5"/><circle cx="29.65" cy="290.07" r="2.5"/><circle cx="30.55" cy="288.22" r="2.5"/><circle cx="31.09" cy="279.91" r="2.5"/><circle cx="31.55" cy="288.73" r="2.5"/><circle cx="32.46" cy="299.28" r="2.5"/><circle cx="32.89" cy="287.13" r="2.5"/><circle cx="33.51" cy="296.86" r="2.5"/><circle cx="33.91" cy="303.98" r="2.5"/><circle cx="34.68" cy="291.2" r="2.5"/><circle cx="35.34" cy="314.35" r="2.5"/><circle cx="36.07" cy="299.7" r="2.5"/><circle cx="36.27" cy="309.9" r="2.5"/><circle cx="36.96" cy="285.84" r="2.5"/><circle cx="37.93" cy="302.22" r="2.5"/><circle cx="38.09" cy="287.48" r="2.5"/><circle cx="38.72" cy="289.13" r="2.5"/><circle cx="39.33" cy="296.59" r="2.5"/><circle cx="39.92" cy="290.94" r="2.5"/><circle cx="40.68" cy="283.32" r="2.5"/><circle cx="41.42" cy="300.9" r="2.5"/><circle cx="41.62" cy="311.57" r="2.5"/><circle cx="42.81" cy="288.79" r="2.5"/><circle cx="43.22" cy="280.1" r="2.5"/><circle cx="43.43" cy="287.62" r="2.5"/><circle cx="44.37" cy="284.24" r="2.5"/><circle cx="44.8" cy="287.58" r="2.5"/><circle cx="45.32" cy="311.39" r="2.5"/><circle cx="46.32" cy="296.07" r="2.5"/><circle cx="46.49" cy="297.88" r="2.5"/><circle cx="47.06" cy="289.94" r="2.5"/><circle cx="48.16" cy="287.28" r="2.5"/><circle cx="48.71" cy="288.26" r="2.5"/><circle cx="48.88" cy="282.21" r="2.5"/><circle cx="49.6" cy="294.8" r="2.5"/><circle cx="50.32" cy="280.28" r="2.5"/><circle cx="50.76" cy="308.62" r="2.5"/><circle cx="51.39" cy="288.07" r="2.5"/><circle cx="52.4" cy="302.74" r="2.5"/><circle cx="52.7" cy="305.2" r="2.5"/><circle cx="53.48" cy="279.38" r="2.5"/><circle cx="53.68" cy="295.38" r="2.5"/><circle cx="54.39" cy="289.8" r="2.5"/><circle cx="55.28" cy="271.85" r="2.5"/><circle cx="55.84" cy="297.82" r="2.5"/><circle cx="56.51" cy="276.11" r="2.5"/><circle cx="56.73" cy="299.34" r="2.5"/><circle cx="57.33" cy="291.92" r="2.5"/><circle cx="58.32" cy="299.02" r="2.5"/><circle cx="58.9" cy="288.46" r="2.5"/><circle cx="59.27" cy="293.67" r="2.5"/><circle cx="60.25" cy="296.22" r="2.5"/><circle cx="60.4" cy="293.15" r="2.5"/><circle cx="60.89" cy="277.75" r="2.5"/><circle cx="61.84" cy="269.88" r="2.5"/><circle cx="62.36" cy="295.55" r="2.5"/><circle cx="63.03" cy="277.53" r="2.5"/><circle cx="63.28" cy="298.95" r="2.5"/><circle cx="64.2" cy="284.62" r="2.5"/><circle cx="64.66" cy="293.21" r="2.5"/><circle cx="65.28" cy="288.46" r="2.5"/><circle cx="65.86" cy="290.05" r="2.5"/><circle cx="66.82" cy="294.38" r="2.5"/><circle cx="66.92" cy="311.51" r="2.5"/><circle cx="68.05" cy="281.95" r="2.5"/><circle cx="68.49" cy="284.01" r="2.5"/><circle cx="69.16" cy="276.44" r="2.5"/><circle cx="69.36" cy="279.39" r="2.5"/><circle cx="69.91" cy="296.49" r="2.5"/><circle cx="70.91" cy="294.26" r="2.5"/><circle cx="71.54" cy="294.74" r="2.5"/><circle cx="72.16" cy="286.61" r="2.5"/><circle cx="72.37" cy="308.32" r="2.5"/><circle cx="73.18" cy="286.64" r="2.5"/><circle cx="73.85" cy="282.98" r="2.5"/><circle cx="74.23" cy="295.92" r="2.5"/><circle cx="74.9" cy="280.95" r="2.5"/><circle cx="75.46" cy="267.05" r="2.5"/><circle cx="76.14" cy="284.43" r="2.5"/><circle cx="76.9" cy="282.56" r="2.5"/><circle cx="77.25" cy="286.02" r="2.5"/><circle cx="77.75" cy="303" r="2.5"/><circle cx="78.63" cy="276.4" r="2.5"/><circle cx="78.99" cy="286.41" r="2.5"/><circle cx="79.97" cy="281.34" r="2.5"/><circle cx="80.64" cy="284.32" r="2.5"/><circle cx="80.88" cy="286.36" r="2.5"/><circle cx="81.51" cy="288.81" r="2.5"/><circle cx="82.43" cy="283.14" r="2.5"/><circle cx="82.96" cy="281.07" r="2.5"/><circle cx="83.58" cy="277.87" r="2.5"/><circle cx="84.05" cy="294.02" r="2.5"/><circle cx="84.65" cy="292.17" r="2.5"/><circle cx="85.34" cy="292.15" r="2.5"/><circle cx="85.81" cy="294.74" r="2.5"/><circle cx="86.18" cy="285.68" r="2.5"/><circle cx="86.94" cy="285.92" r="2.5"/><circle cx="87.69" cy="267.91" r="2.5"/><circle cx="88.18" cy="280.94" r="2.5"/><circle cx="88.61" cy="300.17" r="2.5"/><circle cx="89.37" cy="275.49" r="2.5"/><circle cx="90.03" cy="282.75" r="2.5"/><circle cx="90.64" cy="284.44" r="2.5"/><circle cx="90.94" cy="281.75" r="2.5"/><circle cx="91.81" cy="278.68" r="2.5"/><circle cx="92.16" cy="276.96" r="2.5"/><circle cx="93.06" cy="295.74" r="2.5"/><circle cx="93.59" cy="267.72" r="2.5"/><circle cx="94.37" cy="289.78" r="2.5"/><circle cx="94.71" cy="289.08" r="2.5"/><circle cx="95.66" cy="283.56" r="2.5"/><circle cx="96" cy="282.47" r="2.5"/><circle cx="96.79" cy="291.34" r="2.5"/><circle cx="96.99" cy="299.53" r="2.5"/><circle cx="97.76" cy="276.01" r="2.5"/><circle cx="98.19" cy="284.55" r="2.5"/><circle cx="98.88" cy="286.97" r="2.5"/><circle cx="99.79" cy="282.88" r="2.5"/><circle cx="99.97" cy="288.77" r="2.5"/><circle cx="100.82" cy="278.84" r="2.5"/><circle cx="101.69" cy="299.57" r="2.5"/><circle cx="102" cy="287.07" r="2.5"/><circle cx="102.58" cy="275.31" r="2.5"/><circle cx="103.3" cy="289.71" r="2.5"/><circle cx="103.96" cy="276.47" r="2.5"/><circle cx="104.71" cy="275.85" r="2.5"/><circle cx="104.83" cy="279.48" r="2.5"/><circle cx="105.89" cy="279.46" r="2.5"/><circle cx="106.32" cy="309" r="2.5"/><circle cx="106.79" cy="283" r="2.5"/><circle cx="107.35" cy="286.36" r="2.5"/><circle cx="107.97" cy="275.67" r="2.5"/><circle cx="108.67" cy="287.36" r="2.5"/><circle cx="109.56" cy="305.79" r="2.5"/><circle cx="109.87" cy="291.91" r="2.5"/><circle cx="110.74" cy="291.14" r="2.5"/><circle cx="110.98" cy="318.25" r="2.5"/><circle cx="111.74" cy="299.89" r="2.5"/><circle cx="112.06" cy="302.85" r="2.5"/><circle cx="112.82" cy="303.82" r="2.5"/><circle cx="113.5" cy="302.81" r="2.5"/><circle cx="114.33" cy="315.83" r="2.5"/><circle cx="114.87" cy="326.66" r="2.5"/><circle cx="115.3" cy="315.99" r="2.5"/><circle cx="115.62" cy="323.09" r="2.5"/><circle cx="116.21" cy="322.19" r="2.5"/><circle cx="117.06" cy="316.27" r="2.5"/><circle cx="117.49" cy="337.06" r="2.5"/><circle cx="118.32" cy="327.21" r="2.5"/><circle cx="119.07" cy="328.88" r="2.5"/><circle cx="119.22" cy="350.75" r="2.5"/><circle cx="119.84" cy="330.8" r="2.5"/><circle cx="120.74" cy="319.83" r="2.5"/><circle cx="121.11" cy="296.58" r="2.5"/><circle cx="121.84" cy="335.77" r="2.5"/><circle cx="122.24" cy="330.26" r="2.5"/><circle cx="123.38" cy="288.52" r="2.5"/><circle cx="123.8" cy="339.78" r="2.5"/><circle cx="124.14" cy="325.66" r="2.5"/><circle cx="125.06" cy="318.41" r="2.5"/><circle cx="125.71" cy="309.18" r="2.5"/><circle cx="125.89" cy="305.39" r="2.5"/><circle cx="126.54" cy="301.89" r="2.5"/><circle cx="127.43" cy="298.4" r="2.5"/><circle cx="127.93" cy="286.36" r="2.5"/><circle cx="128.26" cy="297.96" r="2.5"/><circle cx="128.85" cy="301.08" r="2.5"/><circle cx="129.84" cy="321.84" r="2.5"/><circle cx="130.2" cy="286.72" r="2.5"/><circle cx="130.79" cy="280.66" r="2.5"/><circle cx="131.38" cy="286.33" r="2.5"/><circle cx="132.32" cy="291.43" r="2.5"/><circle cx="133.02" cy="272.1" r="2.5"/><circle cx="133.22" cy="273.22" r="2.5"/><circle cx="133.82" cy="308.95" r="2.5"/><circle cx="134.3" cy="286.09" r="2.5"/><circle cx="134.85" cy="287.17" r="2.5"/><circle cx="135.99" cy="300.58" r="2.5"/><circle cx="136.2" cy="289.68" r="2.5"/><circle cx="137.17" cy="280.35" r="2.5"/><circle cx="137.47" cy="281.57" r="2.5"/><circle cx="138.32" cy="276.97" r="2.5"/><circle cx="138.56" cy="289.96" r="2.5"/><circle cx="139.5" cy="266.88" r="2.5"/><circle cx="140.19" cy="274.37" r="2.5"/><circle cx="140.51" cy="289.96" r="2.5"/><circle cx="141.39" cy="283.09" r="2.5"/><circle cx="141.8" cy="278.14" r="2.5"/><circle cx="142.29" cy="290.31" r="2.5"/><circle cx="143" cy="268.33" r="2.5"/><circle cx="143.69" cy="280.05" r="2.5"/><circle cx="144.37" cy="280.2" r="2.5"/><circle cx="144.69" cy="280.95" r="2.5"/><circle cx="145.3" cy="281.15" r="2.5"/><circle cx="145.72" cy="281.06" r="2.5"/><circle cx="146.58" cy="279.46" r="2.5"/><circle cx="147.4" cy="293.16" r="2.5"/><circle cx="147.84" cy="287.41" r="2.5"/><circle cx="148.16" cy="285.68" r="2.5"/><circle cx="149.01" cy="270.76" r="2.5"/><circle cx="149.39" cy="272.75" r="2.5"/><circle cx="150.07" cy="286.72" r="2.5"/><circle cx="150.84" cy="288.55" r="2.5"/><circle cx="151.27" cy="284.75" r="2.5"/><circle cx="151.9" cy="286.39" r="2.5"/><circle cx="152.56" cy="284.46" r="2.5"/><circle cx="153.04" cy="298.94" r="2.5"/><circle cx="154.06" cy="287.17" r="2.5"/><circle cx="154.61" cy="279.01" r="2.5"/><circle cx="155.28" cy="301.51" r="2.5"/><circle cx="155.85" cy="293.68" r="2.5"/><circle cx="156.23" cy="288.7" r="2.5"/><circle cx="156.93" cy="274" r="2.5"/><circle cx="157.48" cy="294.7" r="2.5"/><circle cx="157.71" cy="302.51" r="2.5"/><circle cx="158.58" cy="278.02" r="2.5"/><circle cx="159.06" cy="291.92" r="2.5"/><circle cx="160.09" cy="277.15" r="2.5"/><circle cx="160.68" cy="292.39" r="2.5"/><circle cx="160.8" cy="283.4" r="2.5"/><circle cx="161.52" cy="291.16" r="2.5"/><circle cx="162" cy="271.22" r="2.5"/><circle cx="163.07" cy="290.22" r="2.5"/><circle cx="163.49" cy="307.36" r="2.5"/><circle cx="164.16" cy="299.18" r="2.5"/><circle cx="164.54" cy="281.43" r="2.5"/><circle cx="164.97" cy="290.73" r="2.5"/><circle cx="165.65" cy="281.75" r="2.5"/><circle cx="166.31" cy="296.33" r="2.5"/><circle cx="166.92" cy="281.88" r="2.5"/><circle cx="167.82" cy="279.86" r="2.5"/><circle cx="167.92" cy="287.08" r="2.5"/><circle cx="169.04" cy="281.58" r="2.5"/><circle cx="169.56" cy="288.66" r="2.5"/><circle cx="169.86" cy="302.18" r="2.5"/><circle cx="170.47" cy="294.02" r="2.5"/><circle cx="171.34" cy="291" r="2.5"/><circle cx="171.68" cy="286.85" r="2.5"/><circle cx="172.16" cy="279.62" r="2.5"/><circle cx="173.32" cy="286.7" r="2.5"/><circle cx="173.68" cy="293.62" r="2.5"/><circle cx="174.48" cy="288.33" r="2.5"/><circle cx="175.13" cy="303.16" r="2.5"/><circle cx="175.23" cy="283.36" r="2.5"/><circle cx="176.1" cy="288.38" r="2.5"/><circle cx="176.75" cy="301.11" r="2.5"/><circle cx="177.33" cy="287.48" r="2.5"/><circle cx="177.95" cy="298.61" r="2.5"/><circle cx="178.45" cy="283.37" r="2.5"/><circle cx="178.83" cy="280.92" r="2.5"/><circle cx="179.61" cy="292.58" r="2.5"/><circle cx="180.14" cy="291.89" r="2.5"/><circle cx="180.98" cy="304.22" r="2.5"/><circle cx="181.74" cy="299.59" r="2.5"/><circle cx="181.82" cy="308.88" r="2.5"/><circle cx="182.93" cy="285.93" r="2.5"/><circle cx="183.14" cy="281.31" r="2.5"/><circle cx="183.83" cy="307.78" r="2.5"/><circle cx="184.44" cy="296.89" r="2.5"/><circle cx="184.93" cy="281.08" r="2.5"/><circle cx="185.54" cy="292.69" r="2.5"/><circle cx="186.18" cy="302.09" r="2.5"/><circle cx="186.66" cy="301.48" r="2.5"/><circle cx="187.73" cy="289.3" r="2.5"/><circle cx="188.28" cy="282.01" r="2.5"/><circle cx="188.91" cy="298.54" r="2.5"/><circle cx="189.08" cy="306.55" r="2.5"/><circle cx="190.17" cy="282.93" r="2.5"/><circle cx="190.63" cy="282.4" r="2.5"/><circle cx="191.37" cy="295.42" r="2.5"/><circle cx="191.47" cy="297.12" r="2.5"/><circle cx="192.22" cy="280.17" r="2.5"/><circle cx="192.88" cy="299.69" r="2.5"/><circle cx="193.2" cy="287.65" r="2.5"/><circle cx="194.14" cy="292.18" r="2.5"/><circle cx="194.95" cy="309.88" r="2.5"/><circle cx="195.43" cy="292.28" r="2.5"/><circle cx="195.64" cy="307.47" r="2.5"/><circle cx="196.65" cy="303.3" r="2.5"/><circle cx="197.27" cy="304.44" r="2.5"/><circle cx="197.4" cy="277.24" r="2.5"/><circle cx="198.26" cy="281.56" r="2.5"/><circle cx="198.75" cy="305.67" r="2.5"/><circle cx="199.41" cy="304.37" r="2.5"/><circle cx="199.9" cy="306.17" r="2.5"/><circle cx="200.77" cy="288.88" r="2.5"/><circle cx="201.07" cy="286.89" r="2.5"/><circle cx="201.72" cy="302.78" r="2.5"/><circle cx="202.3" cy="312.97" r="2.5"/><circle cx="202.93" cy="311.68" r="2.5"/><circle cx="203.7" cy="313.03" r="2.5"/><circle cx="204.23" cy="291.19" r="2.5"/><circle cx="204.67" cy="301.22" r="2.5"/><circle cx="205.32" cy="294.21" r="2.5"/><circle cx="206.34" cy="289.23" r="2.5"/><circle cx="206.54" cy="307.87" r="2.5"/><circle cx="207.06" cy="292.09" r="2.5"/><circle cx="207.84" cy="279.43" r="2.5"/><circle cx="208.27" cy="305.27" r="2.5"/><circle cx="209.23" cy="295.22" r="2.5"/><circle cx="209.74" cy="280.78" r="2.5"/><circle cx="210.09" cy="292.69" r="2.5"/><circle cx="210.97" cy="283.08" r="2.5"/></g>
<path d="M27.27,301.13 L28.36,300.99 L29.45,300.86 L30.54,300.72 L31.64,300.58 L32.73,300.44 L33.82,300.3 L34.91,300.15 L36,300.01 L37.09,299.86 L38.18,299.71 L39.27,299.56 L40.37,299.41 L41.46,299.26 L42.55,299.1 L43.64,298.94 L44.73,298.78 L45.82,298.62 L46.91,298.46 L48.01,298.29 L49.1,298.13 L50.19,297.96 L51.28,297.79 L52.37,297.62 L53.46,297.44 L54.55,297.26 L55.64,297.09 L56.74,296.91 L57.83,296.72 L58.92,296.54 L60.01,296.35 L61.1,296.16 L62.19,295.97 L63.28,295.78 L64.38,295.58 L65.47,295.38 L66.56,295.18 L67.65,294.98 L68.74,294.77 L69.83,294.57 L70.92,294.36 L72.01,294.14 L73.11,293.93 L74.2,293.71 L75.29,293.49 L76.38,293.27 L77.47,293.05 L78.56,292.82 L79.65,292.59 L80.75,292.36 L81.84,292.13 L82.93,291.9 L84.02,291.66 L85.11,291.43 L86.2,291.19 L87.29,290.96 L88.38,290.73 L89.48,290.5 L90.57,290.28 L91.66,290.07 L92.75,289.87 L93.84,289.69 L94.93,289.53 L96.02,289.41 L97.12,289.33 L98.21,289.31 L99.3,289.36 L100.39,289.51 L101.48,289.77 L102.57,290.19 L103.66,290.79 L104.75,291.63 L105.85,292.75 L106.94,294.21 L108.03,296.09 L109.12,298.46 L110.21,301.39 L111.3,304.96 L112.39,309.26 L113.48,314.32 L113.48,314.32 L113.59,314.83 L113.69,315.34 L113.79,315.86 L113.89,316.38 L113.99,316.92 L114.09,317.46 L114.19,318 L114.29,318.55 L114.39,319.11 L114.49,319.68 L114.59,320.25 L114.69,320.83 L114.79,321.41 L114.89,322 L114.99,322.6 L115.09,323.2 L115.19,323.81 L115.29,324.43 L115.39,325.05 L115.49,325.67 L115.59,326.31 L115.69,326.94 L115.79,327.58 L115.89,328.23 L115.99,328.88 L116.09,329.54 L116.19,330.2 L116.29,330.87 L116.39,331.54 L116.49,332.21 L116.59,332.88 L116.69,333.56 L116.79,334.24 L116.89,334.93 L116.99,335.61 L117.09,336.3 L117.19,336.99 L117.29,337.68 L117.39,338.37 L117.5,339.05 L117.6,339.74 L117.7,340.43 L117.8,341.11 L117.9,341.79 L118,342.46 L118.1,343.13 L118.2,343.79 L118.3,344.45 L118.4,345.09 L118.5,345.73 L118.6,346.35 L118.7,346.96 L118.8,347.55 L118.9,348.12 L119,348.67 L119.1,349.19 L119.2,349.68 L119.3,350.12 L119.4,350.5 L119.5,350.75 L119.6,350.5 L119.7,350.12 L119.8,349.68 L119.9,349.19 L120,348.67 L120.1,348.12 L120.2,347.55 L120.3,346.96 L120.4,346.35 L120.5,345.73 L120.6,345.09 L120.7,344.45 L120.8,343.79 L120.9,343.13 L121,342.46 L121.1,341.79 L121.2,341.11 L121.3,340.43 L121.4,339.74 L121.5,339.05 L121.61,338.37 L121.71,337.68 L121.81,336.99 L121.91,336.3 L122.01,335.61 L122.11,334.93 L122.21,334.24 L122.31,333.56 L122.41,332.88 L122.51,332.21 L122.61,331.54 L122.71,330.87 L122.81,330.2 L122.91,329.54 L123.01,328.88 L123.11,328.23 L123.21,327.58 L123.31,326.94 L123.41,326.31 L123.51,325.67 L123.61,325.05 L123.71,324.43 L123.81,323.81 L123.91,323.2 L124.01,322.6 L124.11,322 L124.21,321.41 L124.31,320.83 L124.41,320.25 L124.51,319.68 L124.61,319.11 L124.71,318.55 L124.81,318 L124.91,317.46 L125.01,316.92 L125.11,316.38 L125.21,315.86 L125.31,315.34 L125.41,314.83 L125.52,314.32 L125.52,314.32 L126.61,309.26 L127.7,304.96 L128.79,301.39 L129.88,298.46 L130.97,296.09 L132.06,294.21 L133.15,292.75 L134.25,291.63 L135.34,290.79 L136.43,290.19 L137.52,289.77 L138.61,289.51 L139.7,289.36 L140.79,289.31 L141.88,289.33 L142.98,289.41 L144.07,289.53 L145.16,289.69 L146.25,289.87 L147.34,290.07 L148.43,290.28 L149.52,290.5 L150.62,290.73 L151.71,290.96 L152.8,291.19 L153.89,291.43 L154.98,291.66 L156.07,291.9 L157.16,292.13 L158.25,292.36 L159.35,292.59 L160.44,292.82 L161.53,293.05 L162.62,293.27 L163.71,293.49 L164.8,293.71 L165.89,293.93 L166.99,294.14 L168.08,294.36 L169.17,294.57 L170.26,294.77 L171.35,294.98 L172.44,295.18 L173.53,295.38 L174.62,295.58 L175.72,295.78 L176.81,295.97 L177.9,296.16 L178.99,296.35 L180.08,296.54 L181.17,296.72 L182.26,296.91 L183.36,297.09 L184.45,297.26 L185.54,297.44 L186.63,297.62 L187.72,297.79 L188.81,297.96 L189.9,298.13 L190.99,298.29 L192.09,298.46 L193.18,298.62 L194.27,298.78 L195.36,298.94 L196.45,299.1 L197.54,299.26 L198.63,299.41 L199.73,299.56 L200.82,299.71 L201.91,299.86 L203,300.01 L204.09,300.15 L205.18,300.3 L206.27,300.44 L207.36,300.58 L208.46,300.72 L209.55,300.86 L210.64,300.99 L211.73,301.13" fill="none" stroke="#ec1c24" stroke-width="1.3" stroke-linejoin="round"/>
</g>
<rect x="29.6" y="212.5" width="179.8" height="150.4" fill="none" stroke="#505050" stroke-width="1"/>
<line x1="209.4" y1="213" x2="209.4" y2="362.4" stroke="#7a7a7a" stroke-width="1"/>
<line x1="39.3" y1="362.9" x2="39.3" y2="359.9" stroke="#333" stroke-width="0.9"/>
<line x1="59.35" y1="362.9" x2="59.35" y2="361.1" stroke="#333" stroke-width="0.9"/>
<line x1="79.4" y1="362.9" x2="79.4" y2="359.9" stroke="#333" stroke-width="0.9"/>
<line x1="99.45" y1="362.9" x2="99.45" y2="361.1" stroke="#333" stroke-width="0.9"/>
<line x1="119.5" y1="362.9" x2="119.5" y2="359.9" stroke="#333" stroke-width="0.9"/>
<line x1="139.55" y1="362.9" x2="139.55" y2="361.1" stroke="#333" stroke-width="0.9"/>
<line x1="159.6" y1="362.9" x2="159.6" y2="359.9" stroke="#333" stroke-width="0.9"/>
<line x1="179.65" y1="362.9" x2="179.65" y2="361.1" stroke="#333" stroke-width="0.9"/>
<line x1="199.7" y1="362.9" x2="199.7" y2="359.9" stroke="#333" stroke-width="0.9"/>
<text transform="translate(37.3 377.2) scale(1 1.07)" font-size="11.5" text-anchor="middle" fill="#1a1a1a">-40</text>
<text transform="translate(77.4 377.2) scale(1 1.07)" font-size="11.5" text-anchor="middle" fill="#1a1a1a">-20</text>
<text transform="translate(119.5 377.2) scale(1 1.07)" font-size="11.5" text-anchor="middle" fill="#1a1a1a">0</text>
<text transform="translate(159.6 377.2) scale(1 1.07)" font-size="11.5" text-anchor="middle" fill="#1a1a1a">20</text>
<text transform="translate(199.7 377.2) scale(1 1.07)" font-size="11.5" text-anchor="middle" fill="#1a1a1a">40</text>
<line x1="29.6" y1="362.9" x2="32.6" y2="362.9" stroke="#333" stroke-width="0.9"/>
<text transform="translate(26.3 366.9) scale(1 1.07)" font-size="11.5" text-anchor="end" fill="#1a1a1a">0</text>
<line x1="29.6" y1="337.81" x2="31.4" y2="337.81" stroke="#333" stroke-width="0.9"/>
<line x1="29.6" y1="312.73" x2="32.6" y2="312.73" stroke="#333" stroke-width="0.9"/>
<text transform="translate(26.3 316.73) scale(1 1.07)" font-size="11.5" text-anchor="end" fill="#1a1a1a">1</text>
<line x1="29.6" y1="287.64" x2="31.4" y2="287.64" stroke="#333" stroke-width="0.9"/>
<line x1="29.6" y1="262.56" x2="32.6" y2="262.56" stroke="#333" stroke-width="0.9"/>
<text transform="translate(26.3 266.56) scale(1 1.07)" font-size="11.5" text-anchor="end" fill="#1a1a1a">2</text>
<line x1="29.6" y1="237.47" x2="31.4" y2="237.47" stroke="#333" stroke-width="0.9"/>
<line x1="29.6" y1="212.39" x2="32.6" y2="212.39" stroke="#333" stroke-width="0.9"/>
<text transform="translate(26.3 216.39) scale(1 1.07)" font-size="11.5" text-anchor="end" fill="#1a1a1a">3</text>
<rect x="271.5" y="212.5" width="179.5" height="150.3" fill="url(#bg12)"/>
<clipPath id="cl12"><rect x="271.5" y="212.5" width="179.5" height="150.3"/></clipPath><g clip-path="url(#cl12)">
<g fill="none" stroke="#52b37e" stroke-width="0.72"><circle cx="270.3" cy="300.72" r="2.5"/><circle cx="270.39" cy="293.36" r="2.5"/><circle cx="270.98" cy="284.75" r="2.5"/><circle cx="271.47" cy="306.43" r="2.5"/><circle cx="272.48" cy="301.29" r="2.5"/><circle cx="272.85" cy="300.35" r="2.5"/><circle cx="273.23" cy="318.56" r="2.5"/><circle cx="273.91" cy="308.72" r="2.5"/><circle cx="274.75" cy="291.21" r="2.5"/><circle cx="274.87" cy="300.26" r="2.5"/><circle cx="275.88" cy="293.21" r="2.5"/><circle cx="276.4" cy="304.3" r="2.5"/><circle cx="276.99" cy="305.23" r="2.5"/><circle cx="277.51" cy="301.99" r="2.5"/><circle cx="277.68" cy="291.7" r="2.5"/><circle cx="278.5" cy="291.03" r="2.5"/><circle cx="278.79" cy="304.19" r="2.5"/><circle cx="279.68" cy="300.18" r="2.5"/><circle cx="280.35" cy="296.8" r="2.5"/><circle cx="280.7" cy="297.63" r="2.5"/><circle cx="281.09" cy="294.45" r="2.5"/><circle cx="281.93" cy="289.04" r="2.5"/><circle cx="282.45" cy="292.4" r="2.5"/><circle cx="283" cy="301.83" r="2.5"/><circle cx="283.47" cy="301.28" r="2.5"/><circle cx="283.86" cy="301.47" r="2.5"/><circle cx="284.82" cy="288.15" r="2.5"/><circle cx="285.1" cy="285.58" r="2.5"/><circle cx="285.81" cy="286.93" r="2.5"/><circle cx="285.98" cy="286.62" r="2.5"/><circle cx="286.79" cy="295.32" r="2.5"/><circle cx="287.46" cy="291.14" r="2.5"/><circle cx="287.87" cy="311.92" r="2.5"/><circle cx="288.71" cy="293.1" r="2.5"/><circle cx="288.78" cy="311.48" r="2.5"/><circle cx="289.74" cy="299.5" r="2.5"/><circle cx="290.41" cy="296.77" r="2.5"/><circle cx="290.93" cy="284.23" r="2.5"/><circle cx="291" cy="290.06" r="2.5"/><circle cx="291.63" cy="307.27" r="2.5"/><circle cx="292.48" cy="289.27" r="2.5"/><circle cx="293.05" cy="289.82" r="2.5"/><circle cx="293.71" cy="287.56" r="2.5"/><circle cx="294.22" cy="302.39" r="2.5"/><circle cx="294.58" cy="289.32" r="2.5"/><circle cx="295.43" cy="283.58" r="2.5"/><circle cx="295.74" cy="297.06" r="2.5"/><circle cx="296.05" cy="287.37" r="2.5"/><circle cx="297.07" cy="284.88" r="2.5"/><circle cx="297.58" cy="301.8" r="2.5"/><circle cx="297.98" cy="315.37" r="2.5"/><circle cx="298.39" cy="292.24" r="2.5"/><circle cx="298.89" cy="297.02" r="2.5"/><circle cx="299.38" cy="293.2" r="2.5"/><circle cx="300.43" cy="293.74" r="2.5"/><circle cx="300.88" cy="288.11" r="2.5"/><circle cx="301.42" cy="296.49" r="2.5"/><circle cx="301.86" cy="308.29" r="2.5"/><circle cx="302.27" cy="286.42" r="2.5"/><circle cx="302.8" cy="293.21" r="2.5"/><circle cx="303.8" cy="283.87" r="2.5"/><circle cx="303.92" cy="300.7" r="2.5"/><circle cx="304.37" cy="287.75" r="2.5"/><circle cx="305.34" cy="266.58" r="2.5"/><circle cx="305.48" cy="296.87" r="2.5"/><circle cx="306.33" cy="307.7" r="2.5"/><circle cx="306.9" cy="275.42" r="2.5"/><circle cx="307.2" cy="297.08" r="2.5"/><circle cx="307.85" cy="285.36" r="2.5"/><circle cx="308.52" cy="288.31" r="2.5"/><circle cx="309" cy="287.64" r="2.5"/><circle cx="309.67" cy="297.01" r="2.5"/><circle cx="310.01" cy="310.72" r="2.5"/><circle cx="311.03" cy="292.95" r="2.5"/><circle cx="311.53" cy="301.1" r="2.5"/><circle cx="311.87" cy="279.36" r="2.5"/><circle cx="312.37" cy="287.22" r="2.5"/><circle cx="313.08" cy="285.26" r="2.5"/><circle cx="313.36" cy="290.94" r="2.5"/><circle cx="313.86" cy="299.8" r="2.5"/><circle cx="314.76" cy="292.33" r="2.5"/><circle cx="315.23" cy="298.15" r="2.5"/><circle cx="315.77" cy="285.06" r="2.5"/><circle cx="316.11" cy="301.93" r="2.5"/><circle cx="317.07" cy="284.33" r="2.5"/><circle cx="317.39" cy="280.93" r="2.5"/><circle cx="318.11" cy="276.59" r="2.5"/><circle cx="318.4" cy="294.91" r="2.5"/><circle cx="319.03" cy="293.69" r="2.5"/><circle cx="319.81" cy="302.85" r="2.5"/><circle cx="320.3" cy="297.15" r="2.5"/><circle cx="321.15" cy="291.74" r="2.5"/><circle cx="321.15" cy="286.27" r="2.5"/><circle cx="321.68" cy="288.22" r="2.5"/><circle cx="322.6" cy="273.06" r="2.5"/><circle cx="323.3" cy="285.94" r="2.5"/><circle cx="323.43" cy="274.44" r="2.5"/><circle cx="324.31" cy="278.4" r="2.5"/><circle cx="324.93" cy="281.74" r="2.5"/><circle cx="325.15" cy="290.58" r="2.5"/><circle cx="326.15" cy="285.47" r="2.5"/><circle cx="326.41" cy="299.84" r="2.5"/><circle cx="327.22" cy="268.53" r="2.5"/><circle cx="327.28" cy="278.89" r="2.5"/><circle cx="328.36" cy="277.83" r="2.5"/><circle cx="328.92" cy="290.06" r="2.5"/><circle cx="329.33" cy="281.29" r="2.5"/><circle cx="329.91" cy="282.26" r="2.5"/><circle cx="330.27" cy="275.6" r="2.5"/><circle cx="330.79" cy="276.18" r="2.5"/><circle cx="331.7" cy="277.3" r="2.5"/><circle cx="332.1" cy="276.38" r="2.5"/><circle cx="332.37" cy="282.65" r="2.5"/><circle cx="333.32" cy="288.88" r="2.5"/><circle cx="333.71" cy="285.51" r="2.5"/><circle cx="334.1" cy="276.75" r="2.5"/><circle cx="334.97" cy="260.68" r="2.5"/><circle cx="335.34" cy="270.74" r="2.5"/><circle cx="335.81" cy="273.23" r="2.5"/><circle cx="336.3" cy="279.74" r="2.5"/><circle cx="336.82" cy="270.55" r="2.5"/><circle cx="337.4" cy="282.83" r="2.5"/><circle cx="338.46" cy="283.19" r="2.5"/><circle cx="338.77" cy="279.59" r="2.5"/><circle cx="339.04" cy="269.15" r="2.5"/><circle cx="340" cy="275.92" r="2.5"/><circle cx="340.4" cy="278.17" r="2.5"/><circle cx="341.17" cy="269.32" r="2.5"/><circle cx="341.37" cy="272.52" r="2.5"/><circle cx="342.08" cy="260.58" r="2.5"/><circle cx="342.91" cy="283.27" r="2.5"/><circle cx="343.35" cy="287.58" r="2.5"/><circle cx="343.96" cy="271.93" r="2.5"/><circle cx="344.62" cy="269.82" r="2.5"/><circle cx="345.08" cy="265.91" r="2.5"/><circle cx="345.17" cy="255.65" r="2.5"/><circle cx="346.16" cy="280.37" r="2.5"/><circle cx="346.69" cy="281.31" r="2.5"/><circle cx="347.11" cy="281.39" r="2.5"/><circle cx="347.7" cy="276.65" r="2.5"/><circle cx="348.17" cy="274.7" r="2.5"/><circle cx="348.92" cy="257.63" r="2.5"/><circle cx="349.58" cy="262.26" r="2.5"/><circle cx="350.15" cy="268.18" r="2.5"/><circle cx="350.32" cy="284.17" r="2.5"/><circle cx="351.07" cy="273.97" r="2.5"/><circle cx="351.28" cy="272.75" r="2.5"/><circle cx="352.42" cy="271.51" r="2.5"/><circle cx="352.94" cy="271.4" r="2.5"/><circle cx="353.22" cy="267.6" r="2.5"/><circle cx="353.76" cy="268.02" r="2.5"/><circle cx="354.36" cy="275.52" r="2.5"/><circle cx="354.85" cy="281.07" r="2.5"/><circle cx="355.75" cy="283.52" r="2.5"/><circle cx="356" cy="289.76" r="2.5"/><circle cx="356.56" cy="283.16" r="2.5"/><circle cx="357.41" cy="292.05" r="2.5"/><circle cx="357.49" cy="305.86" r="2.5"/><circle cx="358.33" cy="297.29" r="2.5"/><circle cx="358.62" cy="323.22" r="2.5"/><circle cx="359.42" cy="330.17" r="2.5"/><circle cx="359.79" cy="306.65" r="2.5"/><circle cx="360.43" cy="333.63" r="2.5"/><circle cx="361.27" cy="349.37" r="2.5"/><circle cx="361.89" cy="336.19" r="2.5"/><circle cx="362.29" cy="307.18" r="2.5"/><circle cx="362.52" cy="324.94" r="2.5"/><circle cx="363.59" cy="300.42" r="2.5"/><circle cx="363.95" cy="302.55" r="2.5"/><circle cx="364.3" cy="296.42" r="2.5"/><circle cx="365.25" cy="295.69" r="2.5"/><circle cx="365.6" cy="305.87" r="2.5"/><circle cx="366.37" cy="286.96" r="2.5"/><circle cx="366.85" cy="283.61" r="2.5"/><circle cx="367.14" cy="269.04" r="2.5"/><circle cx="367.66" cy="266.81" r="2.5"/><circle cx="368.56" cy="283.21" r="2.5"/><circle cx="368.96" cy="270.53" r="2.5"/><circle cx="369.23" cy="261.58" r="2.5"/><circle cx="370.1" cy="260.45" r="2.5"/><circle cx="370.84" cy="271.86" r="2.5"/><circle cx="371.25" cy="268.61" r="2.5"/><circle cx="371.93" cy="262.48" r="2.5"/><circle cx="371.97" cy="263.06" r="2.5"/><circle cx="372.6" cy="284.25" r="2.5"/><circle cx="373.16" cy="272.42" r="2.5"/><circle cx="373.82" cy="286.97" r="2.5"/><circle cx="374.36" cy="268.6" r="2.5"/><circle cx="374.92" cy="257.45" r="2.5"/><circle cx="375.7" cy="276.78" r="2.5"/><circle cx="376.28" cy="276" r="2.5"/><circle cx="376.9" cy="291.44" r="2.5"/><circle cx="377.56" cy="264.04" r="2.5"/><circle cx="377.55" cy="284.53" r="2.5"/><circle cx="378.25" cy="256.39" r="2.5"/><circle cx="378.74" cy="271.3" r="2.5"/><circle cx="379.39" cy="265.26" r="2.5"/><circle cx="380.33" cy="252.78" r="2.5"/><circle cx="380.4" cy="271.34" r="2.5"/><circle cx="381.13" cy="280" r="2.5"/><circle cx="382.02" cy="279.54" r="2.5"/><circle cx="382.04" cy="264.88" r="2.5"/><circle cx="382.85" cy="274.35" r="2.5"/><circle cx="383.42" cy="273.96" r="2.5"/><circle cx="383.88" cy="285.6" r="2.5"/><circle cx="384.79" cy="278.6" r="2.5"/><circle cx="384.99" cy="274.19" r="2.5"/><circle cx="385.73" cy="280.32" r="2.5"/><circle cx="386.37" cy="286.88" r="2.5"/><circle cx="386.97" cy="269.82" r="2.5"/><circle cx="387.5" cy="273.02" r="2.5"/><circle cx="387.81" cy="289.47" r="2.5"/><circle cx="388.4" cy="288.42" r="2.5"/><circle cx="388.89" cy="266.22" r="2.5"/><circle cx="389.32" cy="289.67" r="2.5"/><circle cx="390.37" cy="258.66" r="2.5"/><circle cx="390.65" cy="293.5" r="2.5"/><circle cx="391.02" cy="283.24" r="2.5"/><circle cx="391.92" cy="291.49" r="2.5"/><circle cx="392.2" cy="289.21" r="2.5"/><circle cx="393.21" cy="298.13" r="2.5"/><circle cx="393.66" cy="291.9" r="2.5"/><circle cx="394.06" cy="276.12" r="2.5"/><circle cx="394.58" cy="288.42" r="2.5"/><circle cx="395.25" cy="280.62" r="2.5"/><circle cx="395.71" cy="274.04" r="2.5"/><circle cx="395.99" cy="285.28" r="2.5"/><circle cx="396.85" cy="293.27" r="2.5"/><circle cx="397.6" cy="278.31" r="2.5"/><circle cx="398" cy="285.55" r="2.5"/><circle cx="398.31" cy="282.72" r="2.5"/><circle cx="399.15" cy="296" r="2.5"/><circle cx="399.42" cy="288.09" r="2.5"/><circle cx="399.96" cy="281.61" r="2.5"/><circle cx="400.55" cy="267.43" r="2.5"/><circle cx="401.1" cy="288.85" r="2.5"/><circle cx="401.58" cy="286.62" r="2.5"/><circle cx="402.62" cy="270.6" r="2.5"/><circle cx="403" cy="289.68" r="2.5"/><circle cx="403.63" cy="297.28" r="2.5"/><circle cx="403.92" cy="274.37" r="2.5"/><circle cx="404.51" cy="287.82" r="2.5"/><circle cx="405.47" cy="305.57" r="2.5"/><circle cx="406.04" cy="289.83" r="2.5"/><circle cx="406.12" cy="289.63" r="2.5"/><circle cx="406.78" cy="286.01" r="2.5"/><circle cx="407.38" cy="275.26" r="2.5"/><circle cx="408.02" cy="284.9" r="2.5"/><circle cx="408.75" cy="292.06" r="2.5"/><circle cx="409.41" cy="287.13" r="2.5"/><circle cx="409.63" cy="288.4" r="2.5"/><circle cx="410.03" cy="293.58" r="2.5"/><circle cx="410.71" cy="292.25" r="2.5"/><circle cx="411.18" cy="288.58" r="2.5"/><circle cx="411.64" cy="292.03" r="2.5"/><circle cx="412.74" cy="308.32" r="2.5"/><circle cx="412.89" cy="269.81" r="2.5"/><circle cx="413.72" cy="276.04" r="2.5"/><circle cx="414.35" cy="296.76" r="2.5"/><circle cx="414.6" cy="298.99" r="2.5"/><circle cx="415.28" cy="278.63" r="2.5"/><circle cx="415.58" cy="302.01" r="2.5"/><circle cx="416.31" cy="301.48" r="2.5"/><circle cx="416.79" cy="294.36" r="2.5"/><circle cx="417.34" cy="299.44" r="2.5"/><circle cx="418.23" cy="273.38" r="2.5"/><circle cx="418.61" cy="300.13" r="2.5"/><circle cx="418.93" cy="290.88" r="2.5"/><circle cx="419.88" cy="278.34" r="2.5"/><circle cx="420.16" cy="277.54" r="2.5"/><circle cx="420.92" cy="291.96" r="2.5"/><circle cx="421.43" cy="292.7" r="2.5"/><circle cx="421.91" cy="301.81" r="2.5"/><circle cx="422.75" cy="273.56" r="2.5"/><circle cx="423.15" cy="289" r="2.5"/><circle cx="423.93" cy="279.99" r="2.5"/><circle cx="423.91" cy="279.56" r="2.5"/><circle cx="425.06" cy="301.71" r="2.5"/><circle cx="425.25" cy="288.83" r="2.5"/><circle cx="426.03" cy="303.41" r="2.5"/><circle cx="426.57" cy="300.39" r="2.5"/><circle cx="426.72" cy="298.5" r="2.5"/><circle cx="427.8" cy="295.65" r="2.5"/><circle cx="427.84" cy="280.78" r="2.5"/><circle cx="428.45" cy="308.12" r="2.5"/><circle cx="429.17" cy="298.12" r="2.5"/><circle cx="429.75" cy="293.82" r="2.5"/><circle cx="430.36" cy="296.66" r="2.5"/><circle cx="430.66" cy="307.99" r="2.5"/><circle cx="431.24" cy="294.65" r="2.5"/><circle cx="431.81" cy="307.33" r="2.5"/><circle cx="432.46" cy="297.97" r="2.5"/><circle cx="432.93" cy="310.46" r="2.5"/><circle cx="433.82" cy="291.47" r="2.5"/><circle cx="434.29" cy="301.76" r="2.5"/><circle cx="435" cy="312.71" r="2.5"/><circle cx="435.37" cy="285.49" r="2.5"/><circle cx="436.05" cy="293.77" r="2.5"/><circle cx="436.66" cy="288.82" r="2.5"/><circle cx="437.2" cy="291.79" r="2.5"/><circle cx="437.87" cy="307.12" r="2.5"/><circle cx="438.15" cy="294.42" r="2.5"/><circle cx="438.86" cy="293.62" r="2.5"/><circle cx="439.16" cy="312.48" r="2.5"/><circle cx="439.77" cy="289.19" r="2.5"/><circle cx="440.27" cy="294.98" r="2.5"/><circle cx="440.93" cy="285.16" r="2.5"/><circle cx="441.29" cy="299.82" r="2.5"/><circle cx="442.32" cy="295.58" r="2.5"/><circle cx="442.63" cy="315.14" r="2.5"/><circle cx="443.3" cy="294.5" r="2.5"/><circle cx="443.51" cy="311.07" r="2.5"/><circle cx="444.46" cy="296.18" r="2.5"/><circle cx="444.61" cy="304.17" r="2.5"/><circle cx="445.14" cy="295.82" r="2.5"/><circle cx="445.99" cy="299.08" r="2.5"/><circle cx="446.84" cy="308.58" r="2.5"/><circle cx="447.12" cy="273.86" r="2.5"/><circle cx="447.63" cy="283.02" r="2.5"/><circle cx="448.4" cy="302.65" r="2.5"/><circle cx="448.85" cy="311.73" r="2.5"/><circle cx="449.63" cy="297.32" r="2.5"/><circle cx="449.7" cy="284" r="2.5"/><circle cx="450.5" cy="298.36" r="2.5"/><circle cx="451.12" cy="309.55" r="2.5"/><circle cx="451.68" cy="292.68" r="2.5"/><circle cx="452.36" cy="299.42" r="2.5"/></g>
<path d="M269.23,303.23 L270.32,303.03 L271.4,302.83 L272.49,302.62 L273.57,302.41 L274.66,302.2 L275.75,301.99 L276.83,301.77 L277.92,301.54 L279,301.31 L280.09,301.08 L281.17,300.84 L282.26,300.6 L283.35,300.36 L284.43,300.11 L285.52,299.85 L286.6,299.59 L287.69,299.33 L288.78,299.06 L289.86,298.79 L290.95,298.51 L292.03,298.23 L293.12,297.94 L294.21,297.65 L295.29,297.35 L296.38,297.04 L297.46,296.73 L298.55,296.42 L299.63,296.1 L300.72,295.77 L301.81,295.43 L302.89,295.1 L303.98,294.75 L305.06,294.4 L306.15,294.04 L307.24,293.68 L308.32,293.3 L309.41,292.93 L310.49,292.54 L311.58,292.15 L312.67,291.75 L313.75,291.34 L314.84,290.93 L315.92,290.51 L317.01,290.08 L318.09,289.64 L319.18,289.2 L320.27,288.75 L321.35,288.29 L322.44,287.82 L323.52,287.34 L324.61,286.85 L325.7,286.36 L326.78,285.85 L327.87,285.34 L328.95,284.82 L330.04,284.29 L331.13,283.74 L332.21,283.19 L333.3,282.63 L334.38,282.06 L335.47,281.48 L336.55,280.88 L337.64,280.28 L338.73,279.67 L339.81,279.04 L340.9,278.4 L341.98,277.75 L343.07,277.09 L344.16,276.42 L345.24,275.74 L346.33,275.06 L347.41,274.39 L348.5,273.76 L349.59,273.24 L350.67,272.95 L351.76,273.14 L352.84,274.19 L353.93,276.73 L355.01,281.55 L355.01,281.55 L355.11,282.14 L355.21,282.76 L355.31,283.4 L355.41,284.07 L355.51,284.77 L355.61,285.5 L355.71,286.26 L355.81,287.06 L355.91,287.88 L356.01,288.73 L356.11,289.62 L356.21,290.54 L356.31,291.49 L356.41,292.47 L356.51,293.49 L356.61,294.54 L356.71,295.62 L356.81,296.73 L356.91,297.87 L357.01,299.05 L357.11,300.26 L357.21,301.49 L357.31,302.76 L357.41,304.06 L357.51,305.39 L357.61,306.74 L357.71,308.12 L357.81,309.52 L357.91,310.95 L358.01,312.39 L358.11,313.86 L358.21,315.35 L358.31,316.85 L358.41,318.36 L358.51,319.89 L358.61,321.42 L358.71,322.96 L358.81,324.5 L358.91,326.04 L359,327.58 L359.1,329.11 L359.2,330.62 L359.3,332.12 L359.4,333.6 L359.5,335.06 L359.6,336.49 L359.7,337.88 L359.8,339.23 L359.9,340.53 L360,341.78 L360.1,342.97 L360.2,344.1 L360.3,345.15 L360.4,346.12 L360.5,347 L360.6,347.78 L360.7,348.44 L360.8,348.96 L360.9,349.32 L361,349.45 L361.1,349.32 L361.2,348.96 L361.3,348.44 L361.4,347.78 L361.5,347 L361.6,346.12 L361.7,345.15 L361.8,344.1 L361.9,342.97 L362,341.78 L362.1,340.53 L362.2,339.23 L362.3,337.88 L362.4,336.49 L362.5,335.06 L362.6,333.6 L362.7,332.12 L362.8,330.62 L362.9,329.11 L363,327.58 L363.09,326.04 L363.19,324.5 L363.29,322.96 L363.39,321.42 L363.49,319.89 L363.59,318.36 L363.69,316.85 L363.79,315.35 L363.89,313.86 L363.99,312.39 L364.09,310.95 L364.19,309.52 L364.29,308.12 L364.39,306.74 L364.49,305.39 L364.59,304.06 L364.69,302.76 L364.79,301.49 L364.89,300.26 L364.99,299.05 L365.09,297.87 L365.19,296.73 L365.29,295.62 L365.39,294.54 L365.49,293.49 L365.59,292.47 L365.69,291.49 L365.79,290.54 L365.89,289.62 L365.99,288.73 L366.09,287.88 L366.19,287.06 L366.29,286.26 L366.39,285.5 L366.49,284.77 L366.59,284.07 L366.69,283.4 L366.79,282.76 L366.89,282.14 L366.99,281.55 L366.99,281.55 L368.07,276.73 L369.16,274.19 L370.24,273.14 L371.33,272.95 L372.41,273.24 L373.5,273.76 L374.59,274.39 L375.67,275.06 L376.76,275.74 L377.84,276.42 L378.93,277.09 L380.02,277.75 L381.1,278.4 L382.19,279.04 L383.27,279.67 L384.36,280.28 L385.45,280.88 L386.53,281.48 L387.62,282.06 L388.7,282.63 L389.79,283.19 L390.87,283.74 L391.96,284.29 L393.05,284.82 L394.13,285.34 L395.22,285.85 L396.3,286.36 L397.39,286.85 L398.48,287.34 L399.56,287.82 L400.65,288.29 L401.73,288.75 L402.82,289.2 L403.91,289.64 L404.99,290.08 L406.08,290.51 L407.16,290.93 L408.25,291.34 L409.33,291.75 L410.42,292.15 L411.51,292.54 L412.59,292.93 L413.68,293.3 L414.76,293.68 L415.85,294.04 L416.94,294.4 L418.02,294.75 L419.11,295.1 L420.19,295.43 L421.28,295.77 L422.37,296.1 L423.45,296.42 L424.54,296.73 L425.62,297.04 L426.71,297.35 L427.79,297.65 L428.88,297.94 L429.97,298.23 L431.05,298.51 L432.14,298.79 L433.22,299.06 L434.31,299.33 L435.4,299.59 L436.48,299.85 L437.57,300.11 L438.65,300.36 L439.74,300.6 L440.83,300.84 L441.91,301.08 L443,301.31 L444.08,301.54 L445.17,301.77 L446.25,301.99 L447.34,302.2 L448.43,302.41 L449.51,302.62 L450.6,302.83 L451.68,303.03 L452.77,303.23" fill="none" stroke="#ec1c24" stroke-width="2.1" stroke-linejoin="round"/>
</g>
<rect x="271.5" y="212.5" width="179.5" height="150.3" fill="none" stroke="#505050" stroke-width="1"/>
<line x1="451" y1="213" x2="451" y2="362.3" stroke="#7a7a7a" stroke-width="1"/>
<line x1="281.2" y1="362.8" x2="281.2" y2="359.8" stroke="#333" stroke-width="0.9"/>
<line x1="301.15" y1="362.8" x2="301.15" y2="361" stroke="#333" stroke-width="0.9"/>
<line x1="321.1" y1="362.8" x2="321.1" y2="359.8" stroke="#333" stroke-width="0.9"/>
<line x1="341.05" y1="362.8" x2="341.05" y2="361" stroke="#333" stroke-width="0.9"/>
<line x1="361" y1="362.8" x2="361" y2="359.8" stroke="#333" stroke-width="0.9"/>
<line x1="380.95" y1="362.8" x2="380.95" y2="361" stroke="#333" stroke-width="0.9"/>
<line x1="400.9" y1="362.8" x2="400.9" y2="359.8" stroke="#333" stroke-width="0.9"/>
<line x1="420.85" y1="362.8" x2="420.85" y2="361" stroke="#333" stroke-width="0.9"/>
<line x1="440.8" y1="362.8" x2="440.8" y2="359.8" stroke="#333" stroke-width="0.9"/>
<text transform="translate(279.2 377.2) scale(1 1.07)" font-size="11.5" text-anchor="middle" fill="#1a1a1a">-40</text>
<text transform="translate(319.1 377.2) scale(1 1.07)" font-size="11.5" text-anchor="middle" fill="#1a1a1a">-20</text>
<text transform="translate(361 377.2) scale(1 1.07)" font-size="11.5" text-anchor="middle" fill="#1a1a1a">0</text>
<text transform="translate(400.9 377.2) scale(1 1.07)" font-size="11.5" text-anchor="middle" fill="#1a1a1a">20</text>
<text transform="translate(440.8 377.2) scale(1 1.07)" font-size="11.5" text-anchor="middle" fill="#1a1a1a">40</text>
<line x1="271.5" y1="362.6" x2="274.5" y2="362.6" stroke="#333" stroke-width="0.9"/>
<text transform="translate(268.2 366.6) scale(1 1.07)" font-size="11.5" text-anchor="end" fill="#1a1a1a">0</text>
<line x1="271.5" y1="338.35" x2="273.3" y2="338.35" stroke="#333" stroke-width="0.9"/>
<line x1="271.5" y1="314.1" x2="274.5" y2="314.1" stroke="#333" stroke-width="0.9"/>
<text transform="translate(268.2 318.1) scale(1 1.07)" font-size="11.5" text-anchor="end" fill="#1a1a1a">1</text>
<line x1="271.5" y1="289.85" x2="273.3" y2="289.85" stroke="#333" stroke-width="0.9"/>
<line x1="271.5" y1="265.6" x2="274.5" y2="265.6" stroke="#333" stroke-width="0.9"/>
<text transform="translate(268.2 269.6) scale(1 1.07)" font-size="11.5" text-anchor="end" fill="#1a1a1a">2</text>
<line x1="271.5" y1="241.35" x2="273.3" y2="241.35" stroke="#333" stroke-width="0.9"/>
<line x1="271.5" y1="217.1" x2="274.5" y2="217.1" stroke="#333" stroke-width="0.9"/>
<text transform="translate(268.2 221.1) scale(1 1.07)" font-size="11.5" text-anchor="end" fill="#1a1a1a">3</text>
<text x="119.3" y="389.8" font-size="12.3" text-anchor="middle" font-weight="normal" fill="#1a1a1a" >Delay time (ns)</text>
<text x="361.3" y="390.2" font-size="12.3" text-anchor="middle" font-weight="normal" fill="#1a1a1a" >Delay time (ns)</text>
<text transform="translate(14.6 289.0) rotate(-90)" font-size="13" text-anchor="middle" fill="#1a1a1a"><tspan font-style="italic">g</tspan><tspan font-size="9" dy="-5.2">2</tspan><tspan dy="5.2" font-size="12"> (</tspan><tspan font-style="italic" font-size="11.5">τ</tspan><tspan font-size="12">)</tspan></text>
<text transform="translate(256.0 291.2) rotate(-90)" font-size="13" text-anchor="middle" fill="#1a1a1a"><tspan font-style="italic">g</tspan><tspan font-size="9" dy="-5.2">2</tspan><tspan dy="5.2" font-size="12"> (</tspan><tspan font-style="italic" font-size="11.5">τ</tspan><tspan font-size="12">)</tspan></text>
<rect x="504.3" y="211.5" width="179.3" height="151.2" fill="url(#fbg)"/>
<clipPath id="clF"><rect x="504.3" y="211.5" width="179.3" height="151.2"/></clipPath><g clip-path="url(#clF)">
<circle cx="668.9" cy="231.46" r="3.6" fill="#5b93e8"/>
<circle cx="612.95" cy="249.68" r="3.6" fill="#5b93e8"/>
<circle cx="594.2" cy="254.23" r="3.6" fill="#5b93e8"/>
<circle cx="556.4" cy="282.06" r="3.6" fill="#5b93e8"/>
<circle cx="542.75" cy="302.81" r="3.6" fill="#5b93e8"/>
<circle cx="533.9" cy="315.05" r="3.6" fill="#5b93e8"/>
<circle cx="528.5" cy="321.33" r="3.6" fill="#5b93e8"/>
<circle cx="525.05" cy="336" r="3.6" fill="#5b93e8"/>
<circle cx="519.65" cy="347.84" r="3.6" fill="#5b93e8"/>
<circle cx="668.9" cy="294.91" r="3.6" fill="#62cc8c"/>
<circle cx="612.95" cy="299.26" r="3.6" fill="#62cc8c"/>
<circle cx="571.25" cy="305.84" r="3.6" fill="#62cc8c"/>
<circle cx="556.4" cy="314.14" r="3.6" fill="#62cc8c"/>
<circle cx="542.75" cy="324.67" r="3.6" fill="#62cc8c"/>
<circle cx="533.9" cy="327.6" r="3.6" fill="#62cc8c"/>
<circle cx="528.5" cy="338.02" r="3.6" fill="#62cc8c"/>
<circle cx="525.05" cy="340.96" r="3.6" fill="#62cc8c"/>
<circle cx="520.1" cy="344.4" r="3.6" fill="#62cc8c"/>
<circle cx="519.2" cy="348.35" r="3.6" fill="#62cc8c"/>
<circle cx="518.9" cy="351.48" r="3.6" fill="#62cc8c"/>
<path d="M518.9,351.38 L519.84,350.76 L520.79,348.75 L521.73,346.86 L522.67,345.07 L523.62,343.39 L524.56,341.79 L525.5,340.27 L526.45,338.83 L527.39,337.47 L528.33,336.16 L529.28,334.92 L530.22,333.74 L531.16,332.61 L532.11,331.53 L533.05,330.5 L533.99,329.51 L534.94,328.56 L535.88,327.65 L536.82,326.77 L537.77,325.93 L538.71,325.12 L539.65,324.34 L540.6,323.59 L541.54,322.87 L542.48,322.17 L543.43,321.5 L544.37,320.85 L545.32,320.22 L546.26,319.61 L547.2,319.03 L548.15,318.46 L549.09,317.91 L550.03,317.37 L550.98,316.85 L551.92,316.35 L552.86,315.86 L553.81,315.39 L554.75,314.93 L555.69,314.49 L556.64,314.05 L557.58,313.63 L558.52,313.22 L559.47,312.82 L560.41,312.43 L561.35,312.05 L562.3,311.68 L563.24,311.32 L564.18,310.97 L565.13,310.63 L566.07,310.3 L567.01,309.97 L567.96,309.66 L568.9,309.35 L569.84,309.04 L570.79,308.75 L571.73,308.46 L572.67,308.18 L573.62,307.9 L574.56,307.63 L575.5,307.37 L576.45,307.11 L577.39,306.86 L578.33,306.61 L579.28,306.37 L580.22,306.13 L581.16,305.9 L582.11,305.67 L583.05,305.45 L583.99,305.23 L584.94,305.01 L585.88,304.8 L586.82,304.6 L587.77,304.4 L588.71,304.2 L589.65,304 L590.6,303.81 L591.54,303.62 L592.48,303.44 L593.43,303.26 L594.37,303.08 L595.32,302.91 L596.26,302.74 L597.2,302.57 L598.15,302.4 L599.09,302.24 L600.03,302.08 L600.98,301.92 L601.92,301.77 L602.86,301.62 L603.81,301.47 L604.75,301.32 L605.69,301.18 L606.64,301.03 L607.58,300.89 L608.52,300.76 L609.47,300.62 L610.41,300.49 L611.35,300.36 L612.3,300.23 L613.24,300.1 L614.18,299.97 L615.13,299.85 L616.07,299.73 L617.01,299.61 L617.96,299.49 L618.9,299.37 L619.84,299.26 L620.79,299.15 L621.73,299.03 L622.67,298.92 L623.62,298.82 L624.56,298.71 L625.5,298.6 L626.45,298.5 L627.39,298.4 L628.33,298.3 L629.28,298.2 L630.22,298.1 L631.16,298 L632.11,297.9 L633.05,297.81 L633.99,297.72 L634.94,297.62 L635.88,297.53 L636.82,297.44 L637.77,297.36 L638.71,297.27 L639.65,297.18 L640.6,297.1 L641.54,297.01 L642.48,296.93 L643.43,296.85 L644.37,296.76 L645.32,296.68 L646.26,296.6 L647.2,296.53 L648.15,296.45 L649.09,296.37 L650.03,296.3 L650.98,296.22 L651.92,296.15 L652.86,296.08 L653.81,296 L654.75,295.93 L655.69,295.86 L656.64,295.79 L657.58,295.72 L658.52,295.65 L659.47,295.59 L660.41,295.52 L661.35,295.45 L662.3,295.39 L663.24,295.32 L664.18,295.26 L665.13,295.2 L666.07,295.13 L667.01,295.07 L667.96,295.01 L668.9,294.95" fill="none" stroke="#62cc8c" stroke-width="1.8"/>
<path d="M518.9,351.38 L519.84,349.7 L520.79,346.63 L521.73,343.68 L522.67,340.84 L523.62,338.11 L524.56,335.49 L525.5,332.96 L526.45,330.52 L527.39,328.16 L528.33,325.89 L529.28,323.7 L530.22,321.57 L531.16,319.52 L532.11,317.54 L533.05,315.62 L533.99,313.75 L534.94,311.95 L535.88,310.2 L536.82,308.51 L537.77,306.86 L538.71,305.26 L539.65,303.71 L540.6,302.2 L541.54,300.73 L542.48,299.31 L543.43,297.92 L544.37,296.57 L545.32,295.25 L546.26,293.97 L547.2,292.73 L548.15,291.51 L549.09,290.33 L550.03,289.17 L550.98,288.04 L551.92,286.94 L552.86,285.87 L553.81,284.82 L554.75,283.8 L555.69,282.8 L556.64,281.82 L557.58,280.86 L558.52,279.93 L559.47,279.01 L560.41,278.12 L561.35,277.25 L562.3,276.39 L563.24,275.55 L564.18,274.73 L565.13,273.93 L566.07,273.14 L567.01,272.37 L567.96,271.62 L568.9,270.87 L569.84,270.15 L570.79,269.44 L571.73,268.74 L572.67,268.05 L573.62,267.38 L574.56,266.72 L575.5,266.08 L576.45,265.44 L577.39,264.82 L578.33,264.21 L579.28,263.6 L580.22,263.01 L581.16,262.43 L582.11,261.86 L583.05,261.3 L583.99,260.75 L584.94,260.21 L585.88,259.68 L586.82,259.16 L587.77,258.64 L588.71,258.14 L589.65,257.64 L590.6,257.15 L591.54,256.67 L592.48,256.19 L593.43,255.73 L594.37,255.27 L595.32,254.81 L596.26,254.37 L597.2,253.93 L598.15,253.5 L599.09,253.07 L600.03,252.65 L600.98,252.24 L601.92,251.83 L602.86,251.43 L603.81,251.04 L604.75,250.65 L605.69,250.27 L606.64,249.89 L607.58,249.51 L608.52,249.15 L609.47,248.78 L610.41,248.43 L611.35,248.07 L612.3,247.73 L613.24,247.38 L614.18,247.04 L615.13,246.71 L616.07,246.38 L617.01,246.06 L617.96,245.74 L618.9,245.42 L619.84,245.11 L620.79,244.8 L621.73,244.49 L622.67,244.19 L623.62,243.89 L624.56,243.6 L625.5,243.31 L626.45,243.03 L627.39,242.74 L628.33,242.46 L629.28,242.19 L630.22,241.92 L631.16,241.65 L632.11,241.38 L633.05,241.12 L633.99,240.86 L634.94,240.6 L635.88,240.35 L636.82,240.1 L637.77,239.85 L638.71,239.6 L639.65,239.36 L640.6,239.12 L641.54,238.89 L642.48,238.65 L643.43,238.42 L644.37,238.19 L645.32,237.97 L646.26,237.74 L647.2,237.52 L648.15,237.3 L649.09,237.08 L650.03,236.87 L650.98,236.66 L651.92,236.45 L652.86,236.24 L653.81,236.03 L654.75,235.83 L655.69,235.63 L656.64,235.43 L657.58,235.23 L658.52,235.04 L659.47,234.85 L660.41,234.65 L661.35,234.46 L662.3,234.28 L663.24,234.09 L664.18,233.91 L665.13,233.73 L666.07,233.55 L667.01,233.37 L667.96,233.19 L668.9,233.02" fill="none" stroke="#5b93e8" stroke-width="1.8"/>
</g>
<rect x="504.3" y="211.5" width="179.3" height="151.2" fill="none" stroke="#505050" stroke-width="1"/>
<line x1="683.6" y1="212" x2="683.6" y2="362.2" stroke="#808080" stroke-width="1"/>
<line x1="518.9" y1="362.7" x2="518.9" y2="359.7" stroke="#333" stroke-width="0.9"/>
<text transform="translate(518.9 377) scale(1 1.07)" font-size="11.5" text-anchor="middle" fill="#1a1a1a">0</text>
<line x1="533.9" y1="362.7" x2="533.9" y2="360.9" stroke="#333" stroke-width="0.9"/>
<line x1="548.9" y1="362.7" x2="548.9" y2="359.7" stroke="#333" stroke-width="0.9"/>
<text transform="translate(548.9 377) scale(1 1.07)" font-size="11.5" text-anchor="middle" fill="#1a1a1a">2</text>
<line x1="563.9" y1="362.7" x2="563.9" y2="360.9" stroke="#333" stroke-width="0.9"/>
<line x1="578.9" y1="362.7" x2="578.9" y2="359.7" stroke="#333" stroke-width="0.9"/>
<text transform="translate(578.9 377) scale(1 1.07)" font-size="11.5" text-anchor="middle" fill="#1a1a1a">4</text>
<line x1="593.9" y1="362.7" x2="593.9" y2="360.9" stroke="#333" stroke-width="0.9"/>
<line x1="608.9" y1="362.7" x2="608.9" y2="359.7" stroke="#333" stroke-width="0.9"/>
<text transform="translate(608.9 377) scale(1 1.07)" font-size="11.5" text-anchor="middle" fill="#1a1a1a">6</text>
<line x1="623.9" y1="362.7" x2="623.9" y2="360.9" stroke="#333" stroke-width="0.9"/>
<line x1="638.9" y1="362.7" x2="638.9" y2="359.7" stroke="#333" stroke-width="0.9"/>
<text transform="translate(638.9 377) scale(1 1.07)" font-size="11.5" text-anchor="middle" fill="#1a1a1a">8</text>
<line x1="653.9" y1="362.7" x2="653.9" y2="360.9" stroke="#333" stroke-width="0.9"/>
<line x1="668.9" y1="362.7" x2="668.9" y2="359.7" stroke="#333" stroke-width="0.9"/>
<text transform="translate(668.9 377) scale(1 1.07)" font-size="11.5" text-anchor="middle" fill="#1a1a1a">10</text>
<line x1="504.3" y1="352.9" x2="507.3" y2="352.9" stroke="#333" stroke-width="0.9"/>
<text transform="translate(501.3 357.7) scale(1 1.07)" font-size="11.5" text-anchor="end" fill="#1a1a1a">0</text>
<line x1="504.3" y1="332.66" x2="506.1" y2="332.66" stroke="#333" stroke-width="0.9"/>
<line x1="504.3" y1="312.42" x2="507.3" y2="312.42" stroke="#333" stroke-width="0.9"/>
<text transform="translate(501.3 317.22) scale(1 1.07)" font-size="11.5" text-anchor="end" fill="#1a1a1a">4</text>
<line x1="504.3" y1="292.18" x2="506.1" y2="292.18" stroke="#333" stroke-width="0.9"/>
<line x1="504.3" y1="271.94" x2="507.3" y2="271.94" stroke="#333" stroke-width="0.9"/>
<text transform="translate(501.3 276.74) scale(1 1.07)" font-size="11.5" text-anchor="end" fill="#1a1a1a">8</text>
<line x1="504.3" y1="251.7" x2="506.1" y2="251.7" stroke="#333" stroke-width="0.9"/>
<line x1="504.3" y1="231.46" x2="507.3" y2="231.46" stroke="#333" stroke-width="0.9"/>
<text transform="translate(501.3 236.26) scale(1 1.07)" font-size="11.5" text-anchor="end" fill="#1a1a1a">12</text>
<text x="593.8" y="390.4" font-size="12.4" text-anchor="middle" font-weight="normal" fill="#1a1a1a" >Excitation power (mW)</text>
<text transform="translate(483.2 287.0) rotate(-90)" font-size="13" text-anchor="middle" fill="#1a1a1a">Intensity (10<tspan font-size="8" dy="-4.5">3</tspan><tspan dy="4.5">)</tspan></text>
<line x1="583.3" y1="325.9" x2="598.2" y2="325.9" stroke="#5b93e8" stroke-width="2"/>
<line x1="583.3" y1="340.3" x2="598.2" y2="340.3" stroke="#62cc8c" stroke-width="2"/>
<text x="601.2" y="328.5" font-size="11.2" text-anchor="start" font-weight="normal" fill="#1a1a1a" >Homoepitaxial</text>
<text x="601.2" y="343" font-size="11.2" text-anchor="start" font-weight="normal" fill="#1a1a1a" >Heteroepitaxial</text>
</svg></body></html>
